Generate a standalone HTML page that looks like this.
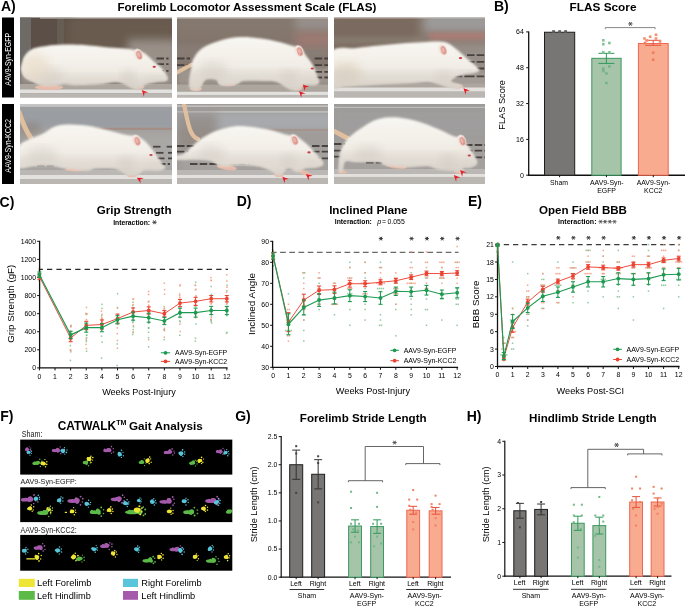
<!DOCTYPE html>
<html><head><meta charset="utf-8"><style>
html,body{margin:0;padding:0;background:#fff;width:685px;height:607px;overflow:hidden}
svg{display:block;will-change:transform}
svg text{font-family:"Liberation Sans", sans-serif}
</style></head><body>
<svg width="685" height="607" viewBox="0 0 685 607">
<text x="0.93" y="10.50" font-size="14.00" font-weight="bold" fill="#000" >A)</text>
<text x="117.45" y="10.70" font-size="11.61" font-weight="bold" fill="#000" >Forelimb Locomotor Assessment Scale (FLAS)</text>
<rect x="2.00" y="17.50" width="12.00" height="80.00" fill="#000" />
<rect x="2.00" y="104.00" width="12.00" height="80.00" fill="#000" />
<text transform="translate(10.70,85.63) rotate(-90) scale(1,1.2)" font-size="6.95" fill="#fff">AAV9-Syn-EGFP</text>
<text transform="translate(10.70,172.64) rotate(-90) scale(1,1.2)" font-size="7.13" fill="#fff">AAV9-Syn-KCC2</text>
<defs>
<filter id="bl" x="-10%" y="-10%" width="120%" height="120%"><feGaussianBlur stdDeviation="0.55"/></filter>
<filter id="bll" filterUnits="userSpaceOnUse" x="-20" y="-20" width="200" height="130"><feGaussianBlur stdDeviation="0.5"/></filter>
<filter id="blb" x="-10%" y="-10%" width="120%" height="120%"><feGaussianBlur stdDeviation="0.85"/></filter>
<filter id="bl2" x="-20%" y="-20%" width="140%" height="140%"><feGaussianBlur stdDeviation="2.2"/></filter>
<filter id="bl3" x="-20%" y="-20%" width="140%" height="140%"><feGaussianBlur stdDeviation="4"/></filter>
<linearGradient id="ratg" x1="0" y1="0" x2="0" y2="1">
 <stop offset="0" stop-color="#f8f6f1"/><stop offset="0.5" stop-color="#f2eee7"/><stop offset="0.8" stop-color="#e9e4dc"/><stop offset="1" stop-color="#d9d2c8"/></linearGradient>
<linearGradient id="floor" x1="0" y1="0" x2="0" y2="1">
 <stop offset="0" stop-color="#aba59f"/><stop offset="0.25" stop-color="#b5b0ab"/><stop offset="0.4" stop-color="#e4e2df"/><stop offset="0.6" stop-color="#d6d3d0"/><stop offset="1" stop-color="#b8b3af"/></linearGradient>
</defs>
<clipPath id="c20_17"><rect x="0" y="0" width="152" height="80"/></clipPath>
<g transform="translate(20,17.5)" clip-path="url(#c20_17)">
<rect x="0" y="0" width="152" height="80" fill="#66594f"/><rect x="-5" y="-5" width="60" height="50" fill="#5c5047" opacity="1" filter="url(#bl3)"/><rect x="0" y="0" width="11" height="70" fill="#6e6a66" opacity="1" filter="url(#bl)"/><rect x="37" y="0" width="7" height="40" fill="#6b6259" opacity="0.8" filter="url(#bl)"/><rect x="45" y="0" width="110" height="40" fill="#6a5b50" opacity="0.9" filter="url(#bl3)"/><rect x="108" y="22" width="50" height="45" fill="#9c938c" opacity="0.95" filter="url(#bl3)"/><rect x="0" y="56" width="160" height="12" fill="#958d87" opacity="1" filter="url(#bl2)"/><rect x="20" y="-2" width="140" height="3" fill="#d8d4d0" opacity="0.9" filter="url(#bl)"/>
<line x1="136.5" y1="41" x2="148.5" y2="41" stroke="#3b3532" stroke-width="1.8" stroke-dasharray="7.5,2.2" opacity="0.85" filter="url(#bll)"/>
<line x1="136.5" y1="46.6" x2="148.5" y2="46.6" stroke="#3b3532" stroke-width="1.8" stroke-dasharray="7.5,2.2" opacity="0.85" filter="url(#bll)"/>
<line x1="136.5" y1="53.3" x2="148.5" y2="53.3" stroke="#3b3532" stroke-width="1.8" stroke-dasharray="7.5,2.2" opacity="0.85" filter="url(#bll)"/>
<rect x="-2" y="66.5" width="156" height="6.0" fill="#aca69f" filter="url(#bl)"/>
<rect x="-2" y="72" width="156" height="4" fill="#e3e1de" filter="url(#bl)"/>
<rect x="-2" y="75.7" width="156" height="8" fill="#bab6b2" filter="url(#bl)"/>
<ellipse cx="29" cy="69.8" rx="14" ry="2.6" fill="#e7bbab" transform="rotate(0 29 69.8)" filter="url(#bl)"/>
<ellipse cx="119" cy="69.5" rx="5.5" ry="2.2" fill="#e7bbab" transform="rotate(0 119 69.5)" filter="url(#bl)"/>
<path d="M2.0,46.0C2.7,43.7 3.1,40.5 5.0,38.0C6.9,35.5 9.7,32.7 13.3,31.1C16.9,29.5 21.4,29.1 26.6,28.4C31.8,27.7 37.7,27.2 44.4,27.1C51.1,27.0 59.2,27.2 66.6,27.7C74.0,28.2 82.5,29.4 88.8,30.0C95.1,30.6 100.2,30.7 104.3,31.1C108.4,31.5 109.9,31.5 113.2,32.2C116.5,32.9 121.0,33.6 124.3,35.5C127.6,37.4 130.2,40.7 133.1,43.3C136.0,45.9 139.6,48.3 142.0,51.0C144.4,53.7 146.8,57.5 147.5,59.5C148.2,61.5 148.1,62.4 146.4,63.2C144.8,64.0 140.9,63.7 137.6,64.3C134.3,64.9 129.3,65.6 126.5,66.6C123.7,67.5 123.1,69.2 121.0,70.0C118.9,70.8 116.8,72.1 114.0,71.5C111.2,70.9 107.4,67.8 104.3,66.6C101.2,65.4 99.5,64.3 95.4,64.3C91.3,64.3 86.6,66.0 79.9,66.6C73.2,67.2 61.4,67.7 55.5,67.7C49.6,67.7 47.6,66.5 44.4,66.6C41.1,66.6 39.7,67.8 36.0,68.0C32.3,68.2 25.8,68.6 22.0,68.0C18.2,67.4 15.9,65.6 13.3,64.5C10.8,63.4 8.4,62.6 6.7,61.5C5.0,60.4 4.0,59.6 3.0,58.0C2.0,56.4 1.2,54.0 1.0,52.0C0.8,50.0 1.3,48.3 2.0,46.0Z" fill="url(#ratg)" filter="url(#blb)"/>
<clipPath id="c20_17b"><path d="M2.0,46.0C2.7,43.7 3.1,40.5 5.0,38.0C6.9,35.5 9.7,32.7 13.3,31.1C16.9,29.5 21.4,29.1 26.6,28.4C31.8,27.7 37.7,27.2 44.4,27.1C51.1,27.0 59.2,27.2 66.6,27.7C74.0,28.2 82.5,29.4 88.8,30.0C95.1,30.6 100.2,30.7 104.3,31.1C108.4,31.5 109.9,31.5 113.2,32.2C116.5,32.9 121.0,33.6 124.3,35.5C127.6,37.4 130.2,40.7 133.1,43.3C136.0,45.9 139.6,48.3 142.0,51.0C144.4,53.7 146.8,57.5 147.5,59.5C148.2,61.5 148.1,62.4 146.4,63.2C144.8,64.0 140.9,63.7 137.6,64.3C134.3,64.9 129.3,65.6 126.5,66.6C123.7,67.5 123.1,69.2 121.0,70.0C118.9,70.8 116.8,72.1 114.0,71.5C111.2,70.9 107.4,67.8 104.3,66.6C101.2,65.4 99.5,64.3 95.4,64.3C91.3,64.3 86.6,66.0 79.9,66.6C73.2,67.2 61.4,67.7 55.5,67.7C49.6,67.7 47.6,66.5 44.4,66.6C41.1,66.6 39.7,67.8 36.0,68.0C32.3,68.2 25.8,68.6 22.0,68.0C18.2,67.4 15.9,65.6 13.3,64.5C10.8,63.4 8.4,62.6 6.7,61.5C5.0,60.4 4.0,59.6 3.0,58.0C2.0,56.4 1.2,54.0 1.0,52.0C0.8,50.0 1.3,48.3 2.0,46.0Z"/></clipPath>
<g clip-path="url(#c20_17b)">
<ellipse cx="28" cy="58" rx="16" ry="8" fill="#c8c0b6" opacity="0.35" filter="url(#bl3)"/>
<ellipse cx="108" cy="60" rx="7" ry="8" fill="#c8c0b6" opacity="0.35" filter="url(#bl3)"/>
<ellipse cx="136" cy="62" rx="8" ry="3" fill="#c8c0b6" opacity="0.3" filter="url(#bl3)"/>
<rect x="-5" y="58" width="170" height="17" fill="#d4cec6" opacity="0.45" filter="url(#bl3)"/>
<ellipse cx="15" cy="50" rx="14" ry="14" fill="#e8dcc6" opacity="0.6" filter="url(#bl3)"/>
</g>
<ellipse cx="118.3" cy="37" rx="4.2" ry="6.0" fill="#f3e4de" transform="rotate(-20 118.3 37)" filter="url(#bl)"/>
<ellipse cx="118.89999999999999" cy="37.9" rx="2.6" ry="4.3" fill="#dc948a" transform="rotate(-20 118.3 37)" filter="url(#bl)"/>
<ellipse cx="118.6" cy="37.3" rx="1.4" ry="2.8" fill="#eab8ae" transform="rotate(-20 118.3 37)" filter="url(#bl)"/>
<ellipse cx="134.2" cy="49.3" rx="1.7" ry="1.1" fill="#c8404a" filter="url(#bl)"/>
<path d="M121.8,72.5L128.4,74.9L124.5,75.3L123.9,79.2Z" fill="#e51d25"/>
</g>
<clipPath id="c177_17"><rect x="0" y="0" width="151" height="80"/></clipPath>
<g transform="translate(177,17.5)" clip-path="url(#c177_17)">
<rect x="0" y="0" width="151" height="80" fill="#82756c"/><rect x="-5" y="-5" width="160" height="22" fill="#85786e" opacity="1" filter="url(#bl3)"/><rect x="-5" y="28" width="160" height="14" fill="#8b8079" opacity="0.8" filter="url(#bl3)"/><rect x="118" y="-5" width="40" height="18" fill="#9a928e" opacity="0.9" filter="url(#bl3)"/><rect x="118" y="15" width="40" height="14" fill="#a47c74" opacity="0.8" filter="url(#bl3)"/><rect x="0" y="50" width="160" height="18" fill="#9d948d" opacity="1" filter="url(#bl2)"/><rect x="-2" y="-2" width="160" height="3" fill="#d4cfca" opacity="0.9" filter="url(#bl)"/>
<line x1="0" y1="41" x2="13" y2="41" stroke="#3b3532" stroke-width="1.8" stroke-dasharray="7.5,2.2" opacity="0.85" filter="url(#bll)"/>
<line x1="0" y1="47.7" x2="13" y2="47.7" stroke="#3b3532" stroke-width="1.8" stroke-dasharray="7.5,2.2" opacity="0.85" filter="url(#bll)"/>
<line x1="137.6" y1="41" x2="153.6" y2="41" stroke="#3b3532" stroke-width="1.8" stroke-dasharray="7.5,2.2" opacity="0.85" filter="url(#bll)"/>
<line x1="137.6" y1="47.7" x2="153.6" y2="47.7" stroke="#3b3532" stroke-width="1.8" stroke-dasharray="7.5,2.2" opacity="0.85" filter="url(#bll)"/>
<line x1="137.6" y1="54.4" x2="153.6" y2="54.4" stroke="#3b3532" stroke-width="1.8" stroke-dasharray="7.5,2.2" opacity="0.85" filter="url(#bll)"/>
<line x1="137.6" y1="60" x2="153.6" y2="60" stroke="#3b3532" stroke-width="1.8" stroke-dasharray="7.5,2.2" opacity="0.85" filter="url(#bll)"/>
<rect x="-2" y="67" width="155" height="7.799999999999997" fill="#aca69f" filter="url(#bl)"/>
<rect x="-2" y="74.3" width="155" height="3.4000000000000057" fill="#e3e1de" filter="url(#bl)"/>
<rect x="-2" y="77.4" width="155" height="6.299999999999997" fill="#bab6b2" filter="url(#bl)"/>
<path d="M-2,56 C4,53 9,50 15,47" fill="none" stroke="#e0bf9f" stroke-width="3.8" stroke-linecap="round" filter="url(#bl)"/>
<ellipse cx="50" cy="66" rx="9" ry="2.6" fill="#e7bbab" transform="rotate(5 50 66)" filter="url(#bl)"/>
<ellipse cx="19" cy="71.5" rx="6" ry="2" fill="#e7bbab" transform="rotate(0 19 71.5)" filter="url(#bl)"/>
<ellipse cx="121" cy="71" rx="4" ry="2" fill="#e7bbab" transform="rotate(0 121 71)" filter="url(#bl)"/>
<path d="M14.4,50.0C15.0,46.5 14.2,46.1 15.5,43.3C16.8,40.5 19.2,36.1 22.2,33.3C25.2,30.5 28.5,28.6 33.3,26.6C38.1,24.6 45.5,22.3 51.0,21.1C56.5,19.9 61.0,19.5 66.6,19.5C72.1,19.5 78.8,20.4 84.3,21.1C89.8,21.9 95.0,22.9 99.8,24.0C104.6,25.1 109.2,26.5 113.2,27.7C117.2,28.9 121.4,29.3 124.0,31.0C126.6,32.7 126.8,35.1 128.7,37.7C130.6,40.3 133.5,43.3 135.3,46.6C137.2,49.9 138.7,54.6 139.8,57.7C140.9,60.8 142.4,63.3 142.0,65.0C141.6,66.7 139.8,67.2 137.6,67.7C135.4,68.2 131.1,67.2 128.7,67.7C126.3,68.2 124.9,70.1 123.1,71.0C121.2,71.9 119.6,73.2 117.6,73.2C115.6,73.2 114.0,72.5 111.0,71.0C108.0,69.5 103.5,65.6 99.8,64.3C96.1,63.0 94.3,63.4 88.8,63.2C83.3,63.0 71.4,62.6 66.6,63.2C61.8,63.8 63.6,65.8 59.9,66.6C56.2,67.3 47.9,68.5 44.4,67.7C40.9,67.0 41.4,63.0 38.8,62.1C36.2,61.2 31.2,61.0 28.8,62.1C26.4,63.2 25.9,67.0 24.4,68.8C22.9,70.6 21.9,72.6 20.0,73.0C18.1,73.4 14.6,72.5 13.3,71.0C12.0,69.5 12.0,67.8 12.2,64.3C12.4,60.8 13.8,53.5 14.4,50.0Z" fill="url(#ratg)" filter="url(#blb)"/>
<clipPath id="c177_17b"><path d="M14.4,50.0C15.0,46.5 14.2,46.1 15.5,43.3C16.8,40.5 19.2,36.1 22.2,33.3C25.2,30.5 28.5,28.6 33.3,26.6C38.1,24.6 45.5,22.3 51.0,21.1C56.5,19.9 61.0,19.5 66.6,19.5C72.1,19.5 78.8,20.4 84.3,21.1C89.8,21.9 95.0,22.9 99.8,24.0C104.6,25.1 109.2,26.5 113.2,27.7C117.2,28.9 121.4,29.3 124.0,31.0C126.6,32.7 126.8,35.1 128.7,37.7C130.6,40.3 133.5,43.3 135.3,46.6C137.2,49.9 138.7,54.6 139.8,57.7C140.9,60.8 142.4,63.3 142.0,65.0C141.6,66.7 139.8,67.2 137.6,67.7C135.4,68.2 131.1,67.2 128.7,67.7C126.3,68.2 124.9,70.1 123.1,71.0C121.2,71.9 119.6,73.2 117.6,73.2C115.6,73.2 114.0,72.5 111.0,71.0C108.0,69.5 103.5,65.6 99.8,64.3C96.1,63.0 94.3,63.4 88.8,63.2C83.3,63.0 71.4,62.6 66.6,63.2C61.8,63.8 63.6,65.8 59.9,66.6C56.2,67.3 47.9,68.5 44.4,67.7C40.9,67.0 41.4,63.0 38.8,62.1C36.2,61.2 31.2,61.0 28.8,62.1C26.4,63.2 25.9,67.0 24.4,68.8C22.9,70.6 21.9,72.6 20.0,73.0C18.1,73.4 14.6,72.5 13.3,71.0C12.0,69.5 12.0,67.8 12.2,64.3C12.4,60.8 13.8,53.5 14.4,50.0Z"/></clipPath>
<g clip-path="url(#c177_17b)">
<ellipse cx="36" cy="54" rx="14" ry="10" fill="#c8c0b6" opacity="0.35" filter="url(#bl3)"/>
<ellipse cx="112" cy="60" rx="8" ry="8" fill="#c8c0b6" opacity="0.35" filter="url(#bl3)"/>
<ellipse cx="134" cy="64" rx="8" ry="3" fill="#c8c0b6" opacity="0.3" filter="url(#bl3)"/>
<rect x="-5" y="54" width="170" height="16" fill="#d4cec6" opacity="0.45" filter="url(#bl3)"/>
</g>
<ellipse cx="122" cy="33.5" rx="4.2" ry="6.0" fill="#f3e4de" transform="rotate(-20 122 33.5)" filter="url(#bl)"/>
<ellipse cx="122.6" cy="34.4" rx="2.6" ry="4.3" fill="#dc948a" transform="rotate(-20 122 33.5)" filter="url(#bl)"/>
<ellipse cx="122.3" cy="33.8" rx="1.4" ry="2.8" fill="#eab8ae" transform="rotate(-20 122 33.5)" filter="url(#bl)"/>
<ellipse cx="135.3" cy="51" rx="1.7" ry="1.1" fill="#c8404a" filter="url(#bl)"/>
<path d="M125.7,66.9L132.3,69.3L128.4,69.7L127.8,73.6Z" fill="#e51d25"/>
<path d="M122.0,73.7L128.6,76.0L124.8,76.5L124.3,80.3Z" fill="#e51d25"/>
</g>
<clipPath id="c334_17"><rect x="0" y="0" width="151" height="80"/></clipPath>
<g transform="translate(334,17.5)" clip-path="url(#c334_17)">
<rect x="0" y="0" width="151" height="80" fill="#85786e"/><rect x="-5" y="-5" width="90" height="40" fill="#7a6a5e" opacity="1" filter="url(#bl3)"/><rect x="-5" y="19" width="95" height="8" fill="#877a70" opacity="0.9" filter="url(#bl2)"/><rect x="90" y="-5" width="70" height="20" fill="#9c9a9a" opacity="1" filter="url(#bl3)"/><rect x="95" y="15" width="60" height="8" fill="#b47c72" opacity="0.8" filter="url(#bl2)"/><rect x="80" y="25" width="80" height="45" fill="#978e88" opacity="1" filter="url(#bl3)"/><rect x="0" y="55" width="160" height="16" fill="#a39b95" opacity="1" filter="url(#bl2)"/><rect x="-2" y="-2" width="160" height="3" fill="#c2bcb6" opacity="0.9" filter="url(#bl)"/>
<line x1="133" y1="37.7" x2="152" y2="37.7" stroke="#3b3532" stroke-width="1.8" stroke-dasharray="7.5,2.2" opacity="0.85" filter="url(#bll)"/>
<line x1="133" y1="44.4" x2="152" y2="44.4" stroke="#3b3532" stroke-width="1.8" stroke-dasharray="7.5,2.2" opacity="0.85" filter="url(#bll)"/>
<line x1="133" y1="51" x2="152" y2="51" stroke="#3b3532" stroke-width="1.8" stroke-dasharray="7.5,2.2" opacity="0.85" filter="url(#bll)"/>
<line x1="133" y1="58.8" x2="152" y2="58.8" stroke="#3b3532" stroke-width="1.8" stroke-dasharray="7.5,2.2" opacity="0.85" filter="url(#bll)"/>
<line x1="111" y1="58.8" x2="133" y2="58.8" stroke="#3b3532" stroke-width="1.8" stroke-dasharray="7.5,2.2" opacity="0.85" filter="url(#bll)"/>
<rect x="-2" y="66" width="155" height="4.5" fill="#aca69f" filter="url(#bl)"/>
<rect x="-2" y="70" width="155" height="4.299999999999997" fill="#e3e1de" filter="url(#bl)"/>
<rect x="-2" y="74.0" width="155" height="9.700000000000003" fill="#bab6b2" filter="url(#bl)"/>
<ellipse cx="124" cy="69" rx="5" ry="2" fill="#e7bbab" transform="rotate(0 124 69)" filter="url(#bl)"/>
<path d="M-2.0,34.0C2.0,27.6 14.5,31.5 22.2,30.5C29.9,29.5 37.0,28.8 44.4,28.0C51.8,27.2 59.2,26.5 66.6,26.0C74.0,25.5 82.9,25.1 88.8,24.8C94.7,24.5 98.5,24.1 102.0,24.0C105.5,23.9 107.8,24.1 110.0,24.5C112.2,24.9 113.0,25.1 115.4,26.6C117.8,28.1 121.3,30.9 124.3,33.3C127.2,35.7 130.2,38.4 133.1,41.0C136.0,43.6 140.0,46.8 142.0,48.8C144.0,50.8 145.7,51.9 145.3,53.0C144.9,54.1 142.2,54.9 139.8,55.5C137.4,56.1 134.1,55.9 130.9,56.6C127.8,57.3 123.2,58.7 120.9,59.9C118.6,61.1 116.4,62.9 117.0,64.0C117.6,65.1 122.3,65.8 124.3,66.6C126.2,67.4 128.7,68.1 128.7,68.8C128.7,69.5 126.5,70.7 124.3,71.0C122.1,71.3 118.7,71.3 115.4,70.6C112.1,69.9 108.0,67.6 104.3,66.6C100.6,65.5 97.6,64.5 93.2,64.3C88.8,64.1 84.0,65.1 77.7,65.5C71.4,65.9 62.9,66.2 55.5,66.6C48.1,67.0 40.7,67.3 33.3,67.7C25.9,68.1 17.0,68.6 11.1,68.8C5.2,69.0 0.2,74.8 -2.0,69.0C-4.2,63.2 -6.0,40.4 -2.0,34.0Z" fill="url(#ratg)" filter="url(#blb)"/>
<clipPath id="c334_17b"><path d="M-2.0,34.0C2.0,27.6 14.5,31.5 22.2,30.5C29.9,29.5 37.0,28.8 44.4,28.0C51.8,27.2 59.2,26.5 66.6,26.0C74.0,25.5 82.9,25.1 88.8,24.8C94.7,24.5 98.5,24.1 102.0,24.0C105.5,23.9 107.8,24.1 110.0,24.5C112.2,24.9 113.0,25.1 115.4,26.6C117.8,28.1 121.3,30.9 124.3,33.3C127.2,35.7 130.2,38.4 133.1,41.0C136.0,43.6 140.0,46.8 142.0,48.8C144.0,50.8 145.7,51.9 145.3,53.0C144.9,54.1 142.2,54.9 139.8,55.5C137.4,56.1 134.1,55.9 130.9,56.6C127.8,57.3 123.2,58.7 120.9,59.9C118.6,61.1 116.4,62.9 117.0,64.0C117.6,65.1 122.3,65.8 124.3,66.6C126.2,67.4 128.7,68.1 128.7,68.8C128.7,69.5 126.5,70.7 124.3,71.0C122.1,71.3 118.7,71.3 115.4,70.6C112.1,69.9 108.0,67.6 104.3,66.6C100.6,65.5 97.6,64.5 93.2,64.3C88.8,64.1 84.0,65.1 77.7,65.5C71.4,65.9 62.9,66.2 55.5,66.6C48.1,67.0 40.7,67.3 33.3,67.7C25.9,68.1 17.0,68.6 11.1,68.8C5.2,69.0 0.2,74.8 -2.0,69.0C-4.2,63.2 -6.0,40.4 -2.0,34.0Z"/></clipPath>
<g clip-path="url(#c334_17b)">
<ellipse cx="12" cy="56" rx="16" ry="12" fill="#eadfca" opacity="0.7" filter="url(#bl3)"/>
<ellipse cx="12" cy="58" rx="14" ry="10" fill="#c8c0b6" opacity="0.35" filter="url(#bl3)"/>
<ellipse cx="110" cy="60" rx="8" ry="7" fill="#c8c0b6" opacity="0.35" filter="url(#bl3)"/>
<ellipse cx="132" cy="56" rx="8" ry="3" fill="#c8c0b6" opacity="0.3" filter="url(#bl3)"/>
<rect x="-5" y="55" width="170" height="17" fill="#d4cec6" opacity="0.45" filter="url(#bl3)"/>
</g>
<ellipse cx="108.7" cy="32.2" rx="4.2" ry="6.0" fill="#f3e4de" transform="rotate(-20 108.7 32.2)" filter="url(#bl)"/>
<ellipse cx="109.3" cy="33.1" rx="2.6" ry="4.3" fill="#dc948a" transform="rotate(-20 108.7 32.2)" filter="url(#bl)"/>
<ellipse cx="109.0" cy="32.5" rx="1.4" ry="2.8" fill="#eab8ae" transform="rotate(-20 108.7 32.2)" filter="url(#bl)"/>
<ellipse cx="126.5" cy="40.6" rx="1.7" ry="1.1" fill="#c8404a" filter="url(#bl)"/>
<path d="M129.4,70.7L136.0,73.0L132.2,73.5L131.7,77.3Z" fill="#e51d25"/>
</g>
<clipPath id="c20_104"><rect x="0" y="0" width="152" height="80"/></clipPath>
<g transform="translate(20,104)" clip-path="url(#c20_104)">
<rect x="0" y="0" width="152" height="80" fill="#a3a09e"/><rect x="-5" y="-5" width="165" height="8" fill="#c8c8c8" opacity="1" filter="url(#bl)"/><rect x="-5" y="4" width="165" height="20" fill="#9a9ea3" opacity="1" filter="url(#bl2)"/><rect x="0" y="20" width="20" height="30" fill="#8c827b" opacity="0.8" filter="url(#bl3)"/><rect x="60" y="23.8" width="100" height="2.2" fill="#a4887f" opacity="0.9" filter="url(#bl)"/><rect x="0" y="30" width="160" height="36" fill="#aaa8a6" opacity="1" filter="url(#bl3)"/>
<line x1="133" y1="42.7" x2="142" y2="42.7" stroke="#3b3532" stroke-width="1.8" stroke-dasharray="7.5,2.2" opacity="0.85" filter="url(#bll)"/>
<line x1="146.7" y1="42.7" x2="152.7" y2="42.7" stroke="#3b3532" stroke-width="1.8" stroke-dasharray="7.5,2.2" opacity="0.85" filter="url(#bll)"/>
<line x1="136" y1="48.8" x2="145" y2="48.8" stroke="#3b3532" stroke-width="1.8" stroke-dasharray="7.5,2.2" opacity="0.85" filter="url(#bll)"/>
<line x1="148" y1="48.8" x2="153" y2="48.8" stroke="#3b3532" stroke-width="1.8" stroke-dasharray="7.5,2.2" opacity="0.85" filter="url(#bll)"/>
<line x1="137" y1="54.4" x2="145" y2="54.4" stroke="#3b3532" stroke-width="1.8" stroke-dasharray="7.5,2.2" opacity="0.85" filter="url(#bll)"/>
<line x1="148" y1="54.4" x2="153" y2="54.4" stroke="#3b3532" stroke-width="1.8" stroke-dasharray="7.5,2.2" opacity="0.85" filter="url(#bll)"/>
<line x1="138" y1="60" x2="150" y2="60" stroke="#3b3532" stroke-width="1.8" stroke-dasharray="7.5,2.2" opacity="0.85" filter="url(#bll)"/>
<line x1="0" y1="42.7" x2="5" y2="42.7" stroke="#3b3532" stroke-width="1.8" stroke-dasharray="7.5,2.2" opacity="0.85" filter="url(#bll)"/>
<line x1="17" y1="61.3" x2="37" y2="61.3" stroke="#3b3532" stroke-width="1.8" stroke-dasharray="7.5,2.2" opacity="0.85" filter="url(#bll)"/>
<rect x="-2" y="66" width="156" height="5.5" fill="#bab7b4" filter="url(#bl)"/>
<rect x="-2" y="71" width="156" height="4.400000000000006" fill="#e3e1de" filter="url(#bl)"/>
<rect x="-2" y="75.10000000000001" width="156" height="8.599999999999994" fill="#bab6b2" filter="url(#bl)"/>
<path d="M-1,8 C2,17 6,27 11,34" fill="none" stroke="#e0bf9f" stroke-width="4.8" stroke-linecap="round" filter="url(#bl)"/>
<ellipse cx="55" cy="65.3" rx="10" ry="2.2" fill="#e7bbab" transform="rotate(0 55 65.3)" filter="url(#bl)"/>
<ellipse cx="112" cy="71.5" rx="5" ry="1.8" fill="#e7bbab" transform="rotate(0 112 71.5)" filter="url(#bl)"/>
<path d="M-2.0,43.3C-0.2,38.7 4.9,37.7 8.9,35.5C12.9,33.3 17.8,32.2 22.2,30.0C26.6,27.8 30.7,23.8 35.5,22.2C40.3,20.6 45.1,20.4 51.0,20.4C56.9,20.4 64.7,21.2 71.0,22.2C77.3,23.2 82.9,25.1 88.8,26.6C94.7,28.1 102.0,30.2 106.5,31.1C111.0,32.0 113.0,31.1 116.0,32.0C119.0,32.9 121.5,34.2 124.3,36.6C127.1,39.0 130.2,42.7 133.1,46.6C136.0,50.5 140.0,57.0 142.0,59.9C144.0,62.8 146.0,62.9 145.3,64.0C144.6,65.1 141.1,66.2 137.6,66.6C134.1,67.0 127.6,65.9 124.3,66.6C121.0,67.3 120.2,70.1 117.6,71.0C115.0,71.9 111.3,72.6 108.7,72.1C106.1,71.5 104.6,69.0 102.0,67.7C99.4,66.4 97.6,64.9 93.2,64.3C88.8,63.7 79.8,63.9 75.4,64.3C71.0,64.7 71.8,66.6 66.6,66.6C61.4,66.6 49.9,65.0 44.4,64.3C38.9,63.5 38.5,62.5 33.3,62.1C28.1,61.7 19.2,61.9 13.3,62.1C7.4,62.3 0.6,66.3 -2.0,63.2C-4.6,60.1 -3.8,47.9 -2.0,43.3Z" fill="url(#ratg)" filter="url(#blb)"/>
<clipPath id="c20_104b"><path d="M-2.0,43.3C-0.2,38.7 4.9,37.7 8.9,35.5C12.9,33.3 17.8,32.2 22.2,30.0C26.6,27.8 30.7,23.8 35.5,22.2C40.3,20.6 45.1,20.4 51.0,20.4C56.9,20.4 64.7,21.2 71.0,22.2C77.3,23.2 82.9,25.1 88.8,26.6C94.7,28.1 102.0,30.2 106.5,31.1C111.0,32.0 113.0,31.1 116.0,32.0C119.0,32.9 121.5,34.2 124.3,36.6C127.1,39.0 130.2,42.7 133.1,46.6C136.0,50.5 140.0,57.0 142.0,59.9C144.0,62.8 146.0,62.9 145.3,64.0C144.6,65.1 141.1,66.2 137.6,66.6C134.1,67.0 127.6,65.9 124.3,66.6C121.0,67.3 120.2,70.1 117.6,71.0C115.0,71.9 111.3,72.6 108.7,72.1C106.1,71.5 104.6,69.0 102.0,67.7C99.4,66.4 97.6,64.9 93.2,64.3C88.8,63.7 79.8,63.9 75.4,64.3C71.0,64.7 71.8,66.6 66.6,66.6C61.4,66.6 49.9,65.0 44.4,64.3C38.9,63.5 38.5,62.5 33.3,62.1C28.1,61.7 19.2,61.9 13.3,62.1C7.4,62.3 0.6,66.3 -2.0,63.2C-4.6,60.1 -3.8,47.9 -2.0,43.3Z"/></clipPath>
<g clip-path="url(#c20_104b)">
<ellipse cx="22" cy="52" rx="16" ry="9" fill="#c8c0b6" opacity="0.35" filter="url(#bl3)"/>
<ellipse cx="106" cy="60" rx="8" ry="8" fill="#c8c0b6" opacity="0.35" filter="url(#bl3)"/>
<ellipse cx="134" cy="63" rx="8" ry="3" fill="#c8c0b6" opacity="0.3" filter="url(#bl3)"/>
<rect x="-5" y="54" width="170" height="16" fill="#d4cec6" opacity="0.45" filter="url(#bl3)"/>
</g>
<ellipse cx="116.5" cy="36.6" rx="4.2" ry="6.0" fill="#f3e4de" transform="rotate(-20 116.5 36.6)" filter="url(#bl)"/>
<ellipse cx="117.1" cy="37.5" rx="2.6" ry="4.3" fill="#dc948a" transform="rotate(-20 116.5 36.6)" filter="url(#bl)"/>
<ellipse cx="116.8" cy="36.9" rx="1.4" ry="2.8" fill="#eab8ae" transform="rotate(-20 116.5 36.6)" filter="url(#bl)"/>
<ellipse cx="131" cy="51" rx="1.7" ry="1.1" fill="#c8404a" filter="url(#bl)"/>
<path d="M116.8,73.7L123.8,74.0L120.2,75.6L120.8,79.5Z" fill="#e51d25"/>
</g>
<clipPath id="c177_104"><rect x="0" y="0" width="151" height="80"/></clipPath>
<g transform="translate(177,104)" clip-path="url(#c177_104)">
<rect x="0" y="0" width="151" height="80" fill="#a09c9a"/><rect x="-2" y="9" width="160" height="16" fill="#a7a9ac" opacity="1" filter="url(#bl2)"/><rect x="-2" y="1.5" width="160" height="1.2" fill="#d0d0d0" opacity="1" filter="url(#bl)"/><rect x="-2" y="7.3" width="160" height="1.2" fill="#c8c8c8" opacity="1" filter="url(#bl)"/><rect x="0" y="10" width="40" height="55" fill="#8f8680" opacity="0.7" filter="url(#bl3)"/><rect x="90" y="25" width="62" height="2" fill="#a88c84" opacity="0.6" filter="url(#bl)"/><rect x="0" y="45" width="160" height="25" fill="#a5a19e" opacity="1" filter="url(#bl3)"/>
<line x1="135" y1="42" x2="152" y2="42" stroke="#3b3532" stroke-width="1.8" stroke-dasharray="7.5,2.2" opacity="0.85" filter="url(#bll)"/>
<line x1="135" y1="47.7" x2="152" y2="47.7" stroke="#3b3532" stroke-width="1.8" stroke-dasharray="7.5,2.2" opacity="0.85" filter="url(#bll)"/>
<line x1="135" y1="54.4" x2="152" y2="54.4" stroke="#3b3532" stroke-width="1.8" stroke-dasharray="7.5,2.2" opacity="0.85" filter="url(#bll)"/>
<line x1="0" y1="42" x2="17.7" y2="42" stroke="#3b3532" stroke-width="1.8" stroke-dasharray="7.5,2.2" opacity="0.85" filter="url(#bll)"/>
<line x1="0" y1="47.7" x2="17.7" y2="47.7" stroke="#3b3532" stroke-width="1.8" stroke-dasharray="7.5,2.2" opacity="0.85" filter="url(#bll)"/>
<line x1="13" y1="60" x2="73" y2="60" stroke="#3b3532" stroke-width="1.8" stroke-dasharray="7.5,2.2" opacity="0.85" filter="url(#bll)"/>
<rect x="-2" y="66" width="155" height="5.5" fill="#bab7b4" filter="url(#bl)"/>
<rect x="-2" y="71" width="155" height="3.299999999999997" fill="#e3e1de" filter="url(#bl)"/>
<rect x="-2" y="74.0" width="155" height="9.700000000000003" fill="#bab6b2" filter="url(#bl)"/>
<path d="M6.7,-1 C9,9 11,22 14,28 C16,32 18,34 21,35" fill="none" stroke="#e0bf9f" stroke-width="4.2" stroke-linecap="round" filter="url(#bl)"/>
<ellipse cx="50" cy="63.5" rx="10" ry="2.4" fill="#e7bbab" transform="rotate(8 50 63.5)" filter="url(#bl)"/>
<ellipse cx="128" cy="69" rx="7" ry="2.2" fill="#e7bbab" transform="rotate(20 128 69)" filter="url(#bl)"/>
<ellipse cx="102" cy="71" rx="4.5" ry="2" fill="#e7bbab" transform="rotate(0 102 71)" filter="url(#bl)"/>
<path d="M-2.0,52.0C-0.6,51.1 3.4,52.0 6.7,50.0C10.0,48.0 14.5,42.8 17.8,40.0C21.1,37.2 22.9,35.5 26.6,33.3C30.3,31.1 34.8,28.5 40.0,26.6C45.2,24.8 51.4,22.8 57.7,22.2C64.0,21.6 71.4,22.6 77.7,23.3C84.0,24.0 89.9,25.3 95.4,26.6C101.0,27.9 107.2,30.3 111.0,31.1C114.8,31.9 115.8,30.8 118.0,31.5C120.2,32.2 121.8,33.5 124.3,35.5C126.8,37.5 130.2,40.3 133.1,43.3C136.0,46.3 139.8,50.5 142.0,53.3C144.2,56.1 146.8,58.2 146.4,59.9C146.0,61.5 142.8,62.5 139.8,63.2C136.9,63.9 131.3,63.7 128.7,64.3C126.1,64.9 125.8,66.0 124.3,66.6C122.8,67.2 122.2,68.4 120.0,68.0C117.8,67.6 113.6,63.8 111.0,64.3C108.4,64.8 106.2,69.9 104.3,71.0C102.4,72.1 101.6,71.7 99.8,71.0C98.0,70.3 96.5,68.1 93.2,66.6C89.9,65.1 85.1,63.0 79.9,62.1C74.7,61.2 68.0,61.0 62.1,61.0C56.2,61.0 49.2,62.8 44.4,62.1C39.6,61.4 37.7,57.7 33.3,56.6C28.9,55.5 23.7,55.7 17.8,55.5C11.9,55.3 1.3,56.1 -2.0,55.5C-5.3,54.9 -3.5,52.9 -2.0,52.0Z" fill="url(#ratg)" filter="url(#blb)"/>
<clipPath id="c177_104b"><path d="M-2.0,52.0C-0.6,51.1 3.4,52.0 6.7,50.0C10.0,48.0 14.5,42.8 17.8,40.0C21.1,37.2 22.9,35.5 26.6,33.3C30.3,31.1 34.8,28.5 40.0,26.6C45.2,24.8 51.4,22.8 57.7,22.2C64.0,21.6 71.4,22.6 77.7,23.3C84.0,24.0 89.9,25.3 95.4,26.6C101.0,27.9 107.2,30.3 111.0,31.1C114.8,31.9 115.8,30.8 118.0,31.5C120.2,32.2 121.8,33.5 124.3,35.5C126.8,37.5 130.2,40.3 133.1,43.3C136.0,46.3 139.8,50.5 142.0,53.3C144.2,56.1 146.8,58.2 146.4,59.9C146.0,61.5 142.8,62.5 139.8,63.2C136.9,63.9 131.3,63.7 128.7,64.3C126.1,64.9 125.8,66.0 124.3,66.6C122.8,67.2 122.2,68.4 120.0,68.0C117.8,67.6 113.6,63.8 111.0,64.3C108.4,64.8 106.2,69.9 104.3,71.0C102.4,72.1 101.6,71.7 99.8,71.0C98.0,70.3 96.5,68.1 93.2,66.6C89.9,65.1 85.1,63.0 79.9,62.1C74.7,61.2 68.0,61.0 62.1,61.0C56.2,61.0 49.2,62.8 44.4,62.1C39.6,61.4 37.7,57.7 33.3,56.6C28.9,55.5 23.7,55.7 17.8,55.5C11.9,55.3 1.3,56.1 -2.0,55.5C-5.3,54.9 -3.5,52.9 -2.0,52.0Z"/></clipPath>
<g clip-path="url(#c177_104b)">
<ellipse cx="34" cy="50" rx="14" ry="9" fill="#c8c0b6" opacity="0.35" filter="url(#bl3)"/>
<ellipse cx="112" cy="58" rx="8" ry="8" fill="#c8c0b6" opacity="0.35" filter="url(#bl3)"/>
<ellipse cx="134" cy="61" rx="8" ry="3" fill="#c8c0b6" opacity="0.3" filter="url(#bl3)"/>
<rect x="-5" y="50" width="170" height="18" fill="#d4cec6" opacity="0.45" filter="url(#bl3)"/>
</g>
<ellipse cx="117.1" cy="35.9" rx="4.2" ry="6.0" fill="#f3e4de" transform="rotate(-20 117.1 35.9)" filter="url(#bl)"/>
<ellipse cx="117.69999999999999" cy="36.8" rx="2.6" ry="4.3" fill="#dc948a" transform="rotate(-20 117.1 35.9)" filter="url(#bl)"/>
<ellipse cx="117.39999999999999" cy="36.199999999999996" rx="1.4" ry="2.8" fill="#eab8ae" transform="rotate(-20 117.1 35.9)" filter="url(#bl)"/>
<ellipse cx="132" cy="48.4" rx="1.7" ry="1.1" fill="#c8404a" filter="url(#bl)"/>
<path d="M105.3,72.7L111.9,75.0L108.1,75.5L107.6,79.3Z" fill="#e51d25"/>
<path d="M128.9,70.1L135.7,71.8L131.9,72.6L131.7,76.5Z" fill="#e51d25"/>
</g>
<clipPath id="c334_104"><rect x="0" y="0" width="151" height="80"/></clipPath>
<g transform="translate(334,104)" clip-path="url(#c334_104)">
<rect x="0" y="0" width="151" height="80" fill="#9d9b99"/><rect x="-2" y="2.8" width="160" height="1.2" fill="#c8c8c8" opacity="1" filter="url(#bl)"/><rect x="0" y="5" width="160" height="30" fill="#a09e9e" opacity="0.8" filter="url(#bl3)"/><rect x="0" y="40" width="160" height="30" fill="#a4a09d" opacity="1" filter="url(#bl3)"/>
<line x1="131" y1="41" x2="152" y2="41" stroke="#3b3532" stroke-width="1.8" stroke-dasharray="7.5,2.2" opacity="0.85" filter="url(#bll)"/>
<line x1="131" y1="46.6" x2="152" y2="46.6" stroke="#3b3532" stroke-width="1.8" stroke-dasharray="7.5,2.2" opacity="0.85" filter="url(#bll)"/>
<line x1="131" y1="53.3" x2="152" y2="53.3" stroke="#3b3532" stroke-width="1.8" stroke-dasharray="7.5,2.2" opacity="0.85" filter="url(#bll)"/>
<line x1="0" y1="40" x2="11" y2="40" stroke="#3b3532" stroke-width="1.8" stroke-dasharray="7.5,2.2" opacity="0.85" filter="url(#bll)"/>
<line x1="0" y1="46.6" x2="11" y2="46.6" stroke="#3b3532" stroke-width="1.8" stroke-dasharray="7.5,2.2" opacity="0.85" filter="url(#bll)"/>
<line x1="0" y1="52.7" x2="10" y2="52.7" stroke="#3b3532" stroke-width="1.8" stroke-dasharray="7.5,2.2" opacity="0.85" filter="url(#bll)"/>
<line x1="32" y1="58.7" x2="77" y2="58.7" stroke="#3b3532" stroke-width="1.8" stroke-dasharray="7.5,2.2" opacity="0.85" filter="url(#bll)"/>
<rect x="-2" y="65" width="155" height="5.5" fill="#bab7b4" filter="url(#bl)"/>
<rect x="-2" y="70" width="155" height="3.200000000000003" fill="#e3e1de" filter="url(#bl)"/>
<rect x="-2" y="72.9" width="155" height="10.799999999999997" fill="#bab6b2" filter="url(#bl)"/>
<path d="M-1,26.5 C5,29.5 10,32.5 15,35" fill="none" stroke="#e0bf9f" stroke-width="4.6" stroke-linecap="round" filter="url(#bl)"/>
<ellipse cx="62" cy="62" rx="11" ry="2.4" fill="#e7bbab" transform="rotate(8 62 62)" filter="url(#bl)"/>
<ellipse cx="8.5" cy="68" rx="4.5" ry="1.6" fill="#e7bbab" transform="rotate(0 8.5 68)" filter="url(#bl)"/>
<ellipse cx="125" cy="68" rx="5" ry="1.8" fill="#e7bbab" transform="rotate(10 125 68)" filter="url(#bl)"/>
<path d="M10.0,40.0C11.6,37.3 12.7,35.6 15.5,33.0C18.3,30.4 22.5,27.2 26.6,24.5C30.7,21.8 35.2,18.4 40.0,16.5C44.8,14.6 50.3,13.6 55.5,13.3C60.7,13.0 65.5,13.6 71.0,14.5C76.5,15.4 82.9,17.1 88.8,19.0C94.7,20.9 101.3,23.8 106.5,26.0C111.7,28.2 116.2,30.9 119.8,32.2C123.4,33.5 125.8,32.5 128.0,34.0C130.2,35.5 131.3,38.5 133.1,41.0C134.9,43.5 137.0,45.8 138.7,48.8C140.4,51.8 143.3,56.4 143.1,58.8C142.9,61.2 140.0,62.3 137.6,63.2C135.2,64.1 130.0,63.4 128.7,64.3C127.4,65.2 131.2,68.3 129.8,68.8C128.4,69.2 124.2,67.5 120.0,67.0C115.8,66.5 108.8,66.3 104.3,65.5C99.8,64.7 98.4,62.5 93.2,62.1C88.0,61.7 80.2,63.4 73.2,63.2C66.2,63.0 55.8,61.9 51.0,61.0C46.2,60.1 49.2,58.5 44.4,58.0C39.6,57.5 27.6,58.2 22.2,58.0C16.8,57.8 14.1,56.3 12.0,57.0C9.9,57.7 10.0,60.3 9.5,62.0C9.0,63.7 9.6,66.1 8.8,67.0C8.0,67.9 5.4,69.0 4.8,67.5C4.2,66.0 4.8,61.1 5.0,58.0C5.2,54.9 5.2,52.0 6.0,49.0C6.8,46.0 8.4,42.7 10.0,40.0Z" fill="url(#ratg)" filter="url(#blb)"/>
<clipPath id="c334_104b"><path d="M10.0,40.0C11.6,37.3 12.7,35.6 15.5,33.0C18.3,30.4 22.5,27.2 26.6,24.5C30.7,21.8 35.2,18.4 40.0,16.5C44.8,14.6 50.3,13.6 55.5,13.3C60.7,13.0 65.5,13.6 71.0,14.5C76.5,15.4 82.9,17.1 88.8,19.0C94.7,20.9 101.3,23.8 106.5,26.0C111.7,28.2 116.2,30.9 119.8,32.2C123.4,33.5 125.8,32.5 128.0,34.0C130.2,35.5 131.3,38.5 133.1,41.0C134.9,43.5 137.0,45.8 138.7,48.8C140.4,51.8 143.3,56.4 143.1,58.8C142.9,61.2 140.0,62.3 137.6,63.2C135.2,64.1 130.0,63.4 128.7,64.3C127.4,65.2 131.2,68.3 129.8,68.8C128.4,69.2 124.2,67.5 120.0,67.0C115.8,66.5 108.8,66.3 104.3,65.5C99.8,64.7 98.4,62.5 93.2,62.1C88.0,61.7 80.2,63.4 73.2,63.2C66.2,63.0 55.8,61.9 51.0,61.0C46.2,60.1 49.2,58.5 44.4,58.0C39.6,57.5 27.6,58.2 22.2,58.0C16.8,57.8 14.1,56.3 12.0,57.0C9.9,57.7 10.0,60.3 9.5,62.0C9.0,63.7 9.6,66.1 8.8,67.0C8.0,67.9 5.4,69.0 4.8,67.5C4.2,66.0 4.8,61.1 5.0,58.0C5.2,54.9 5.2,52.0 6.0,49.0C6.8,46.0 8.4,42.7 10.0,40.0Z"/></clipPath>
<g clip-path="url(#c334_104b)">
<ellipse cx="34" cy="50" rx="14" ry="9" fill="#c8c0b6" opacity="0.35" filter="url(#bl3)"/>
<ellipse cx="114" cy="58" rx="8" ry="8" fill="#c8c0b6" opacity="0.35" filter="url(#bl3)"/>
<ellipse cx="134" cy="61" rx="8" ry="3" fill="#c8c0b6" opacity="0.3" filter="url(#bl3)"/>
<rect x="-5" y="50" width="170" height="16" fill="#d4cec6" opacity="0.45" filter="url(#bl3)"/>
</g>
<ellipse cx="127.6" cy="36.6" rx="4.2" ry="6.0" fill="#f3e4de" transform="rotate(-20 127.6 36.6)" filter="url(#bl)"/>
<ellipse cx="128.2" cy="37.5" rx="2.6" ry="4.3" fill="#dc948a" transform="rotate(-20 127.6 36.6)" filter="url(#bl)"/>
<ellipse cx="127.89999999999999" cy="36.9" rx="1.4" ry="2.8" fill="#eab8ae" transform="rotate(-20 127.6 36.6)" filter="url(#bl)"/>
<ellipse cx="135.3" cy="51.5" rx="1.7" ry="1.1" fill="#c8404a" filter="url(#bl)"/>
<path d="M126.1,66.0L132.7,68.4L128.8,68.8L128.2,72.7Z" fill="#e51d25"/>
<path d="M119.8,71.1L126.4,73.4L122.6,73.9L122.1,77.7Z" fill="#e51d25"/>
</g>
<text x="493.90" y="10.80" font-size="14.00" font-weight="bold" fill="#000" >B)</text>
<text x="569.53" y="11.10" font-size="11.82" font-weight="bold" fill="#000" >FLAS Score</text>
<line x1="528.70" y1="31.40" x2="528.70" y2="175.80" stroke="#111" stroke-width="1.3" />
<line x1="528.10" y1="175.30" x2="685.00" y2="175.30" stroke="#111" stroke-width="1.45" />
<line x1="526.20" y1="175.20" x2="528.70" y2="175.20" stroke="#111" stroke-width="1" />
<text x="523.80" y="177.70" font-size="7.0" text-anchor="end" fill="#000" >0</text>
<line x1="526.20" y1="139.38" x2="528.70" y2="139.38" stroke="#111" stroke-width="1" />
<text x="523.80" y="141.88" font-size="7.0" text-anchor="end" fill="#000" >16</text>
<line x1="526.20" y1="103.55" x2="528.70" y2="103.55" stroke="#111" stroke-width="1" />
<text x="523.80" y="106.05" font-size="7.0" text-anchor="end" fill="#000" >32</text>
<line x1="526.20" y1="67.72" x2="528.70" y2="67.72" stroke="#111" stroke-width="1" />
<text x="523.80" y="70.22" font-size="7.0" text-anchor="end" fill="#000" >48</text>
<line x1="526.20" y1="31.90" x2="528.70" y2="31.90" stroke="#111" stroke-width="1" />
<text x="523.80" y="34.40" font-size="7.0" text-anchor="end" fill="#000" >64</text>
<text transform="translate(505.30,129.74) rotate(-90)" font-size="9.22" fill="#000">FLAS Score</text>
<rect x="544.50" y="32.24" width="30.20" height="142.96" fill="#787674" stroke="#1e1e1e" stroke-width="1"/>
<line x1="559.60" y1="175.20" x2="559.60" y2="177.20" stroke="#111" stroke-width="1" />
<rect x="591.80" y="58.32" width="29.30" height="116.88" fill="#a6c4a8" stroke="#3a9a62" stroke-width="1"/>
<line x1="606.45" y1="175.20" x2="606.45" y2="177.20" stroke="#111" stroke-width="1" />
<rect x="638.40" y="43.54" width="29.80" height="131.66" fill="#f8ab8f" stroke="#ee6652" stroke-width="1"/>
<line x1="653.30" y1="175.20" x2="653.30" y2="177.20" stroke="#111" stroke-width="1" />
<rect x="552.15" y="30.20" width="2.90" height="2.60" fill="#5e5e5e" />
<rect x="558.15" y="30.20" width="2.90" height="2.60" fill="#5e5e5e" />
<rect x="564.15" y="30.20" width="2.90" height="2.60" fill="#5e5e5e" />
<line x1="606.40" y1="53.30" x2="606.40" y2="63.40" stroke="#2e9a5c" stroke-width="1" />
<line x1="598.40" y1="53.30" x2="614.40" y2="53.30" stroke="#2e9a5c" stroke-width="1" />
<line x1="598.40" y1="63.40" x2="614.40" y2="63.40" stroke="#2e9a5c" stroke-width="1" />
<rect x="602.00" y="39.00" width="2.60" height="2.60" fill="#86c095" />
<rect x="602.00" y="42.90" width="2.60" height="2.60" fill="#86c095" />
<rect x="608.10" y="41.70" width="2.60" height="2.60" fill="#86c095" />
<rect x="602.00" y="51.00" width="2.60" height="2.60" fill="#86c095" />
<rect x="608.10" y="51.00" width="2.60" height="2.60" fill="#86c095" />
<rect x="602.00" y="67.40" width="2.60" height="2.60" fill="#74b487" />
<rect x="608.10" y="65.20" width="2.60" height="2.60" fill="#74b487" />
<rect x="605.10" y="72.20" width="2.60" height="2.60" fill="#74b487" />
<rect x="605.10" y="81.70" width="2.60" height="2.60" fill="#74b487" />
<rect x="602.00" y="69.70" width="2.60" height="2.60" fill="#74b487" />
<line x1="653.20" y1="40.30" x2="653.20" y2="45.30" stroke="#e8503c" stroke-width="1" />
<line x1="645.20" y1="40.30" x2="661.20" y2="40.30" stroke="#e8503c" stroke-width="1" />
<line x1="645.20" y1="45.30" x2="661.20" y2="45.30" stroke="#e8503c" stroke-width="1" />
<rect x="643.20" y="37.20" width="2.60" height="2.60" fill="#f3906f" />
<rect x="648.90" y="35.50" width="2.60" height="2.60" fill="#f3906f" />
<rect x="654.70" y="33.50" width="2.60" height="2.60" fill="#f3906f" />
<rect x="654.70" y="37.20" width="2.60" height="2.60" fill="#f3906f" />
<rect x="658.70" y="40.20" width="2.60" height="2.60" fill="#f3906f" />
<rect x="643.70" y="41.70" width="2.60" height="2.60" fill="#ef7c5c" />
<rect x="651.90" y="51.40" width="2.60" height="2.60" fill="#ef7c5c" />
<rect x="651.90" y="58.50" width="2.60" height="2.60" fill="#ef7c5c" />
<rect x="645.70" y="39.20" width="2.60" height="2.60" fill="#f3906f" />
<path d="M605.3,29.2 V27.6 H655.1 V29.2" fill="none" stroke="#888" stroke-width="1"/>
<path d="M628.20,23.90L632.60,23.90M629.30,21.99L631.50,25.81M631.50,21.99L629.30,25.81" stroke="#444" stroke-width="0.9" fill="none"/>
<text x="549.98" y="184.90" font-size="6.90" fill="#000" >Sham</text>
<text x="589.99" y="184.90" font-size="6.90" fill="#000" >AAV9-Syn-</text>
<text x="597.18" y="193.30" font-size="6.90" fill="#000" >EGFP</text>
<text x="636.69" y="184.90" font-size="6.90" fill="#000" >AAV9-Syn-</text>
<text x="644.07" y="193.30" font-size="6.90" fill="#000" >KCC2</text>
<text x="-0.43" y="207.20" font-size="14.00" font-weight="bold" fill="#000" >C)</text>
<text x="96.74" y="214.30" font-size="11.61" font-weight="bold" fill="#000" >Grip Strength</text>
<text x="113.16" y="224.50" font-size="6.79" font-weight="bold" fill="#000" >Interaction:</text><path d="M152.3,222.3L156.7,222.3M153.4,220.4L155.6,224.2M155.6,220.4L153.4,224.2" stroke="#333" stroke-width="0.9"/>
<line x1="39.60" y1="269.33" x2="228.00" y2="269.33" stroke="#282828" stroke-width="1.15" stroke-dasharray="5.3,4.1" stroke-dashoffset="2.00"/>
<rect x="39.05" y="273.65" width="1.5" height="1.5" fill="#7fbf8e" opacity="0.85"/>
<rect x="38.63" y="269.26" width="1.5" height="1.5" fill="#7fbf8e" opacity="0.85"/>
<rect x="38.92" y="277.55" width="1.5" height="1.5" fill="#7fbf8e" opacity="0.85"/>
<rect x="38.63" y="270.24" width="1.5" height="1.5" fill="#7fbf8e" opacity="0.85"/>
<rect x="38.76" y="274.99" width="1.5" height="1.5" fill="#7fbf8e" opacity="0.85"/>
<rect x="38.37" y="275.00" width="1.5" height="1.5" fill="#7fbf8e" opacity="0.85"/>
<rect x="38.76" y="266.79" width="1.5" height="1.5" fill="#7fbf8e" opacity="0.85"/>
<rect x="38.94" y="273.41" width="1.5" height="1.5" fill="#7fbf8e" opacity="0.85"/>
<rect x="38.67" y="274.17" width="1.5" height="1.5" fill="#7fbf8e" opacity="0.85"/>
<rect x="38.84" y="271.24" width="1.5" height="1.5" fill="#7fbf8e" opacity="0.85"/>
<rect x="70.06" y="336.33" width="1.5" height="1.5" fill="#7fbf8e" opacity="0.85"/>
<rect x="70.23" y="338.20" width="1.5" height="1.5" fill="#7fbf8e" opacity="0.85"/>
<rect x="69.81" y="333.27" width="1.5" height="1.5" fill="#7fbf8e" opacity="0.85"/>
<rect x="70.13" y="351.05" width="1.5" height="1.5" fill="#7fbf8e" opacity="0.85"/>
<rect x="69.85" y="335.15" width="1.5" height="1.5" fill="#7fbf8e" opacity="0.85"/>
<rect x="70.24" y="331.13" width="1.5" height="1.5" fill="#7fbf8e" opacity="0.85"/>
<rect x="70.19" y="324.64" width="1.5" height="1.5" fill="#7fbf8e" opacity="0.85"/>
<rect x="69.57" y="344.86" width="1.5" height="1.5" fill="#7fbf8e" opacity="0.85"/>
<rect x="69.60" y="339.21" width="1.5" height="1.5" fill="#7fbf8e" opacity="0.85"/>
<rect x="69.66" y="359.66" width="1.5" height="1.5" fill="#7fbf8e" opacity="0.85"/>
<rect x="85.66" y="313.67" width="1.5" height="1.5" fill="#7fbf8e" opacity="0.85"/>
<rect x="85.85" y="329.83" width="1.5" height="1.5" fill="#7fbf8e" opacity="0.85"/>
<rect x="85.80" y="334.41" width="1.5" height="1.5" fill="#7fbf8e" opacity="0.85"/>
<rect x="85.90" y="334.56" width="1.5" height="1.5" fill="#7fbf8e" opacity="0.85"/>
<rect x="85.65" y="339.40" width="1.5" height="1.5" fill="#7fbf8e" opacity="0.85"/>
<rect x="85.24" y="327.48" width="1.5" height="1.5" fill="#7fbf8e" opacity="0.85"/>
<rect x="85.80" y="336.86" width="1.5" height="1.5" fill="#7fbf8e" opacity="0.85"/>
<rect x="85.88" y="313.38" width="1.5" height="1.5" fill="#7fbf8e" opacity="0.85"/>
<rect x="85.83" y="350.58" width="1.5" height="1.5" fill="#7fbf8e" opacity="0.85"/>
<rect x="85.57" y="340.76" width="1.5" height="1.5" fill="#7fbf8e" opacity="0.85"/>
<rect x="101.06" y="328.87" width="1.5" height="1.5" fill="#7fbf8e" opacity="0.85"/>
<rect x="100.85" y="335.40" width="1.5" height="1.5" fill="#7fbf8e" opacity="0.85"/>
<rect x="100.97" y="318.80" width="1.5" height="1.5" fill="#7fbf8e" opacity="0.85"/>
<rect x="101.35" y="341.31" width="1.5" height="1.5" fill="#7fbf8e" opacity="0.85"/>
<rect x="101.43" y="327.91" width="1.5" height="1.5" fill="#7fbf8e" opacity="0.85"/>
<rect x="100.77" y="322.44" width="1.5" height="1.5" fill="#7fbf8e" opacity="0.85"/>
<rect x="101.22" y="303.61" width="1.5" height="1.5" fill="#7fbf8e" opacity="0.85"/>
<rect x="100.77" y="357.36" width="1.5" height="1.5" fill="#7fbf8e" opacity="0.85"/>
<rect x="101.30" y="307.60" width="1.5" height="1.5" fill="#7fbf8e" opacity="0.85"/>
<rect x="100.99" y="314.91" width="1.5" height="1.5" fill="#7fbf8e" opacity="0.85"/>
<rect x="116.84" y="292.98" width="1.5" height="1.5" fill="#7fbf8e" opacity="0.85"/>
<rect x="116.47" y="343.24" width="1.5" height="1.5" fill="#7fbf8e" opacity="0.85"/>
<rect x="116.38" y="364.69" width="1.5" height="1.5" fill="#7fbf8e" opacity="0.85"/>
<rect x="117.04" y="320.60" width="1.5" height="1.5" fill="#7fbf8e" opacity="0.85"/>
<rect x="116.60" y="320.90" width="1.5" height="1.5" fill="#7fbf8e" opacity="0.85"/>
<rect x="117.12" y="314.33" width="1.5" height="1.5" fill="#7fbf8e" opacity="0.85"/>
<rect x="117.07" y="321.63" width="1.5" height="1.5" fill="#7fbf8e" opacity="0.85"/>
<rect x="116.65" y="320.92" width="1.5" height="1.5" fill="#7fbf8e" opacity="0.85"/>
<rect x="116.72" y="314.83" width="1.5" height="1.5" fill="#7fbf8e" opacity="0.85"/>
<rect x="116.77" y="306.78" width="1.5" height="1.5" fill="#7fbf8e" opacity="0.85"/>
<rect x="132.75" y="325.96" width="1.5" height="1.5" fill="#7fbf8e" opacity="0.85"/>
<rect x="132.39" y="328.81" width="1.5" height="1.5" fill="#7fbf8e" opacity="0.85"/>
<rect x="132.41" y="331.83" width="1.5" height="1.5" fill="#7fbf8e" opacity="0.85"/>
<rect x="131.98" y="321.83" width="1.5" height="1.5" fill="#7fbf8e" opacity="0.85"/>
<rect x="132.30" y="301.40" width="1.5" height="1.5" fill="#7fbf8e" opacity="0.85"/>
<rect x="132.43" y="320.91" width="1.5" height="1.5" fill="#7fbf8e" opacity="0.85"/>
<rect x="131.99" y="333.77" width="1.5" height="1.5" fill="#7fbf8e" opacity="0.85"/>
<rect x="132.46" y="306.96" width="1.5" height="1.5" fill="#7fbf8e" opacity="0.85"/>
<rect x="132.48" y="314.59" width="1.5" height="1.5" fill="#7fbf8e" opacity="0.85"/>
<rect x="132.02" y="304.74" width="1.5" height="1.5" fill="#7fbf8e" opacity="0.85"/>
<rect x="147.79" y="326.84" width="1.5" height="1.5" fill="#7fbf8e" opacity="0.85"/>
<rect x="147.96" y="327.14" width="1.5" height="1.5" fill="#7fbf8e" opacity="0.85"/>
<rect x="148.06" y="322.04" width="1.5" height="1.5" fill="#7fbf8e" opacity="0.85"/>
<rect x="147.85" y="327.62" width="1.5" height="1.5" fill="#7fbf8e" opacity="0.85"/>
<rect x="147.88" y="322.50" width="1.5" height="1.5" fill="#7fbf8e" opacity="0.85"/>
<rect x="147.84" y="336.93" width="1.5" height="1.5" fill="#7fbf8e" opacity="0.85"/>
<rect x="147.89" y="312.53" width="1.5" height="1.5" fill="#7fbf8e" opacity="0.85"/>
<rect x="148.07" y="316.34" width="1.5" height="1.5" fill="#7fbf8e" opacity="0.85"/>
<rect x="147.83" y="331.55" width="1.5" height="1.5" fill="#7fbf8e" opacity="0.85"/>
<rect x="147.89" y="346.06" width="1.5" height="1.5" fill="#7fbf8e" opacity="0.85"/>
<rect x="163.77" y="319.80" width="1.5" height="1.5" fill="#7fbf8e" opacity="0.85"/>
<rect x="163.29" y="323.15" width="1.5" height="1.5" fill="#7fbf8e" opacity="0.85"/>
<rect x="163.47" y="338.93" width="1.5" height="1.5" fill="#7fbf8e" opacity="0.85"/>
<rect x="163.48" y="328.92" width="1.5" height="1.5" fill="#7fbf8e" opacity="0.85"/>
<rect x="163.88" y="323.53" width="1.5" height="1.5" fill="#7fbf8e" opacity="0.85"/>
<rect x="163.56" y="311.87" width="1.5" height="1.5" fill="#7fbf8e" opacity="0.85"/>
<rect x="163.89" y="317.12" width="1.5" height="1.5" fill="#7fbf8e" opacity="0.85"/>
<rect x="163.35" y="329.04" width="1.5" height="1.5" fill="#7fbf8e" opacity="0.85"/>
<rect x="163.48" y="315.03" width="1.5" height="1.5" fill="#7fbf8e" opacity="0.85"/>
<rect x="163.73" y="307.72" width="1.5" height="1.5" fill="#7fbf8e" opacity="0.85"/>
<rect x="179.48" y="301.50" width="1.5" height="1.5" fill="#7fbf8e" opacity="0.85"/>
<rect x="179.34" y="321.07" width="1.5" height="1.5" fill="#7fbf8e" opacity="0.85"/>
<rect x="179.48" y="310.89" width="1.5" height="1.5" fill="#7fbf8e" opacity="0.85"/>
<rect x="179.11" y="305.55" width="1.5" height="1.5" fill="#7fbf8e" opacity="0.85"/>
<rect x="178.93" y="319.99" width="1.5" height="1.5" fill="#7fbf8e" opacity="0.85"/>
<rect x="179.06" y="313.42" width="1.5" height="1.5" fill="#7fbf8e" opacity="0.85"/>
<rect x="179.47" y="303.46" width="1.5" height="1.5" fill="#7fbf8e" opacity="0.85"/>
<rect x="179.05" y="334.55" width="1.5" height="1.5" fill="#7fbf8e" opacity="0.85"/>
<rect x="179.11" y="307.75" width="1.5" height="1.5" fill="#7fbf8e" opacity="0.85"/>
<rect x="179.16" y="302.54" width="1.5" height="1.5" fill="#7fbf8e" opacity="0.85"/>
<rect x="195.19" y="323.28" width="1.5" height="1.5" fill="#7fbf8e" opacity="0.85"/>
<rect x="194.63" y="305.62" width="1.5" height="1.5" fill="#7fbf8e" opacity="0.85"/>
<rect x="195.05" y="305.42" width="1.5" height="1.5" fill="#7fbf8e" opacity="0.85"/>
<rect x="195.12" y="315.43" width="1.5" height="1.5" fill="#7fbf8e" opacity="0.85"/>
<rect x="194.98" y="281.58" width="1.5" height="1.5" fill="#7fbf8e" opacity="0.85"/>
<rect x="194.87" y="311.01" width="1.5" height="1.5" fill="#7fbf8e" opacity="0.85"/>
<rect x="194.68" y="284.72" width="1.5" height="1.5" fill="#7fbf8e" opacity="0.85"/>
<rect x="194.72" y="337.42" width="1.5" height="1.5" fill="#7fbf8e" opacity="0.85"/>
<rect x="194.63" y="340.30" width="1.5" height="1.5" fill="#7fbf8e" opacity="0.85"/>
<rect x="194.50" y="299.47" width="1.5" height="1.5" fill="#7fbf8e" opacity="0.85"/>
<rect x="210.08" y="318.57" width="1.5" height="1.5" fill="#7fbf8e" opacity="0.85"/>
<rect x="210.67" y="315.23" width="1.5" height="1.5" fill="#7fbf8e" opacity="0.85"/>
<rect x="210.21" y="308.31" width="1.5" height="1.5" fill="#7fbf8e" opacity="0.85"/>
<rect x="210.31" y="313.30" width="1.5" height="1.5" fill="#7fbf8e" opacity="0.85"/>
<rect x="210.60" y="293.72" width="1.5" height="1.5" fill="#7fbf8e" opacity="0.85"/>
<rect x="210.49" y="320.81" width="1.5" height="1.5" fill="#7fbf8e" opacity="0.85"/>
<rect x="210.40" y="285.79" width="1.5" height="1.5" fill="#7fbf8e" opacity="0.85"/>
<rect x="210.82" y="322.14" width="1.5" height="1.5" fill="#7fbf8e" opacity="0.85"/>
<rect x="210.56" y="296.31" width="1.5" height="1.5" fill="#7fbf8e" opacity="0.85"/>
<rect x="210.34" y="319.52" width="1.5" height="1.5" fill="#7fbf8e" opacity="0.85"/>
<rect x="226.43" y="310.12" width="1.5" height="1.5" fill="#7fbf8e" opacity="0.85"/>
<rect x="226.33" y="284.55" width="1.5" height="1.5" fill="#7fbf8e" opacity="0.85"/>
<rect x="226.35" y="331.61" width="1.5" height="1.5" fill="#7fbf8e" opacity="0.85"/>
<rect x="225.70" y="306.57" width="1.5" height="1.5" fill="#7fbf8e" opacity="0.85"/>
<rect x="226.19" y="314.74" width="1.5" height="1.5" fill="#7fbf8e" opacity="0.85"/>
<rect x="226.38" y="302.99" width="1.5" height="1.5" fill="#7fbf8e" opacity="0.85"/>
<rect x="225.73" y="332.50" width="1.5" height="1.5" fill="#7fbf8e" opacity="0.85"/>
<rect x="225.91" y="314.76" width="1.5" height="1.5" fill="#7fbf8e" opacity="0.85"/>
<rect x="225.90" y="299.09" width="1.5" height="1.5" fill="#7fbf8e" opacity="0.85"/>
<rect x="226.11" y="289.99" width="1.5" height="1.5" fill="#7fbf8e" opacity="0.85"/>
<rect x="38.32" y="279.62" width="1.5" height="1.5" fill="#f3987a" opacity="0.85"/>
<rect x="38.65" y="273.82" width="1.5" height="1.5" fill="#f3987a" opacity="0.85"/>
<rect x="38.50" y="275.78" width="1.5" height="1.5" fill="#f3987a" opacity="0.85"/>
<rect x="38.50" y="276.04" width="1.5" height="1.5" fill="#f3987a" opacity="0.85"/>
<rect x="38.53" y="273.96" width="1.5" height="1.5" fill="#f3987a" opacity="0.85"/>
<rect x="38.77" y="275.15" width="1.5" height="1.5" fill="#f3987a" opacity="0.85"/>
<rect x="38.72" y="274.80" width="1.5" height="1.5" fill="#f3987a" opacity="0.85"/>
<rect x="38.54" y="274.81" width="1.5" height="1.5" fill="#f3987a" opacity="0.85"/>
<rect x="38.40" y="268.45" width="1.5" height="1.5" fill="#f3987a" opacity="0.85"/>
<rect x="38.51" y="277.00" width="1.5" height="1.5" fill="#f3987a" opacity="0.85"/>
<rect x="70.13" y="325.82" width="1.5" height="1.5" fill="#f3987a" opacity="0.85"/>
<rect x="69.99" y="326.00" width="1.5" height="1.5" fill="#f3987a" opacity="0.85"/>
<rect x="69.84" y="339.93" width="1.5" height="1.5" fill="#f3987a" opacity="0.85"/>
<rect x="69.79" y="349.41" width="1.5" height="1.5" fill="#f3987a" opacity="0.85"/>
<rect x="69.89" y="330.35" width="1.5" height="1.5" fill="#f3987a" opacity="0.85"/>
<rect x="70.05" y="333.49" width="1.5" height="1.5" fill="#f3987a" opacity="0.85"/>
<rect x="69.83" y="349.37" width="1.5" height="1.5" fill="#f3987a" opacity="0.85"/>
<rect x="70.05" y="324.99" width="1.5" height="1.5" fill="#f3987a" opacity="0.85"/>
<rect x="69.86" y="334.79" width="1.5" height="1.5" fill="#f3987a" opacity="0.85"/>
<rect x="69.69" y="349.43" width="1.5" height="1.5" fill="#f3987a" opacity="0.85"/>
<rect x="85.32" y="343.67" width="1.5" height="1.5" fill="#f3987a" opacity="0.85"/>
<rect x="85.48" y="329.01" width="1.5" height="1.5" fill="#f3987a" opacity="0.85"/>
<rect x="85.21" y="312.66" width="1.5" height="1.5" fill="#f3987a" opacity="0.85"/>
<rect x="85.76" y="318.86" width="1.5" height="1.5" fill="#f3987a" opacity="0.85"/>
<rect x="85.64" y="347.93" width="1.5" height="1.5" fill="#f3987a" opacity="0.85"/>
<rect x="85.82" y="312.95" width="1.5" height="1.5" fill="#f3987a" opacity="0.85"/>
<rect x="85.74" y="313.35" width="1.5" height="1.5" fill="#f3987a" opacity="0.85"/>
<rect x="85.64" y="329.41" width="1.5" height="1.5" fill="#f3987a" opacity="0.85"/>
<rect x="85.70" y="306.71" width="1.5" height="1.5" fill="#f3987a" opacity="0.85"/>
<rect x="85.56" y="338.06" width="1.5" height="1.5" fill="#f3987a" opacity="0.85"/>
<rect x="100.75" y="310.31" width="1.5" height="1.5" fill="#f3987a" opacity="0.85"/>
<rect x="101.40" y="313.57" width="1.5" height="1.5" fill="#f3987a" opacity="0.85"/>
<rect x="100.83" y="316.70" width="1.5" height="1.5" fill="#f3987a" opacity="0.85"/>
<rect x="101.41" y="323.53" width="1.5" height="1.5" fill="#f3987a" opacity="0.85"/>
<rect x="101.27" y="323.16" width="1.5" height="1.5" fill="#f3987a" opacity="0.85"/>
<rect x="101.40" y="327.51" width="1.5" height="1.5" fill="#f3987a" opacity="0.85"/>
<rect x="101.49" y="318.89" width="1.5" height="1.5" fill="#f3987a" opacity="0.85"/>
<rect x="101.19" y="320.59" width="1.5" height="1.5" fill="#f3987a" opacity="0.85"/>
<rect x="101.37" y="317.93" width="1.5" height="1.5" fill="#f3987a" opacity="0.85"/>
<rect x="100.76" y="329.17" width="1.5" height="1.5" fill="#f3987a" opacity="0.85"/>
<rect x="116.54" y="316.21" width="1.5" height="1.5" fill="#f3987a" opacity="0.85"/>
<rect x="116.49" y="332.93" width="1.5" height="1.5" fill="#f3987a" opacity="0.85"/>
<rect x="116.55" y="319.17" width="1.5" height="1.5" fill="#f3987a" opacity="0.85"/>
<rect x="116.84" y="323.74" width="1.5" height="1.5" fill="#f3987a" opacity="0.85"/>
<rect x="116.95" y="318.06" width="1.5" height="1.5" fill="#f3987a" opacity="0.85"/>
<rect x="116.66" y="347.43" width="1.5" height="1.5" fill="#f3987a" opacity="0.85"/>
<rect x="116.64" y="307.47" width="1.5" height="1.5" fill="#f3987a" opacity="0.85"/>
<rect x="116.67" y="313.67" width="1.5" height="1.5" fill="#f3987a" opacity="0.85"/>
<rect x="116.63" y="339.73" width="1.5" height="1.5" fill="#f3987a" opacity="0.85"/>
<rect x="116.68" y="327.16" width="1.5" height="1.5" fill="#f3987a" opacity="0.85"/>
<rect x="132.36" y="298.35" width="1.5" height="1.5" fill="#f3987a" opacity="0.85"/>
<rect x="132.48" y="303.81" width="1.5" height="1.5" fill="#f3987a" opacity="0.85"/>
<rect x="132.69" y="298.39" width="1.5" height="1.5" fill="#f3987a" opacity="0.85"/>
<rect x="132.09" y="313.47" width="1.5" height="1.5" fill="#f3987a" opacity="0.85"/>
<rect x="132.05" y="311.39" width="1.5" height="1.5" fill="#f3987a" opacity="0.85"/>
<rect x="132.57" y="318.76" width="1.5" height="1.5" fill="#f3987a" opacity="0.85"/>
<rect x="132.70" y="318.99" width="1.5" height="1.5" fill="#f3987a" opacity="0.85"/>
<rect x="132.38" y="331.08" width="1.5" height="1.5" fill="#f3987a" opacity="0.85"/>
<rect x="132.32" y="318.30" width="1.5" height="1.5" fill="#f3987a" opacity="0.85"/>
<rect x="132.55" y="324.83" width="1.5" height="1.5" fill="#f3987a" opacity="0.85"/>
<rect x="147.92" y="305.83" width="1.5" height="1.5" fill="#f3987a" opacity="0.85"/>
<rect x="148.27" y="300.54" width="1.5" height="1.5" fill="#f3987a" opacity="0.85"/>
<rect x="148.06" y="304.45" width="1.5" height="1.5" fill="#f3987a" opacity="0.85"/>
<rect x="147.80" y="293.77" width="1.5" height="1.5" fill="#f3987a" opacity="0.85"/>
<rect x="147.76" y="313.38" width="1.5" height="1.5" fill="#f3987a" opacity="0.85"/>
<rect x="147.61" y="301.28" width="1.5" height="1.5" fill="#f3987a" opacity="0.85"/>
<rect x="147.97" y="321.06" width="1.5" height="1.5" fill="#f3987a" opacity="0.85"/>
<rect x="147.90" y="338.96" width="1.5" height="1.5" fill="#f3987a" opacity="0.85"/>
<rect x="147.73" y="315.35" width="1.5" height="1.5" fill="#f3987a" opacity="0.85"/>
<rect x="147.88" y="290.75" width="1.5" height="1.5" fill="#f3987a" opacity="0.85"/>
<rect x="163.60" y="322.54" width="1.5" height="1.5" fill="#f3987a" opacity="0.85"/>
<rect x="163.79" y="293.34" width="1.5" height="1.5" fill="#f3987a" opacity="0.85"/>
<rect x="163.90" y="288.84" width="1.5" height="1.5" fill="#f3987a" opacity="0.85"/>
<rect x="163.53" y="282.41" width="1.5" height="1.5" fill="#f3987a" opacity="0.85"/>
<rect x="163.80" y="329.96" width="1.5" height="1.5" fill="#f3987a" opacity="0.85"/>
<rect x="163.98" y="310.79" width="1.5" height="1.5" fill="#f3987a" opacity="0.85"/>
<rect x="163.58" y="336.52" width="1.5" height="1.5" fill="#f3987a" opacity="0.85"/>
<rect x="163.39" y="308.19" width="1.5" height="1.5" fill="#f3987a" opacity="0.85"/>
<rect x="163.40" y="305.96" width="1.5" height="1.5" fill="#f3987a" opacity="0.85"/>
<rect x="163.78" y="327.53" width="1.5" height="1.5" fill="#f3987a" opacity="0.85"/>
<rect x="179.03" y="316.76" width="1.5" height="1.5" fill="#f3987a" opacity="0.85"/>
<rect x="179.52" y="330.82" width="1.5" height="1.5" fill="#f3987a" opacity="0.85"/>
<rect x="179.08" y="296.59" width="1.5" height="1.5" fill="#f3987a" opacity="0.85"/>
<rect x="179.17" y="309.80" width="1.5" height="1.5" fill="#f3987a" opacity="0.85"/>
<rect x="179.41" y="298.69" width="1.5" height="1.5" fill="#f3987a" opacity="0.85"/>
<rect x="178.90" y="293.21" width="1.5" height="1.5" fill="#f3987a" opacity="0.85"/>
<rect x="178.90" y="294.71" width="1.5" height="1.5" fill="#f3987a" opacity="0.85"/>
<rect x="179.50" y="284.06" width="1.5" height="1.5" fill="#f3987a" opacity="0.85"/>
<rect x="179.06" y="285.19" width="1.5" height="1.5" fill="#f3987a" opacity="0.85"/>
<rect x="179.12" y="323.39" width="1.5" height="1.5" fill="#f3987a" opacity="0.85"/>
<rect x="194.89" y="317.22" width="1.5" height="1.5" fill="#f3987a" opacity="0.85"/>
<rect x="194.55" y="309.78" width="1.5" height="1.5" fill="#f3987a" opacity="0.85"/>
<rect x="194.67" y="289.17" width="1.5" height="1.5" fill="#f3987a" opacity="0.85"/>
<rect x="194.98" y="300.10" width="1.5" height="1.5" fill="#f3987a" opacity="0.85"/>
<rect x="194.54" y="314.04" width="1.5" height="1.5" fill="#f3987a" opacity="0.85"/>
<rect x="195.16" y="294.90" width="1.5" height="1.5" fill="#f3987a" opacity="0.85"/>
<rect x="195.18" y="296.43" width="1.5" height="1.5" fill="#f3987a" opacity="0.85"/>
<rect x="194.53" y="284.33" width="1.5" height="1.5" fill="#f3987a" opacity="0.85"/>
<rect x="195.20" y="288.48" width="1.5" height="1.5" fill="#f3987a" opacity="0.85"/>
<rect x="194.75" y="304.09" width="1.5" height="1.5" fill="#f3987a" opacity="0.85"/>
<rect x="210.50" y="294.98" width="1.5" height="1.5" fill="#f3987a" opacity="0.85"/>
<rect x="210.16" y="319.07" width="1.5" height="1.5" fill="#f3987a" opacity="0.85"/>
<rect x="210.47" y="303.34" width="1.5" height="1.5" fill="#f3987a" opacity="0.85"/>
<rect x="210.35" y="279.74" width="1.5" height="1.5" fill="#f3987a" opacity="0.85"/>
<rect x="210.64" y="310.97" width="1.5" height="1.5" fill="#f3987a" opacity="0.85"/>
<rect x="210.61" y="316.86" width="1.5" height="1.5" fill="#f3987a" opacity="0.85"/>
<rect x="210.52" y="300.05" width="1.5" height="1.5" fill="#f3987a" opacity="0.85"/>
<rect x="210.22" y="276.87" width="1.5" height="1.5" fill="#f3987a" opacity="0.85"/>
<rect x="210.59" y="279.60" width="1.5" height="1.5" fill="#f3987a" opacity="0.85"/>
<rect x="210.57" y="302.53" width="1.5" height="1.5" fill="#f3987a" opacity="0.85"/>
<rect x="226.21" y="286.51" width="1.5" height="1.5" fill="#f3987a" opacity="0.85"/>
<rect x="226.06" y="273.97" width="1.5" height="1.5" fill="#f3987a" opacity="0.85"/>
<rect x="225.94" y="301.61" width="1.5" height="1.5" fill="#f3987a" opacity="0.85"/>
<rect x="225.83" y="303.35" width="1.5" height="1.5" fill="#f3987a" opacity="0.85"/>
<rect x="225.74" y="291.61" width="1.5" height="1.5" fill="#f3987a" opacity="0.85"/>
<rect x="226.26" y="300.87" width="1.5" height="1.5" fill="#f3987a" opacity="0.85"/>
<rect x="226.29" y="307.88" width="1.5" height="1.5" fill="#f3987a" opacity="0.85"/>
<rect x="226.12" y="280.35" width="1.5" height="1.5" fill="#f3987a" opacity="0.85"/>
<rect x="226.28" y="311.16" width="1.5" height="1.5" fill="#f3987a" opacity="0.85"/>
<rect x="225.98" y="307.23" width="1.5" height="1.5" fill="#f3987a" opacity="0.85"/>
<line x1="39.60" y1="240.80" x2="39.60" y2="368.50" stroke="#111" stroke-width="1.3" />
<line x1="39.00" y1="367.90" x2="227.60" y2="367.90" stroke="#111" stroke-width="1.3" />
<line x1="37.10" y1="367.90" x2="39.60" y2="367.90" stroke="#111" stroke-width="1" />
<text x="36.00" y="370.40" font-size="6.9" text-anchor="end" fill="#000" >0</text>
<line x1="37.10" y1="349.81" x2="39.60" y2="349.81" stroke="#111" stroke-width="1" />
<text x="36.00" y="352.31" font-size="6.9" text-anchor="end" fill="#000" >200</text>
<line x1="37.10" y1="331.73" x2="39.60" y2="331.73" stroke="#111" stroke-width="1" />
<text x="36.00" y="334.23" font-size="6.9" text-anchor="end" fill="#000" >400</text>
<line x1="37.10" y1="313.64" x2="39.60" y2="313.64" stroke="#111" stroke-width="1" />
<text x="36.00" y="316.14" font-size="6.9" text-anchor="end" fill="#000" >600</text>
<line x1="37.10" y1="295.56" x2="39.60" y2="295.56" stroke="#111" stroke-width="1" />
<text x="36.00" y="298.06" font-size="6.9" text-anchor="end" fill="#000" >800</text>
<line x1="37.10" y1="277.47" x2="39.60" y2="277.47" stroke="#111" stroke-width="1" />
<text x="36.00" y="279.97" font-size="6.9" text-anchor="end" fill="#000" >1000</text>
<line x1="37.10" y1="259.39" x2="39.60" y2="259.39" stroke="#111" stroke-width="1" />
<text x="36.00" y="261.89" font-size="6.9" text-anchor="end" fill="#000" >1200</text>
<line x1="37.10" y1="241.30" x2="39.60" y2="241.30" stroke="#111" stroke-width="1" />
<text x="36.00" y="243.80" font-size="6.9" text-anchor="end" fill="#000" >1400</text>
<line x1="39.40" y1="367.90" x2="39.40" y2="370.40" stroke="#111" stroke-width="1" />
<text x="39.40" y="378.50" font-size="6.9" text-anchor="middle" fill="#000" >0</text>
<line x1="55.02" y1="367.90" x2="55.02" y2="370.40" stroke="#111" stroke-width="1" />
<text x="55.02" y="378.50" font-size="6.9" text-anchor="middle" fill="#000" >1</text>
<line x1="70.64" y1="367.90" x2="70.64" y2="370.40" stroke="#111" stroke-width="1" />
<text x="70.64" y="378.50" font-size="6.9" text-anchor="middle" fill="#000" >2</text>
<line x1="86.26" y1="367.90" x2="86.26" y2="370.40" stroke="#111" stroke-width="1" />
<text x="86.26" y="378.50" font-size="6.9" text-anchor="middle" fill="#000" >3</text>
<line x1="101.88" y1="367.90" x2="101.88" y2="370.40" stroke="#111" stroke-width="1" />
<text x="101.88" y="378.50" font-size="6.9" text-anchor="middle" fill="#000" >4</text>
<line x1="117.50" y1="367.90" x2="117.50" y2="370.40" stroke="#111" stroke-width="1" />
<text x="117.50" y="378.50" font-size="6.9" text-anchor="middle" fill="#000" >5</text>
<line x1="133.12" y1="367.90" x2="133.12" y2="370.40" stroke="#111" stroke-width="1" />
<text x="133.12" y="378.50" font-size="6.9" text-anchor="middle" fill="#000" >6</text>
<line x1="148.74" y1="367.90" x2="148.74" y2="370.40" stroke="#111" stroke-width="1" />
<text x="148.74" y="378.50" font-size="6.9" text-anchor="middle" fill="#000" >7</text>
<line x1="164.36" y1="367.90" x2="164.36" y2="370.40" stroke="#111" stroke-width="1" />
<text x="164.36" y="378.50" font-size="6.9" text-anchor="middle" fill="#000" >8</text>
<line x1="179.98" y1="367.90" x2="179.98" y2="370.40" stroke="#111" stroke-width="1" />
<text x="179.98" y="378.50" font-size="6.9" text-anchor="middle" fill="#000" >9</text>
<line x1="195.60" y1="367.90" x2="195.60" y2="370.40" stroke="#111" stroke-width="1" />
<text x="195.60" y="378.50" font-size="6.9" text-anchor="middle" fill="#000" >10</text>
<line x1="211.22" y1="367.90" x2="211.22" y2="370.40" stroke="#111" stroke-width="1" />
<text x="211.22" y="378.50" font-size="6.9" text-anchor="middle" fill="#000" >11</text>
<line x1="226.84" y1="367.90" x2="226.84" y2="370.40" stroke="#111" stroke-width="1" />
<text x="226.84" y="378.50" font-size="6.9" text-anchor="middle" fill="#000" >12</text>
<text transform="translate(13.60,342.78) rotate(-90)" font-size="9.69" fill="#000">Grip Strength (gF)</text>
<text x="102.15" y="395.00" font-size="9.11" fill="#000" >Weeks Post-Injury</text>
<polyline points="39.40,276.57 70.64,338.06 86.26,325.40 101.88,324.49 117.50,318.62 133.12,312.02 148.74,310.48 164.36,313.73 179.98,303.06 195.60,301.34 211.22,298.72 226.84,298.72" fill="none" stroke="#ec4232" stroke-width="0.95"/>
<line x1="39.40" y1="273.85" x2="39.40" y2="279.28" stroke="#ec4232" stroke-width="1" />
<line x1="37.40" y1="273.85" x2="41.40" y2="273.85" stroke="#ec4232" stroke-width="1.1" />
<line x1="37.40" y1="279.28" x2="41.40" y2="279.28" stroke="#ec4232" stroke-width="1.1" />
<circle cx="39.40" cy="276.57" r="1.9" fill="#ec4232"/>
<line x1="70.64" y1="334.44" x2="70.64" y2="341.68" stroke="#ec4232" stroke-width="1" />
<line x1="68.64" y1="334.44" x2="72.64" y2="334.44" stroke="#ec4232" stroke-width="1.1" />
<line x1="68.64" y1="341.68" x2="72.64" y2="341.68" stroke="#ec4232" stroke-width="1.1" />
<circle cx="70.64" cy="338.06" r="1.9" fill="#ec4232"/>
<line x1="86.26" y1="321.33" x2="86.26" y2="329.47" stroke="#ec4232" stroke-width="1" />
<line x1="84.26" y1="321.33" x2="88.26" y2="321.33" stroke="#ec4232" stroke-width="1.1" />
<line x1="84.26" y1="329.47" x2="88.26" y2="329.47" stroke="#ec4232" stroke-width="1.1" />
<circle cx="86.26" cy="325.40" r="1.9" fill="#ec4232"/>
<line x1="101.88" y1="319.97" x2="101.88" y2="329.02" stroke="#ec4232" stroke-width="1" />
<line x1="99.88" y1="319.97" x2="103.88" y2="319.97" stroke="#ec4232" stroke-width="1.1" />
<line x1="99.88" y1="329.02" x2="103.88" y2="329.02" stroke="#ec4232" stroke-width="1.1" />
<circle cx="101.88" cy="324.49" r="1.9" fill="#ec4232"/>
<line x1="117.50" y1="314.09" x2="117.50" y2="323.14" stroke="#ec4232" stroke-width="1" />
<line x1="115.50" y1="314.09" x2="119.50" y2="314.09" stroke="#ec4232" stroke-width="1.1" />
<line x1="115.50" y1="323.14" x2="119.50" y2="323.14" stroke="#ec4232" stroke-width="1.1" />
<circle cx="117.50" cy="318.62" r="1.9" fill="#ec4232"/>
<line x1="133.12" y1="307.95" x2="133.12" y2="316.08" stroke="#ec4232" stroke-width="1" />
<line x1="131.12" y1="307.95" x2="135.12" y2="307.95" stroke="#ec4232" stroke-width="1.1" />
<line x1="131.12" y1="316.08" x2="135.12" y2="316.08" stroke="#ec4232" stroke-width="1.1" />
<circle cx="133.12" cy="312.02" r="1.9" fill="#ec4232"/>
<line x1="148.74" y1="306.86" x2="148.74" y2="314.09" stroke="#ec4232" stroke-width="1" />
<line x1="146.74" y1="306.86" x2="150.74" y2="306.86" stroke="#ec4232" stroke-width="1.1" />
<line x1="146.74" y1="314.09" x2="150.74" y2="314.09" stroke="#ec4232" stroke-width="1.1" />
<circle cx="148.74" cy="310.48" r="1.9" fill="#ec4232"/>
<line x1="164.36" y1="310.57" x2="164.36" y2="316.90" stroke="#ec4232" stroke-width="1" />
<line x1="162.36" y1="310.57" x2="166.36" y2="310.57" stroke="#ec4232" stroke-width="1.1" />
<line x1="162.36" y1="316.90" x2="166.36" y2="316.90" stroke="#ec4232" stroke-width="1.1" />
<circle cx="164.36" cy="313.73" r="1.9" fill="#ec4232"/>
<line x1="179.98" y1="299.45" x2="179.98" y2="306.68" stroke="#ec4232" stroke-width="1" />
<line x1="177.98" y1="299.45" x2="181.98" y2="299.45" stroke="#ec4232" stroke-width="1.1" />
<line x1="177.98" y1="306.68" x2="181.98" y2="306.68" stroke="#ec4232" stroke-width="1.1" />
<circle cx="179.98" cy="303.06" r="1.9" fill="#ec4232"/>
<line x1="195.60" y1="297.28" x2="195.60" y2="305.41" stroke="#ec4232" stroke-width="1" />
<line x1="193.60" y1="297.28" x2="197.60" y2="297.28" stroke="#ec4232" stroke-width="1.1" />
<line x1="193.60" y1="305.41" x2="197.60" y2="305.41" stroke="#ec4232" stroke-width="1.1" />
<circle cx="195.60" cy="301.34" r="1.9" fill="#ec4232"/>
<line x1="211.22" y1="295.56" x2="211.22" y2="301.89" stroke="#ec4232" stroke-width="1" />
<line x1="209.22" y1="295.56" x2="213.22" y2="295.56" stroke="#ec4232" stroke-width="1.1" />
<line x1="209.22" y1="301.89" x2="213.22" y2="301.89" stroke="#ec4232" stroke-width="1.1" />
<circle cx="211.22" cy="298.72" r="1.9" fill="#ec4232"/>
<line x1="226.84" y1="295.56" x2="226.84" y2="301.89" stroke="#ec4232" stroke-width="1" />
<line x1="224.84" y1="295.56" x2="228.84" y2="295.56" stroke="#ec4232" stroke-width="1.1" />
<line x1="224.84" y1="301.89" x2="228.84" y2="301.89" stroke="#ec4232" stroke-width="1.1" />
<circle cx="226.84" cy="298.72" r="1.9" fill="#ec4232"/>
<polyline points="39.40,274.76 70.64,334.89 86.26,327.66 101.88,327.66 117.50,319.79 133.12,316.17 148.74,317.71 164.36,320.97 179.98,312.65 195.60,312.65 211.22,310.48 226.84,310.48" fill="none" stroke="#1c9a52" stroke-width="1.15"/>
<line x1="39.40" y1="272.05" x2="39.40" y2="277.47" stroke="#1c9a52" stroke-width="1" />
<line x1="37.40" y1="272.05" x2="41.40" y2="272.05" stroke="#1c9a52" stroke-width="1.1" />
<line x1="37.40" y1="277.47" x2="41.40" y2="277.47" stroke="#1c9a52" stroke-width="1.1" />
<circle cx="39.40" cy="274.76" r="1.9" fill="#1c9a52"/>
<line x1="70.64" y1="331.28" x2="70.64" y2="338.51" stroke="#1c9a52" stroke-width="1" />
<line x1="68.64" y1="331.28" x2="72.64" y2="331.28" stroke="#1c9a52" stroke-width="1.1" />
<line x1="68.64" y1="338.51" x2="72.64" y2="338.51" stroke="#1c9a52" stroke-width="1.1" />
<circle cx="70.64" cy="334.89" r="1.9" fill="#1c9a52"/>
<line x1="86.26" y1="323.14" x2="86.26" y2="332.18" stroke="#1c9a52" stroke-width="1" />
<line x1="84.26" y1="323.14" x2="88.26" y2="323.14" stroke="#1c9a52" stroke-width="1.1" />
<line x1="84.26" y1="332.18" x2="88.26" y2="332.18" stroke="#1c9a52" stroke-width="1.1" />
<circle cx="86.26" cy="327.66" r="1.9" fill="#1c9a52"/>
<line x1="101.88" y1="323.59" x2="101.88" y2="331.73" stroke="#1c9a52" stroke-width="1" />
<line x1="99.88" y1="323.59" x2="103.88" y2="323.59" stroke="#1c9a52" stroke-width="1.1" />
<line x1="99.88" y1="331.73" x2="103.88" y2="331.73" stroke="#1c9a52" stroke-width="1.1" />
<circle cx="101.88" cy="327.66" r="1.9" fill="#1c9a52"/>
<line x1="117.50" y1="315.72" x2="117.50" y2="323.86" stroke="#1c9a52" stroke-width="1" />
<line x1="115.50" y1="315.72" x2="119.50" y2="315.72" stroke="#1c9a52" stroke-width="1.1" />
<line x1="115.50" y1="323.86" x2="119.50" y2="323.86" stroke="#1c9a52" stroke-width="1.1" />
<circle cx="117.50" cy="319.79" r="1.9" fill="#1c9a52"/>
<line x1="133.12" y1="312.11" x2="133.12" y2="320.24" stroke="#1c9a52" stroke-width="1" />
<line x1="131.12" y1="312.11" x2="135.12" y2="312.11" stroke="#1c9a52" stroke-width="1.1" />
<line x1="131.12" y1="320.24" x2="135.12" y2="320.24" stroke="#1c9a52" stroke-width="1.1" />
<circle cx="133.12" cy="316.17" r="1.9" fill="#1c9a52"/>
<line x1="148.74" y1="313.19" x2="148.74" y2="322.23" stroke="#1c9a52" stroke-width="1" />
<line x1="146.74" y1="313.19" x2="150.74" y2="313.19" stroke="#1c9a52" stroke-width="1.1" />
<line x1="146.74" y1="322.23" x2="150.74" y2="322.23" stroke="#1c9a52" stroke-width="1.1" />
<circle cx="148.74" cy="317.71" r="1.9" fill="#1c9a52"/>
<line x1="164.36" y1="317.35" x2="164.36" y2="324.58" stroke="#1c9a52" stroke-width="1" />
<line x1="162.36" y1="317.35" x2="166.36" y2="317.35" stroke="#1c9a52" stroke-width="1.1" />
<line x1="162.36" y1="324.58" x2="166.36" y2="324.58" stroke="#1c9a52" stroke-width="1.1" />
<circle cx="164.36" cy="320.97" r="1.9" fill="#1c9a52"/>
<line x1="179.98" y1="308.13" x2="179.98" y2="317.17" stroke="#1c9a52" stroke-width="1" />
<line x1="177.98" y1="308.13" x2="181.98" y2="308.13" stroke="#1c9a52" stroke-width="1.1" />
<line x1="177.98" y1="317.17" x2="181.98" y2="317.17" stroke="#1c9a52" stroke-width="1.1" />
<circle cx="179.98" cy="312.65" r="1.9" fill="#1c9a52"/>
<line x1="195.60" y1="308.13" x2="195.60" y2="317.17" stroke="#1c9a52" stroke-width="1" />
<line x1="193.60" y1="308.13" x2="197.60" y2="308.13" stroke="#1c9a52" stroke-width="1.1" />
<line x1="193.60" y1="317.17" x2="197.60" y2="317.17" stroke="#1c9a52" stroke-width="1.1" />
<circle cx="195.60" cy="312.65" r="1.9" fill="#1c9a52"/>
<line x1="211.22" y1="306.41" x2="211.22" y2="314.55" stroke="#1c9a52" stroke-width="1" />
<line x1="209.22" y1="306.41" x2="213.22" y2="306.41" stroke="#1c9a52" stroke-width="1.1" />
<line x1="209.22" y1="314.55" x2="213.22" y2="314.55" stroke="#1c9a52" stroke-width="1.1" />
<circle cx="211.22" cy="310.48" r="1.9" fill="#1c9a52"/>
<line x1="226.84" y1="306.41" x2="226.84" y2="314.55" stroke="#1c9a52" stroke-width="1" />
<line x1="224.84" y1="306.41" x2="228.84" y2="306.41" stroke="#1c9a52" stroke-width="1.1" />
<line x1="224.84" y1="314.55" x2="228.84" y2="314.55" stroke="#1c9a52" stroke-width="1.1" />
<circle cx="226.84" cy="310.48" r="1.9" fill="#1c9a52"/>
<line x1="160.80" y1="352.80" x2="170.20" y2="352.80" stroke="#1c9a52" stroke-width="1" />
<circle cx="165.50" cy="352.80" r="1.9" fill="#1c9a52"/>
<text x="175.07" y="355.40" font-size="6.86" fill="#000" >AAV9-Syn-EGFP</text>
<line x1="160.80" y1="361.40" x2="170.20" y2="361.40" stroke="#ec4232" stroke-width="1" />
<circle cx="165.50" cy="361.40" r="1.9" fill="#ec4232"/>
<text x="175.07" y="363.90" font-size="6.91" fill="#000" >AAV9-Syn-KCC2</text>
<text x="236.65" y="205.90" font-size="14.00" font-weight="bold" fill="#000" >D)</text>
<text x="329.14" y="213.80" font-size="11.68" font-weight="bold" fill="#000" >Inclined Plane</text>
<text x="334.8" y="223.8" font-size="6.8" font-weight="bold">Interaction:</text><text x="377.3" y="223.8" font-size="7.2" font-style="italic">p</text><text x="382.0" y="223.8" font-size="6.9">=</text><text x="387.5" y="223.8" font-size="6.9">0.055</text>
<line x1="272.60" y1="252.43" x2="458.50" y2="252.43" stroke="#6a6a6a" stroke-width="1.15" stroke-dasharray="5.7,3.5" stroke-dashoffset="1.70"/>
<rect x="272.67" y="260.45" width="1.5" height="1.5" fill="#7fbf8e" opacity="0.85"/>
<rect x="272.04" y="260.31" width="1.5" height="1.5" fill="#7fbf8e" opacity="0.85"/>
<rect x="272.33" y="252.30" width="1.5" height="1.5" fill="#7fbf8e" opacity="0.85"/>
<rect x="272.15" y="265.37" width="1.5" height="1.5" fill="#7fbf8e" opacity="0.85"/>
<rect x="272.39" y="255.88" width="1.5" height="1.5" fill="#7fbf8e" opacity="0.85"/>
<rect x="272.41" y="265.20" width="1.5" height="1.5" fill="#7fbf8e" opacity="0.85"/>
<rect x="271.96" y="250.39" width="1.5" height="1.5" fill="#7fbf8e" opacity="0.85"/>
<rect x="272.12" y="254.36" width="1.5" height="1.5" fill="#7fbf8e" opacity="0.85"/>
<rect x="272.17" y="249.27" width="1.5" height="1.5" fill="#7fbf8e" opacity="0.85"/>
<rect x="272.68" y="257.47" width="1.5" height="1.5" fill="#7fbf8e" opacity="0.85"/>
<rect x="286.74" y="324.55" width="1.5" height="1.5" fill="#7fbf8e" opacity="0.85"/>
<rect x="284.84" y="329.80" width="1.5" height="1.5" fill="#7fbf8e" opacity="0.85"/>
<rect x="286.74" y="319.30" width="1.5" height="1.5" fill="#7fbf8e" opacity="0.85"/>
<rect x="286.74" y="329.80" width="1.5" height="1.5" fill="#7fbf8e" opacity="0.85"/>
<rect x="288.64" y="329.80" width="1.5" height="1.5" fill="#7fbf8e" opacity="0.85"/>
<rect x="290.54" y="329.80" width="1.5" height="1.5" fill="#7fbf8e" opacity="0.85"/>
<rect x="287.69" y="293.05" width="1.5" height="1.5" fill="#7fbf8e" opacity="0.85"/>
<rect x="288.64" y="324.55" width="1.5" height="1.5" fill="#7fbf8e" opacity="0.85"/>
<rect x="288.64" y="319.30" width="1.5" height="1.5" fill="#7fbf8e" opacity="0.85"/>
<rect x="287.69" y="314.05" width="1.5" height="1.5" fill="#7fbf8e" opacity="0.85"/>
<rect x="303.03" y="277.30" width="1.5" height="1.5" fill="#7fbf8e" opacity="0.85"/>
<rect x="303.03" y="308.80" width="1.5" height="1.5" fill="#7fbf8e" opacity="0.85"/>
<rect x="302.08" y="314.05" width="1.5" height="1.5" fill="#7fbf8e" opacity="0.85"/>
<rect x="302.08" y="272.05" width="1.5" height="1.5" fill="#7fbf8e" opacity="0.85"/>
<rect x="303.03" y="329.80" width="1.5" height="1.5" fill="#7fbf8e" opacity="0.85"/>
<rect x="303.98" y="314.05" width="1.5" height="1.5" fill="#7fbf8e" opacity="0.85"/>
<rect x="303.03" y="298.30" width="1.5" height="1.5" fill="#7fbf8e" opacity="0.85"/>
<rect x="303.98" y="272.05" width="1.5" height="1.5" fill="#7fbf8e" opacity="0.85"/>
<rect x="303.03" y="319.30" width="1.5" height="1.5" fill="#7fbf8e" opacity="0.85"/>
<rect x="303.03" y="340.30" width="1.5" height="1.5" fill="#7fbf8e" opacity="0.85"/>
<rect x="318.37" y="287.80" width="1.5" height="1.5" fill="#7fbf8e" opacity="0.85"/>
<rect x="318.37" y="308.80" width="1.5" height="1.5" fill="#7fbf8e" opacity="0.85"/>
<rect x="317.42" y="303.55" width="1.5" height="1.5" fill="#7fbf8e" opacity="0.85"/>
<rect x="317.42" y="293.05" width="1.5" height="1.5" fill="#7fbf8e" opacity="0.85"/>
<rect x="317.42" y="298.30" width="1.5" height="1.5" fill="#7fbf8e" opacity="0.85"/>
<rect x="319.32" y="293.05" width="1.5" height="1.5" fill="#7fbf8e" opacity="0.85"/>
<rect x="319.32" y="303.55" width="1.5" height="1.5" fill="#7fbf8e" opacity="0.85"/>
<rect x="318.37" y="282.55" width="1.5" height="1.5" fill="#7fbf8e" opacity="0.85"/>
<rect x="318.37" y="277.30" width="1.5" height="1.5" fill="#7fbf8e" opacity="0.85"/>
<rect x="319.32" y="298.30" width="1.5" height="1.5" fill="#7fbf8e" opacity="0.85"/>
<rect x="331.81" y="303.55" width="1.5" height="1.5" fill="#7fbf8e" opacity="0.85"/>
<rect x="332.76" y="287.80" width="1.5" height="1.5" fill="#7fbf8e" opacity="0.85"/>
<rect x="334.66" y="287.80" width="1.5" height="1.5" fill="#7fbf8e" opacity="0.85"/>
<rect x="333.71" y="314.05" width="1.5" height="1.5" fill="#7fbf8e" opacity="0.85"/>
<rect x="333.71" y="303.55" width="1.5" height="1.5" fill="#7fbf8e" opacity="0.85"/>
<rect x="333.71" y="282.55" width="1.5" height="1.5" fill="#7fbf8e" opacity="0.85"/>
<rect x="332.76" y="298.30" width="1.5" height="1.5" fill="#7fbf8e" opacity="0.85"/>
<rect x="335.61" y="303.55" width="1.5" height="1.5" fill="#7fbf8e" opacity="0.85"/>
<rect x="333.71" y="293.05" width="1.5" height="1.5" fill="#7fbf8e" opacity="0.85"/>
<rect x="334.66" y="298.30" width="1.5" height="1.5" fill="#7fbf8e" opacity="0.85"/>
<rect x="347.15" y="293.05" width="1.5" height="1.5" fill="#7fbf8e" opacity="0.85"/>
<rect x="349.05" y="324.55" width="1.5" height="1.5" fill="#7fbf8e" opacity="0.85"/>
<rect x="349.05" y="266.80" width="1.5" height="1.5" fill="#7fbf8e" opacity="0.85"/>
<rect x="349.05" y="293.05" width="1.5" height="1.5" fill="#7fbf8e" opacity="0.85"/>
<rect x="349.05" y="308.80" width="1.5" height="1.5" fill="#7fbf8e" opacity="0.85"/>
<rect x="349.05" y="282.55" width="1.5" height="1.5" fill="#7fbf8e" opacity="0.85"/>
<rect x="349.05" y="287.80" width="1.5" height="1.5" fill="#7fbf8e" opacity="0.85"/>
<rect x="350.95" y="293.05" width="1.5" height="1.5" fill="#7fbf8e" opacity="0.85"/>
<rect x="349.05" y="277.30" width="1.5" height="1.5" fill="#7fbf8e" opacity="0.85"/>
<rect x="349.05" y="261.55" width="1.5" height="1.5" fill="#7fbf8e" opacity="0.85"/>
<rect x="364.39" y="287.80" width="1.5" height="1.5" fill="#7fbf8e" opacity="0.85"/>
<rect x="364.39" y="272.05" width="1.5" height="1.5" fill="#7fbf8e" opacity="0.85"/>
<rect x="364.39" y="261.55" width="1.5" height="1.5" fill="#7fbf8e" opacity="0.85"/>
<rect x="364.39" y="308.80" width="1.5" height="1.5" fill="#7fbf8e" opacity="0.85"/>
<rect x="364.39" y="303.55" width="1.5" height="1.5" fill="#7fbf8e" opacity="0.85"/>
<rect x="363.44" y="282.55" width="1.5" height="1.5" fill="#7fbf8e" opacity="0.85"/>
<rect x="364.39" y="319.30" width="1.5" height="1.5" fill="#7fbf8e" opacity="0.85"/>
<rect x="364.39" y="298.30" width="1.5" height="1.5" fill="#7fbf8e" opacity="0.85"/>
<rect x="364.39" y="277.30" width="1.5" height="1.5" fill="#7fbf8e" opacity="0.85"/>
<rect x="365.34" y="282.55" width="1.5" height="1.5" fill="#7fbf8e" opacity="0.85"/>
<rect x="376.88" y="287.80" width="1.5" height="1.5" fill="#7fbf8e" opacity="0.85"/>
<rect x="378.78" y="324.55" width="1.5" height="1.5" fill="#7fbf8e" opacity="0.85"/>
<rect x="379.73" y="261.55" width="1.5" height="1.5" fill="#7fbf8e" opacity="0.85"/>
<rect x="378.78" y="287.80" width="1.5" height="1.5" fill="#7fbf8e" opacity="0.85"/>
<rect x="380.68" y="287.80" width="1.5" height="1.5" fill="#7fbf8e" opacity="0.85"/>
<rect x="382.58" y="287.80" width="1.5" height="1.5" fill="#7fbf8e" opacity="0.85"/>
<rect x="380.68" y="324.55" width="1.5" height="1.5" fill="#7fbf8e" opacity="0.85"/>
<rect x="379.73" y="319.30" width="1.5" height="1.5" fill="#7fbf8e" opacity="0.85"/>
<rect x="379.73" y="314.05" width="1.5" height="1.5" fill="#7fbf8e" opacity="0.85"/>
<rect x="379.73" y="266.80" width="1.5" height="1.5" fill="#7fbf8e" opacity="0.85"/>
<rect x="395.07" y="303.55" width="1.5" height="1.5" fill="#7fbf8e" opacity="0.85"/>
<rect x="394.12" y="293.05" width="1.5" height="1.5" fill="#7fbf8e" opacity="0.85"/>
<rect x="396.02" y="293.05" width="1.5" height="1.5" fill="#7fbf8e" opacity="0.85"/>
<rect x="394.12" y="282.55" width="1.5" height="1.5" fill="#7fbf8e" opacity="0.85"/>
<rect x="396.02" y="282.55" width="1.5" height="1.5" fill="#7fbf8e" opacity="0.85"/>
<rect x="393.17" y="287.80" width="1.5" height="1.5" fill="#7fbf8e" opacity="0.85"/>
<rect x="395.07" y="308.80" width="1.5" height="1.5" fill="#7fbf8e" opacity="0.85"/>
<rect x="395.07" y="335.05" width="1.5" height="1.5" fill="#7fbf8e" opacity="0.85"/>
<rect x="395.07" y="287.80" width="1.5" height="1.5" fill="#7fbf8e" opacity="0.85"/>
<rect x="396.97" y="287.80" width="1.5" height="1.5" fill="#7fbf8e" opacity="0.85"/>
<rect x="410.41" y="272.05" width="1.5" height="1.5" fill="#7fbf8e" opacity="0.85"/>
<rect x="410.41" y="293.05" width="1.5" height="1.5" fill="#7fbf8e" opacity="0.85"/>
<rect x="410.41" y="298.30" width="1.5" height="1.5" fill="#7fbf8e" opacity="0.85"/>
<rect x="410.41" y="282.55" width="1.5" height="1.5" fill="#7fbf8e" opacity="0.85"/>
<rect x="410.41" y="314.05" width="1.5" height="1.5" fill="#7fbf8e" opacity="0.85"/>
<rect x="410.41" y="308.80" width="1.5" height="1.5" fill="#7fbf8e" opacity="0.85"/>
<rect x="410.41" y="303.55" width="1.5" height="1.5" fill="#7fbf8e" opacity="0.85"/>
<rect x="410.41" y="287.80" width="1.5" height="1.5" fill="#7fbf8e" opacity="0.85"/>
<rect x="410.41" y="261.55" width="1.5" height="1.5" fill="#7fbf8e" opacity="0.85"/>
<rect x="410.41" y="277.30" width="1.5" height="1.5" fill="#7fbf8e" opacity="0.85"/>
<rect x="425.75" y="272.05" width="1.5" height="1.5" fill="#7fbf8e" opacity="0.85"/>
<rect x="424.80" y="287.80" width="1.5" height="1.5" fill="#7fbf8e" opacity="0.85"/>
<rect x="426.70" y="287.80" width="1.5" height="1.5" fill="#7fbf8e" opacity="0.85"/>
<rect x="425.75" y="298.30" width="1.5" height="1.5" fill="#7fbf8e" opacity="0.85"/>
<rect x="425.75" y="293.05" width="1.5" height="1.5" fill="#7fbf8e" opacity="0.85"/>
<rect x="425.75" y="324.55" width="1.5" height="1.5" fill="#7fbf8e" opacity="0.85"/>
<rect x="424.80" y="308.80" width="1.5" height="1.5" fill="#7fbf8e" opacity="0.85"/>
<rect x="426.70" y="308.80" width="1.5" height="1.5" fill="#7fbf8e" opacity="0.85"/>
<rect x="424.80" y="277.30" width="1.5" height="1.5" fill="#7fbf8e" opacity="0.85"/>
<rect x="426.70" y="277.30" width="1.5" height="1.5" fill="#7fbf8e" opacity="0.85"/>
<rect x="439.19" y="277.30" width="1.5" height="1.5" fill="#7fbf8e" opacity="0.85"/>
<rect x="441.09" y="272.05" width="1.5" height="1.5" fill="#7fbf8e" opacity="0.85"/>
<rect x="440.14" y="298.30" width="1.5" height="1.5" fill="#7fbf8e" opacity="0.85"/>
<rect x="441.09" y="277.30" width="1.5" height="1.5" fill="#7fbf8e" opacity="0.85"/>
<rect x="441.09" y="266.80" width="1.5" height="1.5" fill="#7fbf8e" opacity="0.85"/>
<rect x="440.14" y="293.05" width="1.5" height="1.5" fill="#7fbf8e" opacity="0.85"/>
<rect x="442.99" y="277.30" width="1.5" height="1.5" fill="#7fbf8e" opacity="0.85"/>
<rect x="442.04" y="298.30" width="1.5" height="1.5" fill="#7fbf8e" opacity="0.85"/>
<rect x="441.09" y="319.30" width="1.5" height="1.5" fill="#7fbf8e" opacity="0.85"/>
<rect x="442.04" y="293.05" width="1.5" height="1.5" fill="#7fbf8e" opacity="0.85"/>
<rect x="455.48" y="303.55" width="1.5" height="1.5" fill="#7fbf8e" opacity="0.85"/>
<rect x="455.48" y="287.80" width="1.5" height="1.5" fill="#7fbf8e" opacity="0.85"/>
<rect x="455.48" y="298.30" width="1.5" height="1.5" fill="#7fbf8e" opacity="0.85"/>
<rect x="457.38" y="287.80" width="1.5" height="1.5" fill="#7fbf8e" opacity="0.85"/>
<rect x="456.43" y="324.55" width="1.5" height="1.5" fill="#7fbf8e" opacity="0.85"/>
<rect x="456.43" y="261.55" width="1.5" height="1.5" fill="#7fbf8e" opacity="0.85"/>
<rect x="456.43" y="272.05" width="1.5" height="1.5" fill="#7fbf8e" opacity="0.85"/>
<rect x="457.38" y="298.30" width="1.5" height="1.5" fill="#7fbf8e" opacity="0.85"/>
<rect x="457.38" y="303.55" width="1.5" height="1.5" fill="#7fbf8e" opacity="0.85"/>
<rect x="456.43" y="293.05" width="1.5" height="1.5" fill="#7fbf8e" opacity="0.85"/>
<rect x="272.24" y="253.12" width="1.5" height="1.5" fill="#f3987a" opacity="0.85"/>
<rect x="272.51" y="253.92" width="1.5" height="1.5" fill="#f3987a" opacity="0.85"/>
<rect x="272.17" y="253.98" width="1.5" height="1.5" fill="#f3987a" opacity="0.85"/>
<rect x="272.34" y="261.45" width="1.5" height="1.5" fill="#f3987a" opacity="0.85"/>
<rect x="272.57" y="258.81" width="1.5" height="1.5" fill="#f3987a" opacity="0.85"/>
<rect x="272.50" y="251.02" width="1.5" height="1.5" fill="#f3987a" opacity="0.85"/>
<rect x="272.19" y="254.49" width="1.5" height="1.5" fill="#f3987a" opacity="0.85"/>
<rect x="272.71" y="260.04" width="1.5" height="1.5" fill="#f3987a" opacity="0.85"/>
<rect x="272.47" y="257.99" width="1.5" height="1.5" fill="#f3987a" opacity="0.85"/>
<rect x="272.41" y="259.81" width="1.5" height="1.5" fill="#f3987a" opacity="0.85"/>
<rect x="286.74" y="308.80" width="1.5" height="1.5" fill="#f3987a" opacity="0.85"/>
<rect x="285.79" y="319.30" width="1.5" height="1.5" fill="#f3987a" opacity="0.85"/>
<rect x="287.69" y="319.30" width="1.5" height="1.5" fill="#f3987a" opacity="0.85"/>
<rect x="287.69" y="303.55" width="1.5" height="1.5" fill="#f3987a" opacity="0.85"/>
<rect x="287.69" y="340.30" width="1.5" height="1.5" fill="#f3987a" opacity="0.85"/>
<rect x="289.59" y="319.30" width="1.5" height="1.5" fill="#f3987a" opacity="0.85"/>
<rect x="286.74" y="335.05" width="1.5" height="1.5" fill="#f3987a" opacity="0.85"/>
<rect x="288.64" y="335.05" width="1.5" height="1.5" fill="#f3987a" opacity="0.85"/>
<rect x="287.69" y="329.80" width="1.5" height="1.5" fill="#f3987a" opacity="0.85"/>
<rect x="288.64" y="308.80" width="1.5" height="1.5" fill="#f3987a" opacity="0.85"/>
<rect x="302.08" y="298.30" width="1.5" height="1.5" fill="#f3987a" opacity="0.85"/>
<rect x="303.03" y="319.30" width="1.5" height="1.5" fill="#f3987a" opacity="0.85"/>
<rect x="302.08" y="308.80" width="1.5" height="1.5" fill="#f3987a" opacity="0.85"/>
<rect x="303.03" y="282.55" width="1.5" height="1.5" fill="#f3987a" opacity="0.85"/>
<rect x="303.03" y="287.80" width="1.5" height="1.5" fill="#f3987a" opacity="0.85"/>
<rect x="303.98" y="308.80" width="1.5" height="1.5" fill="#f3987a" opacity="0.85"/>
<rect x="303.03" y="272.05" width="1.5" height="1.5" fill="#f3987a" opacity="0.85"/>
<rect x="303.03" y="303.55" width="1.5" height="1.5" fill="#f3987a" opacity="0.85"/>
<rect x="303.03" y="314.05" width="1.5" height="1.5" fill="#f3987a" opacity="0.85"/>
<rect x="303.98" y="298.30" width="1.5" height="1.5" fill="#f3987a" opacity="0.85"/>
<rect x="317.42" y="277.30" width="1.5" height="1.5" fill="#f3987a" opacity="0.85"/>
<rect x="318.37" y="272.05" width="1.5" height="1.5" fill="#f3987a" opacity="0.85"/>
<rect x="319.32" y="277.30" width="1.5" height="1.5" fill="#f3987a" opacity="0.85"/>
<rect x="317.42" y="293.05" width="1.5" height="1.5" fill="#f3987a" opacity="0.85"/>
<rect x="319.32" y="293.05" width="1.5" height="1.5" fill="#f3987a" opacity="0.85"/>
<rect x="317.42" y="303.55" width="1.5" height="1.5" fill="#f3987a" opacity="0.85"/>
<rect x="317.42" y="287.80" width="1.5" height="1.5" fill="#f3987a" opacity="0.85"/>
<rect x="318.37" y="298.30" width="1.5" height="1.5" fill="#f3987a" opacity="0.85"/>
<rect x="319.32" y="287.80" width="1.5" height="1.5" fill="#f3987a" opacity="0.85"/>
<rect x="319.32" y="303.55" width="1.5" height="1.5" fill="#f3987a" opacity="0.85"/>
<rect x="333.71" y="293.05" width="1.5" height="1.5" fill="#f3987a" opacity="0.85"/>
<rect x="332.76" y="298.30" width="1.5" height="1.5" fill="#f3987a" opacity="0.85"/>
<rect x="330.86" y="303.55" width="1.5" height="1.5" fill="#f3987a" opacity="0.85"/>
<rect x="332.76" y="303.55" width="1.5" height="1.5" fill="#f3987a" opacity="0.85"/>
<rect x="334.66" y="298.30" width="1.5" height="1.5" fill="#f3987a" opacity="0.85"/>
<rect x="334.66" y="303.55" width="1.5" height="1.5" fill="#f3987a" opacity="0.85"/>
<rect x="332.76" y="282.55" width="1.5" height="1.5" fill="#f3987a" opacity="0.85"/>
<rect x="333.71" y="287.80" width="1.5" height="1.5" fill="#f3987a" opacity="0.85"/>
<rect x="336.56" y="303.55" width="1.5" height="1.5" fill="#f3987a" opacity="0.85"/>
<rect x="334.66" y="282.55" width="1.5" height="1.5" fill="#f3987a" opacity="0.85"/>
<rect x="347.15" y="277.30" width="1.5" height="1.5" fill="#f3987a" opacity="0.85"/>
<rect x="349.05" y="266.80" width="1.5" height="1.5" fill="#f3987a" opacity="0.85"/>
<rect x="347.15" y="282.55" width="1.5" height="1.5" fill="#f3987a" opacity="0.85"/>
<rect x="347.15" y="287.80" width="1.5" height="1.5" fill="#f3987a" opacity="0.85"/>
<rect x="349.05" y="287.80" width="1.5" height="1.5" fill="#f3987a" opacity="0.85"/>
<rect x="349.05" y="282.55" width="1.5" height="1.5" fill="#f3987a" opacity="0.85"/>
<rect x="349.05" y="277.30" width="1.5" height="1.5" fill="#f3987a" opacity="0.85"/>
<rect x="350.95" y="282.55" width="1.5" height="1.5" fill="#f3987a" opacity="0.85"/>
<rect x="350.95" y="287.80" width="1.5" height="1.5" fill="#f3987a" opacity="0.85"/>
<rect x="350.95" y="277.30" width="1.5" height="1.5" fill="#f3987a" opacity="0.85"/>
<rect x="360.59" y="282.55" width="1.5" height="1.5" fill="#f3987a" opacity="0.85"/>
<rect x="362.49" y="282.55" width="1.5" height="1.5" fill="#f3987a" opacity="0.85"/>
<rect x="362.49" y="293.05" width="1.5" height="1.5" fill="#f3987a" opacity="0.85"/>
<rect x="364.39" y="282.55" width="1.5" height="1.5" fill="#f3987a" opacity="0.85"/>
<rect x="364.39" y="293.05" width="1.5" height="1.5" fill="#f3987a" opacity="0.85"/>
<rect x="366.29" y="293.05" width="1.5" height="1.5" fill="#f3987a" opacity="0.85"/>
<rect x="366.29" y="282.55" width="1.5" height="1.5" fill="#f3987a" opacity="0.85"/>
<rect x="364.39" y="261.55" width="1.5" height="1.5" fill="#f3987a" opacity="0.85"/>
<rect x="364.39" y="272.05" width="1.5" height="1.5" fill="#f3987a" opacity="0.85"/>
<rect x="368.19" y="282.55" width="1.5" height="1.5" fill="#f3987a" opacity="0.85"/>
<rect x="375.93" y="282.55" width="1.5" height="1.5" fill="#f3987a" opacity="0.85"/>
<rect x="379.73" y="272.05" width="1.5" height="1.5" fill="#f3987a" opacity="0.85"/>
<rect x="378.78" y="266.80" width="1.5" height="1.5" fill="#f3987a" opacity="0.85"/>
<rect x="380.68" y="266.80" width="1.5" height="1.5" fill="#f3987a" opacity="0.85"/>
<rect x="377.83" y="282.55" width="1.5" height="1.5" fill="#f3987a" opacity="0.85"/>
<rect x="379.73" y="277.30" width="1.5" height="1.5" fill="#f3987a" opacity="0.85"/>
<rect x="379.73" y="282.55" width="1.5" height="1.5" fill="#f3987a" opacity="0.85"/>
<rect x="381.63" y="282.55" width="1.5" height="1.5" fill="#f3987a" opacity="0.85"/>
<rect x="379.73" y="293.05" width="1.5" height="1.5" fill="#f3987a" opacity="0.85"/>
<rect x="383.53" y="282.55" width="1.5" height="1.5" fill="#f3987a" opacity="0.85"/>
<rect x="395.07" y="303.55" width="1.5" height="1.5" fill="#f3987a" opacity="0.85"/>
<rect x="393.17" y="293.05" width="1.5" height="1.5" fill="#f3987a" opacity="0.85"/>
<rect x="394.12" y="277.30" width="1.5" height="1.5" fill="#f3987a" opacity="0.85"/>
<rect x="394.12" y="287.80" width="1.5" height="1.5" fill="#f3987a" opacity="0.85"/>
<rect x="395.07" y="272.05" width="1.5" height="1.5" fill="#f3987a" opacity="0.85"/>
<rect x="395.07" y="293.05" width="1.5" height="1.5" fill="#f3987a" opacity="0.85"/>
<rect x="395.07" y="282.55" width="1.5" height="1.5" fill="#f3987a" opacity="0.85"/>
<rect x="396.02" y="277.30" width="1.5" height="1.5" fill="#f3987a" opacity="0.85"/>
<rect x="396.97" y="293.05" width="1.5" height="1.5" fill="#f3987a" opacity="0.85"/>
<rect x="396.02" y="287.80" width="1.5" height="1.5" fill="#f3987a" opacity="0.85"/>
<rect x="410.41" y="251.05" width="1.5" height="1.5" fill="#f3987a" opacity="0.85"/>
<rect x="406.61" y="282.55" width="1.5" height="1.5" fill="#f3987a" opacity="0.85"/>
<rect x="408.51" y="282.55" width="1.5" height="1.5" fill="#f3987a" opacity="0.85"/>
<rect x="410.41" y="282.55" width="1.5" height="1.5" fill="#f3987a" opacity="0.85"/>
<rect x="409.46" y="277.30" width="1.5" height="1.5" fill="#f3987a" opacity="0.85"/>
<rect x="411.36" y="277.30" width="1.5" height="1.5" fill="#f3987a" opacity="0.85"/>
<rect x="409.46" y="266.80" width="1.5" height="1.5" fill="#f3987a" opacity="0.85"/>
<rect x="411.36" y="266.80" width="1.5" height="1.5" fill="#f3987a" opacity="0.85"/>
<rect x="412.31" y="282.55" width="1.5" height="1.5" fill="#f3987a" opacity="0.85"/>
<rect x="414.21" y="282.55" width="1.5" height="1.5" fill="#f3987a" opacity="0.85"/>
<rect x="424.80" y="287.80" width="1.5" height="1.5" fill="#f3987a" opacity="0.85"/>
<rect x="426.70" y="287.80" width="1.5" height="1.5" fill="#f3987a" opacity="0.85"/>
<rect x="425.75" y="282.55" width="1.5" height="1.5" fill="#f3987a" opacity="0.85"/>
<rect x="425.75" y="266.80" width="1.5" height="1.5" fill="#f3987a" opacity="0.85"/>
<rect x="424.80" y="272.05" width="1.5" height="1.5" fill="#f3987a" opacity="0.85"/>
<rect x="424.80" y="261.55" width="1.5" height="1.5" fill="#f3987a" opacity="0.85"/>
<rect x="426.70" y="261.55" width="1.5" height="1.5" fill="#f3987a" opacity="0.85"/>
<rect x="426.70" y="272.05" width="1.5" height="1.5" fill="#f3987a" opacity="0.85"/>
<rect x="425.75" y="251.05" width="1.5" height="1.5" fill="#f3987a" opacity="0.85"/>
<rect x="425.75" y="277.30" width="1.5" height="1.5" fill="#f3987a" opacity="0.85"/>
<rect x="439.19" y="277.30" width="1.5" height="1.5" fill="#f3987a" opacity="0.85"/>
<rect x="441.09" y="277.30" width="1.5" height="1.5" fill="#f3987a" opacity="0.85"/>
<rect x="439.19" y="261.55" width="1.5" height="1.5" fill="#f3987a" opacity="0.85"/>
<rect x="440.14" y="272.05" width="1.5" height="1.5" fill="#f3987a" opacity="0.85"/>
<rect x="441.09" y="282.55" width="1.5" height="1.5" fill="#f3987a" opacity="0.85"/>
<rect x="441.09" y="266.80" width="1.5" height="1.5" fill="#f3987a" opacity="0.85"/>
<rect x="441.09" y="261.55" width="1.5" height="1.5" fill="#f3987a" opacity="0.85"/>
<rect x="442.04" y="272.05" width="1.5" height="1.5" fill="#f3987a" opacity="0.85"/>
<rect x="442.99" y="277.30" width="1.5" height="1.5" fill="#f3987a" opacity="0.85"/>
<rect x="442.99" y="261.55" width="1.5" height="1.5" fill="#f3987a" opacity="0.85"/>
<rect x="454.53" y="261.55" width="1.5" height="1.5" fill="#f3987a" opacity="0.85"/>
<rect x="456.43" y="261.55" width="1.5" height="1.5" fill="#f3987a" opacity="0.85"/>
<rect x="456.43" y="282.55" width="1.5" height="1.5" fill="#f3987a" opacity="0.85"/>
<rect x="455.48" y="266.80" width="1.5" height="1.5" fill="#f3987a" opacity="0.85"/>
<rect x="457.38" y="266.80" width="1.5" height="1.5" fill="#f3987a" opacity="0.85"/>
<rect x="456.43" y="293.05" width="1.5" height="1.5" fill="#f3987a" opacity="0.85"/>
<rect x="458.33" y="261.55" width="1.5" height="1.5" fill="#f3987a" opacity="0.85"/>
<rect x="456.43" y="272.05" width="1.5" height="1.5" fill="#f3987a" opacity="0.85"/>
<rect x="456.43" y="277.30" width="1.5" height="1.5" fill="#f3987a" opacity="0.85"/>
<rect x="456.43" y="245.80" width="1.5" height="1.5" fill="#f3987a" opacity="0.85"/>
<line x1="272.60" y1="240.80" x2="272.60" y2="367.90" stroke="#111" stroke-width="1.3" />
<line x1="272.00" y1="367.30" x2="458.10" y2="367.30" stroke="#111" stroke-width="1.3" />
<line x1="270.10" y1="367.30" x2="272.60" y2="367.30" stroke="#111" stroke-width="1" />
<text x="269.00" y="369.80" font-size="6.9" text-anchor="end" fill="#000" >30</text>
<line x1="270.10" y1="346.30" x2="272.60" y2="346.30" stroke="#111" stroke-width="1" />
<text x="269.00" y="348.80" font-size="6.9" text-anchor="end" fill="#000" >40</text>
<line x1="270.10" y1="325.30" x2="272.60" y2="325.30" stroke="#111" stroke-width="1" />
<text x="269.00" y="327.80" font-size="6.9" text-anchor="end" fill="#000" >50</text>
<line x1="270.10" y1="304.30" x2="272.60" y2="304.30" stroke="#111" stroke-width="1" />
<text x="269.00" y="306.80" font-size="6.9" text-anchor="end" fill="#000" >60</text>
<line x1="270.10" y1="283.30" x2="272.60" y2="283.30" stroke="#111" stroke-width="1" />
<text x="269.00" y="285.80" font-size="6.9" text-anchor="end" fill="#000" >70</text>
<line x1="270.10" y1="262.30" x2="272.60" y2="262.30" stroke="#111" stroke-width="1" />
<text x="269.00" y="264.80" font-size="6.9" text-anchor="end" fill="#000" >80</text>
<line x1="270.10" y1="241.30" x2="272.60" y2="241.30" stroke="#111" stroke-width="1" />
<text x="269.00" y="243.80" font-size="6.9" text-anchor="end" fill="#000" >90</text>
<line x1="273.10" y1="367.30" x2="273.10" y2="369.80" stroke="#111" stroke-width="1" />
<text x="273.10" y="377.60" font-size="6.9" text-anchor="middle" fill="#000" >0</text>
<line x1="288.44" y1="367.30" x2="288.44" y2="369.80" stroke="#111" stroke-width="1" />
<text x="288.44" y="377.60" font-size="6.9" text-anchor="middle" fill="#000" >1</text>
<line x1="303.78" y1="367.30" x2="303.78" y2="369.80" stroke="#111" stroke-width="1" />
<text x="303.78" y="377.60" font-size="6.9" text-anchor="middle" fill="#000" >2</text>
<line x1="319.12" y1="367.30" x2="319.12" y2="369.80" stroke="#111" stroke-width="1" />
<text x="319.12" y="377.60" font-size="6.9" text-anchor="middle" fill="#000" >3</text>
<line x1="334.46" y1="367.30" x2="334.46" y2="369.80" stroke="#111" stroke-width="1" />
<text x="334.46" y="377.60" font-size="6.9" text-anchor="middle" fill="#000" >4</text>
<line x1="349.80" y1="367.30" x2="349.80" y2="369.80" stroke="#111" stroke-width="1" />
<text x="349.80" y="377.60" font-size="6.9" text-anchor="middle" fill="#000" >5</text>
<line x1="365.14" y1="367.30" x2="365.14" y2="369.80" stroke="#111" stroke-width="1" />
<text x="365.14" y="377.60" font-size="6.9" text-anchor="middle" fill="#000" >6</text>
<line x1="380.48" y1="367.30" x2="380.48" y2="369.80" stroke="#111" stroke-width="1" />
<text x="380.48" y="377.60" font-size="6.9" text-anchor="middle" fill="#000" >7</text>
<line x1="395.82" y1="367.30" x2="395.82" y2="369.80" stroke="#111" stroke-width="1" />
<text x="395.82" y="377.60" font-size="6.9" text-anchor="middle" fill="#000" >8</text>
<line x1="411.16" y1="367.30" x2="411.16" y2="369.80" stroke="#111" stroke-width="1" />
<text x="411.16" y="377.60" font-size="6.9" text-anchor="middle" fill="#000" >9</text>
<line x1="426.50" y1="367.30" x2="426.50" y2="369.80" stroke="#111" stroke-width="1" />
<text x="426.50" y="377.60" font-size="6.9" text-anchor="middle" fill="#000" >10</text>
<line x1="441.84" y1="367.30" x2="441.84" y2="369.80" stroke="#111" stroke-width="1" />
<text x="441.84" y="377.60" font-size="6.9" text-anchor="middle" fill="#000" >11</text>
<line x1="457.18" y1="367.30" x2="457.18" y2="369.80" stroke="#111" stroke-width="1" />
<text x="457.18" y="377.60" font-size="6.9" text-anchor="middle" fill="#000" >12</text>
<text transform="translate(254.60,335.10) rotate(-90)" font-size="9.98" fill="#000">Inclined Angle</text>
<text x="335.85" y="394.30" font-size="9.16" fill="#000" >Weeks Post-Injury</text>
<polyline points="273.10,256.00 288.44,322.15 303.78,300.10 319.12,290.23 334.46,289.60 349.80,283.72 365.14,283.72 380.48,282.25 395.82,280.78 411.16,277.21 426.50,273.43 441.84,273.64 457.18,273.01" fill="none" stroke="#ec4232" stroke-width="0.95"/>
<line x1="273.10" y1="252.85" x2="273.10" y2="259.15" stroke="#ec4232" stroke-width="1" />
<line x1="271.10" y1="252.85" x2="275.10" y2="252.85" stroke="#ec4232" stroke-width="1.1" />
<line x1="271.10" y1="259.15" x2="275.10" y2="259.15" stroke="#ec4232" stroke-width="1.1" />
<circle cx="273.10" cy="256.00" r="1.9" fill="#ec4232"/>
<line x1="288.44" y1="312.70" x2="288.44" y2="331.60" stroke="#ec4232" stroke-width="1" />
<line x1="286.44" y1="312.70" x2="290.44" y2="312.70" stroke="#ec4232" stroke-width="1.1" />
<line x1="286.44" y1="331.60" x2="290.44" y2="331.60" stroke="#ec4232" stroke-width="1.1" />
<circle cx="288.44" cy="322.15" r="1.9" fill="#ec4232"/>
<line x1="303.78" y1="294.22" x2="303.78" y2="305.98" stroke="#ec4232" stroke-width="1" />
<line x1="301.78" y1="294.22" x2="305.78" y2="294.22" stroke="#ec4232" stroke-width="1.1" />
<line x1="301.78" y1="305.98" x2="305.78" y2="305.98" stroke="#ec4232" stroke-width="1.1" />
<circle cx="303.78" cy="300.10" r="1.9" fill="#ec4232"/>
<line x1="319.12" y1="286.03" x2="319.12" y2="294.43" stroke="#ec4232" stroke-width="1" />
<line x1="317.12" y1="286.03" x2="321.12" y2="286.03" stroke="#ec4232" stroke-width="1.1" />
<line x1="317.12" y1="294.43" x2="321.12" y2="294.43" stroke="#ec4232" stroke-width="1.1" />
<circle cx="319.12" cy="290.23" r="1.9" fill="#ec4232"/>
<line x1="334.46" y1="285.82" x2="334.46" y2="293.38" stroke="#ec4232" stroke-width="1" />
<line x1="332.46" y1="285.82" x2="336.46" y2="285.82" stroke="#ec4232" stroke-width="1.1" />
<line x1="332.46" y1="293.38" x2="336.46" y2="293.38" stroke="#ec4232" stroke-width="1.1" />
<circle cx="334.46" cy="289.60" r="1.9" fill="#ec4232"/>
<line x1="349.80" y1="280.36" x2="349.80" y2="287.08" stroke="#ec4232" stroke-width="1" />
<line x1="347.80" y1="280.36" x2="351.80" y2="280.36" stroke="#ec4232" stroke-width="1.1" />
<line x1="347.80" y1="287.08" x2="351.80" y2="287.08" stroke="#ec4232" stroke-width="1.1" />
<circle cx="349.80" cy="283.72" r="1.9" fill="#ec4232"/>
<line x1="365.14" y1="280.78" x2="365.14" y2="286.66" stroke="#ec4232" stroke-width="1" />
<line x1="363.14" y1="280.78" x2="367.14" y2="280.78" stroke="#ec4232" stroke-width="1.1" />
<line x1="363.14" y1="286.66" x2="367.14" y2="286.66" stroke="#ec4232" stroke-width="1.1" />
<circle cx="365.14" cy="283.72" r="1.9" fill="#ec4232"/>
<line x1="380.48" y1="279.73" x2="380.48" y2="284.77" stroke="#ec4232" stroke-width="1" />
<line x1="378.48" y1="279.73" x2="382.48" y2="279.73" stroke="#ec4232" stroke-width="1.1" />
<line x1="378.48" y1="284.77" x2="382.48" y2="284.77" stroke="#ec4232" stroke-width="1.1" />
<circle cx="380.48" cy="282.25" r="1.9" fill="#ec4232"/>
<line x1="395.82" y1="278.47" x2="395.82" y2="283.09" stroke="#ec4232" stroke-width="1" />
<line x1="393.82" y1="278.47" x2="397.82" y2="278.47" stroke="#ec4232" stroke-width="1.1" />
<line x1="393.82" y1="283.09" x2="397.82" y2="283.09" stroke="#ec4232" stroke-width="1.1" />
<circle cx="395.82" cy="280.78" r="1.9" fill="#ec4232"/>
<line x1="411.16" y1="274.90" x2="411.16" y2="279.52" stroke="#ec4232" stroke-width="1" />
<line x1="409.16" y1="274.90" x2="413.16" y2="274.90" stroke="#ec4232" stroke-width="1.1" />
<line x1="409.16" y1="279.52" x2="413.16" y2="279.52" stroke="#ec4232" stroke-width="1.1" />
<circle cx="411.16" cy="277.21" r="1.9" fill="#ec4232"/>
<line x1="426.50" y1="271.12" x2="426.50" y2="275.74" stroke="#ec4232" stroke-width="1" />
<line x1="424.50" y1="271.12" x2="428.50" y2="271.12" stroke="#ec4232" stroke-width="1.1" />
<line x1="424.50" y1="275.74" x2="428.50" y2="275.74" stroke="#ec4232" stroke-width="1.1" />
<circle cx="426.50" cy="273.43" r="1.9" fill="#ec4232"/>
<line x1="441.84" y1="271.54" x2="441.84" y2="275.74" stroke="#ec4232" stroke-width="1" />
<line x1="439.84" y1="271.54" x2="443.84" y2="271.54" stroke="#ec4232" stroke-width="1.1" />
<line x1="439.84" y1="275.74" x2="443.84" y2="275.74" stroke="#ec4232" stroke-width="1.1" />
<circle cx="441.84" cy="273.64" r="1.9" fill="#ec4232"/>
<line x1="457.18" y1="270.70" x2="457.18" y2="275.32" stroke="#ec4232" stroke-width="1" />
<line x1="455.18" y1="270.70" x2="459.18" y2="270.70" stroke="#ec4232" stroke-width="1.1" />
<line x1="455.18" y1="275.32" x2="459.18" y2="275.32" stroke="#ec4232" stroke-width="1.1" />
<circle cx="457.18" cy="273.01" r="1.9" fill="#ec4232"/>
<polyline points="273.10,256.00 288.44,324.25 303.78,307.45 319.12,300.10 334.46,298.00 349.80,295.69 365.14,296.53 380.48,298.00 395.82,291.28 411.16,291.70 426.50,290.23 441.84,294.22 457.18,292.75" fill="none" stroke="#1c9a52" stroke-width="1.15"/>
<line x1="273.10" y1="252.85" x2="273.10" y2="259.15" stroke="#1c9a52" stroke-width="1" />
<line x1="271.10" y1="252.85" x2="275.10" y2="252.85" stroke="#1c9a52" stroke-width="1.1" />
<line x1="271.10" y1="259.15" x2="275.10" y2="259.15" stroke="#1c9a52" stroke-width="1.1" />
<circle cx="273.10" cy="256.00" r="1.9" fill="#1c9a52"/>
<line x1="288.44" y1="313.75" x2="288.44" y2="334.75" stroke="#1c9a52" stroke-width="1" />
<line x1="286.44" y1="313.75" x2="290.44" y2="313.75" stroke="#1c9a52" stroke-width="1.1" />
<line x1="286.44" y1="334.75" x2="290.44" y2="334.75" stroke="#1c9a52" stroke-width="1.1" />
<circle cx="288.44" cy="324.25" r="1.9" fill="#1c9a52"/>
<line x1="303.78" y1="300.10" x2="303.78" y2="314.80" stroke="#1c9a52" stroke-width="1" />
<line x1="301.78" y1="300.10" x2="305.78" y2="300.10" stroke="#1c9a52" stroke-width="1.1" />
<line x1="301.78" y1="314.80" x2="305.78" y2="314.80" stroke="#1c9a52" stroke-width="1.1" />
<circle cx="303.78" cy="307.45" r="1.9" fill="#1c9a52"/>
<line x1="319.12" y1="293.80" x2="319.12" y2="306.40" stroke="#1c9a52" stroke-width="1" />
<line x1="317.12" y1="293.80" x2="321.12" y2="293.80" stroke="#1c9a52" stroke-width="1.1" />
<line x1="317.12" y1="306.40" x2="321.12" y2="306.40" stroke="#1c9a52" stroke-width="1.1" />
<circle cx="319.12" cy="300.10" r="1.9" fill="#1c9a52"/>
<line x1="334.46" y1="292.12" x2="334.46" y2="303.88" stroke="#1c9a52" stroke-width="1" />
<line x1="332.46" y1="292.12" x2="336.46" y2="292.12" stroke="#1c9a52" stroke-width="1.1" />
<line x1="332.46" y1="303.88" x2="336.46" y2="303.88" stroke="#1c9a52" stroke-width="1.1" />
<circle cx="334.46" cy="298.00" r="1.9" fill="#1c9a52"/>
<line x1="349.80" y1="289.81" x2="349.80" y2="301.57" stroke="#1c9a52" stroke-width="1" />
<line x1="347.80" y1="289.81" x2="351.80" y2="289.81" stroke="#1c9a52" stroke-width="1.1" />
<line x1="347.80" y1="301.57" x2="351.80" y2="301.57" stroke="#1c9a52" stroke-width="1.1" />
<circle cx="349.80" cy="295.69" r="1.9" fill="#1c9a52"/>
<line x1="365.14" y1="291.49" x2="365.14" y2="301.57" stroke="#1c9a52" stroke-width="1" />
<line x1="363.14" y1="291.49" x2="367.14" y2="291.49" stroke="#1c9a52" stroke-width="1.1" />
<line x1="363.14" y1="301.57" x2="367.14" y2="301.57" stroke="#1c9a52" stroke-width="1.1" />
<circle cx="365.14" cy="296.53" r="1.9" fill="#1c9a52"/>
<line x1="380.48" y1="291.70" x2="380.48" y2="304.30" stroke="#1c9a52" stroke-width="1" />
<line x1="378.48" y1="291.70" x2="382.48" y2="291.70" stroke="#1c9a52" stroke-width="1.1" />
<line x1="378.48" y1="304.30" x2="382.48" y2="304.30" stroke="#1c9a52" stroke-width="1.1" />
<circle cx="380.48" cy="298.00" r="1.9" fill="#1c9a52"/>
<line x1="395.82" y1="287.08" x2="395.82" y2="295.48" stroke="#1c9a52" stroke-width="1" />
<line x1="393.82" y1="287.08" x2="397.82" y2="287.08" stroke="#1c9a52" stroke-width="1.1" />
<line x1="393.82" y1="295.48" x2="397.82" y2="295.48" stroke="#1c9a52" stroke-width="1.1" />
<circle cx="395.82" cy="291.28" r="1.9" fill="#1c9a52"/>
<line x1="411.16" y1="287.08" x2="411.16" y2="296.32" stroke="#1c9a52" stroke-width="1" />
<line x1="409.16" y1="287.08" x2="413.16" y2="287.08" stroke="#1c9a52" stroke-width="1.1" />
<line x1="409.16" y1="296.32" x2="413.16" y2="296.32" stroke="#1c9a52" stroke-width="1.1" />
<circle cx="411.16" cy="291.70" r="1.9" fill="#1c9a52"/>
<line x1="426.50" y1="285.40" x2="426.50" y2="295.06" stroke="#1c9a52" stroke-width="1" />
<line x1="424.50" y1="285.40" x2="428.50" y2="285.40" stroke="#1c9a52" stroke-width="1.1" />
<line x1="424.50" y1="295.06" x2="428.50" y2="295.06" stroke="#1c9a52" stroke-width="1.1" />
<circle cx="426.50" cy="290.23" r="1.9" fill="#1c9a52"/>
<line x1="441.84" y1="290.02" x2="441.84" y2="298.42" stroke="#1c9a52" stroke-width="1" />
<line x1="439.84" y1="290.02" x2="443.84" y2="290.02" stroke="#1c9a52" stroke-width="1.1" />
<line x1="439.84" y1="298.42" x2="443.84" y2="298.42" stroke="#1c9a52" stroke-width="1.1" />
<circle cx="441.84" cy="294.22" r="1.9" fill="#1c9a52"/>
<line x1="457.18" y1="287.71" x2="457.18" y2="297.79" stroke="#1c9a52" stroke-width="1" />
<line x1="455.18" y1="287.71" x2="459.18" y2="287.71" stroke="#1c9a52" stroke-width="1.1" />
<line x1="455.18" y1="297.79" x2="459.18" y2="297.79" stroke="#1c9a52" stroke-width="1.1" />
<circle cx="457.18" cy="292.75" r="1.9" fill="#1c9a52"/>
<path d="M378.83,238.60L382.93,238.60M379.86,236.82L381.90,240.38M381.90,236.82L379.86,240.38" stroke="#333" stroke-width="0.95" fill="none"/>
<path d="M409.51,238.60L413.61,238.60M410.54,236.82L412.58,240.38M412.58,236.82L410.54,240.38" stroke="#333" stroke-width="0.95" fill="none"/>
<path d="M424.85,238.60L428.95,238.60M425.88,236.82L427.92,240.38M427.92,236.82L425.88,240.38" stroke="#333" stroke-width="0.95" fill="none"/>
<path d="M440.19,238.60L444.29,238.60M441.22,236.82L443.26,240.38M443.26,236.82L441.22,240.38" stroke="#333" stroke-width="0.95" fill="none"/>
<path d="M455.53,238.60L459.63,238.60M456.56,236.82L458.60,240.38M458.60,236.82L456.56,240.38" stroke="#333" stroke-width="0.95" fill="none"/>
<line x1="390.30" y1="350.30" x2="399.00" y2="350.30" stroke="#1c9a52" stroke-width="1" />
<circle cx="394.65" cy="350.30" r="1.9" fill="#1c9a52"/>
<text x="403.67" y="352.80" font-size="6.94" fill="#000" >AAV9-Syn-EGFP</text>
<line x1="390.30" y1="360.70" x2="399.00" y2="360.70" stroke="#ec4232" stroke-width="1" />
<circle cx="394.65" cy="360.70" r="1.9" fill="#ec4232"/>
<text x="403.67" y="363.30" font-size="6.99" fill="#000" >AAV9-Syn-KCC2</text>
<text x="467.88" y="206.10" font-size="14.00" font-weight="bold" fill="#000" >E)</text>
<text x="539.04" y="214.20" font-size="11.56" font-weight="bold" fill="#000" >Open Field BBB</text>
<text x="558.04" y="223.80" font-size="7.07" font-weight="bold" fill="#000" >Interaction:</text><path d="M598.5,221.7L602.7,221.7M599.6,219.9L601.6,223.5M601.6,219.9L599.6,223.5" stroke="#555" stroke-width="0.9"/><path d="M603.0,221.7L607.2,221.7M604.1,219.9L606.1,223.5M606.1,219.9L604.1,223.5" stroke="#555" stroke-width="0.9"/><path d="M607.7,221.7L611.9,221.7M608.8,219.9L610.8,223.5M610.8,219.9L608.8,223.5" stroke="#555" stroke-width="0.9"/><path d="M612.4,221.7L616.6,221.7M613.5,219.9L615.5,223.5M615.5,219.9L613.5,223.5" stroke="#555" stroke-width="0.9"/>
<line x1="497.50" y1="244.60" x2="680.00" y2="244.60" stroke="#3a3a3a" stroke-width="1.15" stroke-dasharray="5.3,3.9" stroke-dashoffset="2.90"/>
<rect x="496.43" y="250.83" width="1.5" height="1.5" fill="#7fbf8e" opacity="0.85"/>
<rect x="496.59" y="242.46" width="1.5" height="1.5" fill="#7fbf8e" opacity="0.85"/>
<rect x="497.00" y="247.11" width="1.5" height="1.5" fill="#7fbf8e" opacity="0.85"/>
<rect x="496.90" y="251.37" width="1.5" height="1.5" fill="#7fbf8e" opacity="0.85"/>
<rect x="496.38" y="244.77" width="1.5" height="1.5" fill="#7fbf8e" opacity="0.85"/>
<rect x="497.14" y="241.93" width="1.5" height="1.5" fill="#7fbf8e" opacity="0.85"/>
<rect x="496.87" y="250.78" width="1.5" height="1.5" fill="#7fbf8e" opacity="0.85"/>
<rect x="496.84" y="251.18" width="1.5" height="1.5" fill="#7fbf8e" opacity="0.85"/>
<rect x="500.24" y="354.14" width="1.5" height="1.5" fill="#7fbf8e" opacity="0.85"/>
<rect x="502.14" y="354.14" width="1.5" height="1.5" fill="#7fbf8e" opacity="0.85"/>
<rect x="503.09" y="359.95" width="1.5" height="1.5" fill="#7fbf8e" opacity="0.85"/>
<rect x="504.04" y="354.14" width="1.5" height="1.5" fill="#7fbf8e" opacity="0.85"/>
<rect x="503.09" y="348.34" width="1.5" height="1.5" fill="#7fbf8e" opacity="0.85"/>
<rect x="502.14" y="342.53" width="1.5" height="1.5" fill="#7fbf8e" opacity="0.85"/>
<rect x="503.09" y="336.73" width="1.5" height="1.5" fill="#7fbf8e" opacity="0.85"/>
<rect x="505.94" y="354.14" width="1.5" height="1.5" fill="#7fbf8e" opacity="0.85"/>
<rect x="504.04" y="342.53" width="1.5" height="1.5" fill="#7fbf8e" opacity="0.85"/>
<rect x="510.90" y="348.34" width="1.5" height="1.5" fill="#7fbf8e" opacity="0.85"/>
<rect x="511.85" y="325.12" width="1.5" height="1.5" fill="#7fbf8e" opacity="0.85"/>
<rect x="512.80" y="348.34" width="1.5" height="1.5" fill="#7fbf8e" opacity="0.85"/>
<rect x="509.95" y="319.31" width="1.5" height="1.5" fill="#7fbf8e" opacity="0.85"/>
<rect x="511.85" y="336.73" width="1.5" height="1.5" fill="#7fbf8e" opacity="0.85"/>
<rect x="511.85" y="319.31" width="1.5" height="1.5" fill="#7fbf8e" opacity="0.85"/>
<rect x="511.85" y="261.26" width="1.5" height="1.5" fill="#7fbf8e" opacity="0.85"/>
<rect x="513.75" y="319.31" width="1.5" height="1.5" fill="#7fbf8e" opacity="0.85"/>
<rect x="511.85" y="307.70" width="1.5" height="1.5" fill="#7fbf8e" opacity="0.85"/>
<rect x="511.85" y="342.53" width="1.5" height="1.5" fill="#7fbf8e" opacity="0.85"/>
<rect x="526.00" y="313.51" width="1.5" height="1.5" fill="#7fbf8e" opacity="0.85"/>
<rect x="526.00" y="296.09" width="1.5" height="1.5" fill="#7fbf8e" opacity="0.85"/>
<rect x="526.00" y="307.70" width="1.5" height="1.5" fill="#7fbf8e" opacity="0.85"/>
<rect x="526.95" y="301.90" width="1.5" height="1.5" fill="#7fbf8e" opacity="0.85"/>
<rect x="527.90" y="307.70" width="1.5" height="1.5" fill="#7fbf8e" opacity="0.85"/>
<rect x="526.95" y="325.12" width="1.5" height="1.5" fill="#7fbf8e" opacity="0.85"/>
<rect x="527.90" y="296.09" width="1.5" height="1.5" fill="#7fbf8e" opacity="0.85"/>
<rect x="526.95" y="319.31" width="1.5" height="1.5" fill="#7fbf8e" opacity="0.85"/>
<rect x="526.95" y="272.87" width="1.5" height="1.5" fill="#7fbf8e" opacity="0.85"/>
<rect x="527.90" y="313.51" width="1.5" height="1.5" fill="#7fbf8e" opacity="0.85"/>
<rect x="541.10" y="284.48" width="1.5" height="1.5" fill="#7fbf8e" opacity="0.85"/>
<rect x="541.10" y="296.09" width="1.5" height="1.5" fill="#7fbf8e" opacity="0.85"/>
<rect x="541.10" y="278.68" width="1.5" height="1.5" fill="#7fbf8e" opacity="0.85"/>
<rect x="541.10" y="307.70" width="1.5" height="1.5" fill="#7fbf8e" opacity="0.85"/>
<rect x="543.00" y="278.68" width="1.5" height="1.5" fill="#7fbf8e" opacity="0.85"/>
<rect x="543.00" y="296.09" width="1.5" height="1.5" fill="#7fbf8e" opacity="0.85"/>
<rect x="542.05" y="272.87" width="1.5" height="1.5" fill="#7fbf8e" opacity="0.85"/>
<rect x="543.00" y="284.48" width="1.5" height="1.5" fill="#7fbf8e" opacity="0.85"/>
<rect x="542.05" y="290.29" width="1.5" height="1.5" fill="#7fbf8e" opacity="0.85"/>
<rect x="543.00" y="307.70" width="1.5" height="1.5" fill="#7fbf8e" opacity="0.85"/>
<rect x="557.15" y="278.68" width="1.5" height="1.5" fill="#7fbf8e" opacity="0.85"/>
<rect x="554.30" y="284.48" width="1.5" height="1.5" fill="#7fbf8e" opacity="0.85"/>
<rect x="557.15" y="261.26" width="1.5" height="1.5" fill="#7fbf8e" opacity="0.85"/>
<rect x="557.15" y="296.09" width="1.5" height="1.5" fill="#7fbf8e" opacity="0.85"/>
<rect x="556.20" y="284.48" width="1.5" height="1.5" fill="#7fbf8e" opacity="0.85"/>
<rect x="558.10" y="284.48" width="1.5" height="1.5" fill="#7fbf8e" opacity="0.85"/>
<rect x="560.00" y="284.48" width="1.5" height="1.5" fill="#7fbf8e" opacity="0.85"/>
<rect x="556.20" y="290.29" width="1.5" height="1.5" fill="#7fbf8e" opacity="0.85"/>
<rect x="558.10" y="290.29" width="1.5" height="1.5" fill="#7fbf8e" opacity="0.85"/>
<rect x="557.15" y="301.90" width="1.5" height="1.5" fill="#7fbf8e" opacity="0.85"/>
<rect x="572.25" y="301.90" width="1.5" height="1.5" fill="#7fbf8e" opacity="0.85"/>
<rect x="572.25" y="290.29" width="1.5" height="1.5" fill="#7fbf8e" opacity="0.85"/>
<rect x="572.25" y="278.68" width="1.5" height="1.5" fill="#7fbf8e" opacity="0.85"/>
<rect x="572.25" y="261.26" width="1.5" height="1.5" fill="#7fbf8e" opacity="0.85"/>
<rect x="571.30" y="267.07" width="1.5" height="1.5" fill="#7fbf8e" opacity="0.85"/>
<rect x="573.20" y="267.07" width="1.5" height="1.5" fill="#7fbf8e" opacity="0.85"/>
<rect x="570.35" y="272.87" width="1.5" height="1.5" fill="#7fbf8e" opacity="0.85"/>
<rect x="572.25" y="272.87" width="1.5" height="1.5" fill="#7fbf8e" opacity="0.85"/>
<rect x="572.25" y="284.48" width="1.5" height="1.5" fill="#7fbf8e" opacity="0.85"/>
<rect x="574.15" y="272.87" width="1.5" height="1.5" fill="#7fbf8e" opacity="0.85"/>
<rect x="585.45" y="249.65" width="1.5" height="1.5" fill="#7fbf8e" opacity="0.85"/>
<rect x="587.35" y="284.48" width="1.5" height="1.5" fill="#7fbf8e" opacity="0.85"/>
<rect x="587.35" y="290.29" width="1.5" height="1.5" fill="#7fbf8e" opacity="0.85"/>
<rect x="587.35" y="249.65" width="1.5" height="1.5" fill="#7fbf8e" opacity="0.85"/>
<rect x="587.35" y="278.68" width="1.5" height="1.5" fill="#7fbf8e" opacity="0.85"/>
<rect x="587.35" y="261.26" width="1.5" height="1.5" fill="#7fbf8e" opacity="0.85"/>
<rect x="587.35" y="267.07" width="1.5" height="1.5" fill="#7fbf8e" opacity="0.85"/>
<rect x="587.35" y="301.90" width="1.5" height="1.5" fill="#7fbf8e" opacity="0.85"/>
<rect x="589.25" y="249.65" width="1.5" height="1.5" fill="#7fbf8e" opacity="0.85"/>
<rect x="600.55" y="278.68" width="1.5" height="1.5" fill="#7fbf8e" opacity="0.85"/>
<rect x="601.50" y="267.07" width="1.5" height="1.5" fill="#7fbf8e" opacity="0.85"/>
<rect x="602.45" y="278.68" width="1.5" height="1.5" fill="#7fbf8e" opacity="0.85"/>
<rect x="602.45" y="296.09" width="1.5" height="1.5" fill="#7fbf8e" opacity="0.85"/>
<rect x="602.45" y="284.48" width="1.5" height="1.5" fill="#7fbf8e" opacity="0.85"/>
<rect x="602.45" y="272.87" width="1.5" height="1.5" fill="#7fbf8e" opacity="0.85"/>
<rect x="602.45" y="261.26" width="1.5" height="1.5" fill="#7fbf8e" opacity="0.85"/>
<rect x="603.40" y="267.07" width="1.5" height="1.5" fill="#7fbf8e" opacity="0.85"/>
<rect x="604.35" y="278.68" width="1.5" height="1.5" fill="#7fbf8e" opacity="0.85"/>
<rect x="602.45" y="255.46" width="1.5" height="1.5" fill="#7fbf8e" opacity="0.85"/>
<rect x="617.55" y="290.29" width="1.5" height="1.5" fill="#7fbf8e" opacity="0.85"/>
<rect x="616.60" y="261.26" width="1.5" height="1.5" fill="#7fbf8e" opacity="0.85"/>
<rect x="618.50" y="261.26" width="1.5" height="1.5" fill="#7fbf8e" opacity="0.85"/>
<rect x="617.55" y="284.48" width="1.5" height="1.5" fill="#7fbf8e" opacity="0.85"/>
<rect x="617.55" y="307.70" width="1.5" height="1.5" fill="#7fbf8e" opacity="0.85"/>
<rect x="616.60" y="296.09" width="1.5" height="1.5" fill="#7fbf8e" opacity="0.85"/>
<rect x="617.55" y="272.87" width="1.5" height="1.5" fill="#7fbf8e" opacity="0.85"/>
<rect x="617.55" y="267.07" width="1.5" height="1.5" fill="#7fbf8e" opacity="0.85"/>
<rect x="617.55" y="249.65" width="1.5" height="1.5" fill="#7fbf8e" opacity="0.85"/>
<rect x="618.50" y="296.09" width="1.5" height="1.5" fill="#7fbf8e" opacity="0.85"/>
<rect x="631.70" y="278.68" width="1.5" height="1.5" fill="#7fbf8e" opacity="0.85"/>
<rect x="631.70" y="267.07" width="1.5" height="1.5" fill="#7fbf8e" opacity="0.85"/>
<rect x="633.60" y="278.68" width="1.5" height="1.5" fill="#7fbf8e" opacity="0.85"/>
<rect x="632.65" y="319.31" width="1.5" height="1.5" fill="#7fbf8e" opacity="0.85"/>
<rect x="633.60" y="267.07" width="1.5" height="1.5" fill="#7fbf8e" opacity="0.85"/>
<rect x="632.65" y="261.26" width="1.5" height="1.5" fill="#7fbf8e" opacity="0.85"/>
<rect x="632.65" y="296.09" width="1.5" height="1.5" fill="#7fbf8e" opacity="0.85"/>
<rect x="632.65" y="284.48" width="1.5" height="1.5" fill="#7fbf8e" opacity="0.85"/>
<rect x="632.65" y="272.87" width="1.5" height="1.5" fill="#7fbf8e" opacity="0.85"/>
<rect x="646.80" y="267.07" width="1.5" height="1.5" fill="#7fbf8e" opacity="0.85"/>
<rect x="646.80" y="278.68" width="1.5" height="1.5" fill="#7fbf8e" opacity="0.85"/>
<rect x="647.75" y="249.65" width="1.5" height="1.5" fill="#7fbf8e" opacity="0.85"/>
<rect x="648.70" y="278.68" width="1.5" height="1.5" fill="#7fbf8e" opacity="0.85"/>
<rect x="647.75" y="243.85" width="1.5" height="1.5" fill="#7fbf8e" opacity="0.85"/>
<rect x="647.75" y="290.29" width="1.5" height="1.5" fill="#7fbf8e" opacity="0.85"/>
<rect x="647.75" y="284.48" width="1.5" height="1.5" fill="#7fbf8e" opacity="0.85"/>
<rect x="648.70" y="267.07" width="1.5" height="1.5" fill="#7fbf8e" opacity="0.85"/>
<rect x="647.75" y="255.46" width="1.5" height="1.5" fill="#7fbf8e" opacity="0.85"/>
<rect x="660.95" y="261.26" width="1.5" height="1.5" fill="#7fbf8e" opacity="0.85"/>
<rect x="662.85" y="267.07" width="1.5" height="1.5" fill="#7fbf8e" opacity="0.85"/>
<rect x="662.85" y="307.70" width="1.5" height="1.5" fill="#7fbf8e" opacity="0.85"/>
<rect x="660.95" y="284.48" width="1.5" height="1.5" fill="#7fbf8e" opacity="0.85"/>
<rect x="662.85" y="284.48" width="1.5" height="1.5" fill="#7fbf8e" opacity="0.85"/>
<rect x="664.75" y="284.48" width="1.5" height="1.5" fill="#7fbf8e" opacity="0.85"/>
<rect x="662.85" y="261.26" width="1.5" height="1.5" fill="#7fbf8e" opacity="0.85"/>
<rect x="662.85" y="278.68" width="1.5" height="1.5" fill="#7fbf8e" opacity="0.85"/>
<rect x="664.75" y="261.26" width="1.5" height="1.5" fill="#7fbf8e" opacity="0.85"/>
<rect x="662.85" y="272.87" width="1.5" height="1.5" fill="#7fbf8e" opacity="0.85"/>
<rect x="676.05" y="278.68" width="1.5" height="1.5" fill="#7fbf8e" opacity="0.85"/>
<rect x="677.95" y="272.87" width="1.5" height="1.5" fill="#7fbf8e" opacity="0.85"/>
<rect x="677.95" y="267.07" width="1.5" height="1.5" fill="#7fbf8e" opacity="0.85"/>
<rect x="677.95" y="261.26" width="1.5" height="1.5" fill="#7fbf8e" opacity="0.85"/>
<rect x="677.95" y="284.48" width="1.5" height="1.5" fill="#7fbf8e" opacity="0.85"/>
<rect x="677.95" y="278.68" width="1.5" height="1.5" fill="#7fbf8e" opacity="0.85"/>
<rect x="677.95" y="296.09" width="1.5" height="1.5" fill="#7fbf8e" opacity="0.85"/>
<rect x="677.95" y="243.85" width="1.5" height="1.5" fill="#7fbf8e" opacity="0.85"/>
<rect x="677.95" y="249.65" width="1.5" height="1.5" fill="#7fbf8e" opacity="0.85"/>
<rect x="679.85" y="278.68" width="1.5" height="1.5" fill="#7fbf8e" opacity="0.85"/>
<rect x="496.74" y="245.85" width="1.5" height="1.5" fill="#f3987a" opacity="0.85"/>
<rect x="496.93" y="248.09" width="1.5" height="1.5" fill="#f3987a" opacity="0.85"/>
<rect x="496.61" y="243.93" width="1.5" height="1.5" fill="#f3987a" opacity="0.85"/>
<rect x="497.15" y="243.82" width="1.5" height="1.5" fill="#f3987a" opacity="0.85"/>
<rect x="496.79" y="243.70" width="1.5" height="1.5" fill="#f3987a" opacity="0.85"/>
<rect x="496.94" y="246.73" width="1.5" height="1.5" fill="#f3987a" opacity="0.85"/>
<rect x="497.07" y="251.67" width="1.5" height="1.5" fill="#f3987a" opacity="0.85"/>
<rect x="496.91" y="243.87" width="1.5" height="1.5" fill="#f3987a" opacity="0.85"/>
<rect x="501.19" y="348.34" width="1.5" height="1.5" fill="#f3987a" opacity="0.85"/>
<rect x="502.14" y="342.53" width="1.5" height="1.5" fill="#f3987a" opacity="0.85"/>
<rect x="504.04" y="342.53" width="1.5" height="1.5" fill="#f3987a" opacity="0.85"/>
<rect x="503.09" y="348.34" width="1.5" height="1.5" fill="#f3987a" opacity="0.85"/>
<rect x="504.99" y="348.34" width="1.5" height="1.5" fill="#f3987a" opacity="0.85"/>
<rect x="509.00" y="330.92" width="1.5" height="1.5" fill="#f3987a" opacity="0.85"/>
<rect x="510.90" y="330.92" width="1.5" height="1.5" fill="#f3987a" opacity="0.85"/>
<rect x="510.90" y="336.73" width="1.5" height="1.5" fill="#f3987a" opacity="0.85"/>
<rect x="512.80" y="330.92" width="1.5" height="1.5" fill="#f3987a" opacity="0.85"/>
<rect x="511.85" y="313.51" width="1.5" height="1.5" fill="#f3987a" opacity="0.85"/>
<rect x="511.85" y="319.31" width="1.5" height="1.5" fill="#f3987a" opacity="0.85"/>
<rect x="511.85" y="307.70" width="1.5" height="1.5" fill="#f3987a" opacity="0.85"/>
<rect x="511.85" y="325.12" width="1.5" height="1.5" fill="#f3987a" opacity="0.85"/>
<rect x="514.70" y="330.92" width="1.5" height="1.5" fill="#f3987a" opacity="0.85"/>
<rect x="512.80" y="336.73" width="1.5" height="1.5" fill="#f3987a" opacity="0.85"/>
<rect x="526.00" y="301.90" width="1.5" height="1.5" fill="#f3987a" opacity="0.85"/>
<rect x="526.95" y="313.51" width="1.5" height="1.5" fill="#f3987a" opacity="0.85"/>
<rect x="526.95" y="319.31" width="1.5" height="1.5" fill="#f3987a" opacity="0.85"/>
<rect x="526.00" y="296.09" width="1.5" height="1.5" fill="#f3987a" opacity="0.85"/>
<rect x="526.95" y="284.48" width="1.5" height="1.5" fill="#f3987a" opacity="0.85"/>
<rect x="526.00" y="290.29" width="1.5" height="1.5" fill="#f3987a" opacity="0.85"/>
<rect x="527.90" y="290.29" width="1.5" height="1.5" fill="#f3987a" opacity="0.85"/>
<rect x="527.90" y="296.09" width="1.5" height="1.5" fill="#f3987a" opacity="0.85"/>
<rect x="526.95" y="307.70" width="1.5" height="1.5" fill="#f3987a" opacity="0.85"/>
<rect x="527.90" y="301.90" width="1.5" height="1.5" fill="#f3987a" opacity="0.85"/>
<rect x="541.10" y="290.29" width="1.5" height="1.5" fill="#f3987a" opacity="0.85"/>
<rect x="541.10" y="301.90" width="1.5" height="1.5" fill="#f3987a" opacity="0.85"/>
<rect x="542.05" y="307.70" width="1.5" height="1.5" fill="#f3987a" opacity="0.85"/>
<rect x="543.00" y="301.90" width="1.5" height="1.5" fill="#f3987a" opacity="0.85"/>
<rect x="543.00" y="290.29" width="1.5" height="1.5" fill="#f3987a" opacity="0.85"/>
<rect x="540.15" y="284.48" width="1.5" height="1.5" fill="#f3987a" opacity="0.85"/>
<rect x="542.05" y="296.09" width="1.5" height="1.5" fill="#f3987a" opacity="0.85"/>
<rect x="542.05" y="272.87" width="1.5" height="1.5" fill="#f3987a" opacity="0.85"/>
<rect x="542.05" y="284.48" width="1.5" height="1.5" fill="#f3987a" opacity="0.85"/>
<rect x="543.95" y="284.48" width="1.5" height="1.5" fill="#f3987a" opacity="0.85"/>
<rect x="556.20" y="267.07" width="1.5" height="1.5" fill="#f3987a" opacity="0.85"/>
<rect x="556.20" y="290.29" width="1.5" height="1.5" fill="#f3987a" opacity="0.85"/>
<rect x="556.20" y="301.90" width="1.5" height="1.5" fill="#f3987a" opacity="0.85"/>
<rect x="555.25" y="272.87" width="1.5" height="1.5" fill="#f3987a" opacity="0.85"/>
<rect x="558.10" y="290.29" width="1.5" height="1.5" fill="#f3987a" opacity="0.85"/>
<rect x="558.10" y="267.07" width="1.5" height="1.5" fill="#f3987a" opacity="0.85"/>
<rect x="557.15" y="278.68" width="1.5" height="1.5" fill="#f3987a" opacity="0.85"/>
<rect x="557.15" y="272.87" width="1.5" height="1.5" fill="#f3987a" opacity="0.85"/>
<rect x="559.05" y="272.87" width="1.5" height="1.5" fill="#f3987a" opacity="0.85"/>
<rect x="558.10" y="301.90" width="1.5" height="1.5" fill="#f3987a" opacity="0.85"/>
<rect x="569.40" y="267.07" width="1.5" height="1.5" fill="#f3987a" opacity="0.85"/>
<rect x="571.30" y="284.48" width="1.5" height="1.5" fill="#f3987a" opacity="0.85"/>
<rect x="573.20" y="284.48" width="1.5" height="1.5" fill="#f3987a" opacity="0.85"/>
<rect x="571.30" y="278.68" width="1.5" height="1.5" fill="#f3987a" opacity="0.85"/>
<rect x="571.30" y="267.07" width="1.5" height="1.5" fill="#f3987a" opacity="0.85"/>
<rect x="573.20" y="267.07" width="1.5" height="1.5" fill="#f3987a" opacity="0.85"/>
<rect x="575.10" y="267.07" width="1.5" height="1.5" fill="#f3987a" opacity="0.85"/>
<rect x="572.25" y="290.29" width="1.5" height="1.5" fill="#f3987a" opacity="0.85"/>
<rect x="573.20" y="278.68" width="1.5" height="1.5" fill="#f3987a" opacity="0.85"/>
<rect x="572.25" y="296.09" width="1.5" height="1.5" fill="#f3987a" opacity="0.85"/>
<rect x="587.35" y="267.07" width="1.5" height="1.5" fill="#f3987a" opacity="0.85"/>
<rect x="585.45" y="261.26" width="1.5" height="1.5" fill="#f3987a" opacity="0.85"/>
<rect x="584.50" y="272.87" width="1.5" height="1.5" fill="#f3987a" opacity="0.85"/>
<rect x="587.35" y="261.26" width="1.5" height="1.5" fill="#f3987a" opacity="0.85"/>
<rect x="589.25" y="261.26" width="1.5" height="1.5" fill="#f3987a" opacity="0.85"/>
<rect x="587.35" y="255.46" width="1.5" height="1.5" fill="#f3987a" opacity="0.85"/>
<rect x="586.40" y="272.87" width="1.5" height="1.5" fill="#f3987a" opacity="0.85"/>
<rect x="588.30" y="272.87" width="1.5" height="1.5" fill="#f3987a" opacity="0.85"/>
<rect x="590.20" y="272.87" width="1.5" height="1.5" fill="#f3987a" opacity="0.85"/>
<rect x="587.35" y="249.65" width="1.5" height="1.5" fill="#f3987a" opacity="0.85"/>
<rect x="602.45" y="255.46" width="1.5" height="1.5" fill="#f3987a" opacity="0.85"/>
<rect x="598.65" y="267.07" width="1.5" height="1.5" fill="#f3987a" opacity="0.85"/>
<rect x="600.55" y="267.07" width="1.5" height="1.5" fill="#f3987a" opacity="0.85"/>
<rect x="602.45" y="267.07" width="1.5" height="1.5" fill="#f3987a" opacity="0.85"/>
<rect x="604.35" y="267.07" width="1.5" height="1.5" fill="#f3987a" opacity="0.85"/>
<rect x="606.25" y="267.07" width="1.5" height="1.5" fill="#f3987a" opacity="0.85"/>
<rect x="601.50" y="272.87" width="1.5" height="1.5" fill="#f3987a" opacity="0.85"/>
<rect x="602.45" y="278.68" width="1.5" height="1.5" fill="#f3987a" opacity="0.85"/>
<rect x="603.40" y="272.87" width="1.5" height="1.5" fill="#f3987a" opacity="0.85"/>
<rect x="602.45" y="249.65" width="1.5" height="1.5" fill="#f3987a" opacity="0.85"/>
<rect x="616.60" y="261.26" width="1.5" height="1.5" fill="#f3987a" opacity="0.85"/>
<rect x="613.75" y="267.07" width="1.5" height="1.5" fill="#f3987a" opacity="0.85"/>
<rect x="615.65" y="267.07" width="1.5" height="1.5" fill="#f3987a" opacity="0.85"/>
<rect x="617.55" y="267.07" width="1.5" height="1.5" fill="#f3987a" opacity="0.85"/>
<rect x="618.50" y="261.26" width="1.5" height="1.5" fill="#f3987a" opacity="0.85"/>
<rect x="615.65" y="272.87" width="1.5" height="1.5" fill="#f3987a" opacity="0.85"/>
<rect x="619.45" y="267.07" width="1.5" height="1.5" fill="#f3987a" opacity="0.85"/>
<rect x="621.35" y="267.07" width="1.5" height="1.5" fill="#f3987a" opacity="0.85"/>
<rect x="617.55" y="272.87" width="1.5" height="1.5" fill="#f3987a" opacity="0.85"/>
<rect x="619.45" y="272.87" width="1.5" height="1.5" fill="#f3987a" opacity="0.85"/>
<rect x="630.75" y="272.87" width="1.5" height="1.5" fill="#f3987a" opacity="0.85"/>
<rect x="632.65" y="272.87" width="1.5" height="1.5" fill="#f3987a" opacity="0.85"/>
<rect x="631.70" y="255.46" width="1.5" height="1.5" fill="#f3987a" opacity="0.85"/>
<rect x="632.65" y="284.48" width="1.5" height="1.5" fill="#f3987a" opacity="0.85"/>
<rect x="631.70" y="267.07" width="1.5" height="1.5" fill="#f3987a" opacity="0.85"/>
<rect x="633.60" y="267.07" width="1.5" height="1.5" fill="#f3987a" opacity="0.85"/>
<rect x="634.55" y="272.87" width="1.5" height="1.5" fill="#f3987a" opacity="0.85"/>
<rect x="631.70" y="261.26" width="1.5" height="1.5" fill="#f3987a" opacity="0.85"/>
<rect x="633.60" y="255.46" width="1.5" height="1.5" fill="#f3987a" opacity="0.85"/>
<rect x="633.60" y="261.26" width="1.5" height="1.5" fill="#f3987a" opacity="0.85"/>
<rect x="644.90" y="267.07" width="1.5" height="1.5" fill="#f3987a" opacity="0.85"/>
<rect x="646.80" y="267.07" width="1.5" height="1.5" fill="#f3987a" opacity="0.85"/>
<rect x="648.70" y="267.07" width="1.5" height="1.5" fill="#f3987a" opacity="0.85"/>
<rect x="646.80" y="255.46" width="1.5" height="1.5" fill="#f3987a" opacity="0.85"/>
<rect x="650.60" y="267.07" width="1.5" height="1.5" fill="#f3987a" opacity="0.85"/>
<rect x="646.80" y="272.87" width="1.5" height="1.5" fill="#f3987a" opacity="0.85"/>
<rect x="646.80" y="278.68" width="1.5" height="1.5" fill="#f3987a" opacity="0.85"/>
<rect x="648.70" y="272.87" width="1.5" height="1.5" fill="#f3987a" opacity="0.85"/>
<rect x="648.70" y="278.68" width="1.5" height="1.5" fill="#f3987a" opacity="0.85"/>
<rect x="648.70" y="255.46" width="1.5" height="1.5" fill="#f3987a" opacity="0.85"/>
<rect x="662.85" y="255.46" width="1.5" height="1.5" fill="#f3987a" opacity="0.85"/>
<rect x="662.85" y="261.26" width="1.5" height="1.5" fill="#f3987a" opacity="0.85"/>
<rect x="662.85" y="243.85" width="1.5" height="1.5" fill="#f3987a" opacity="0.85"/>
<rect x="661.90" y="267.07" width="1.5" height="1.5" fill="#f3987a" opacity="0.85"/>
<rect x="660.95" y="249.65" width="1.5" height="1.5" fill="#f3987a" opacity="0.85"/>
<rect x="662.85" y="249.65" width="1.5" height="1.5" fill="#f3987a" opacity="0.85"/>
<rect x="661.90" y="272.87" width="1.5" height="1.5" fill="#f3987a" opacity="0.85"/>
<rect x="663.80" y="272.87" width="1.5" height="1.5" fill="#f3987a" opacity="0.85"/>
<rect x="663.80" y="267.07" width="1.5" height="1.5" fill="#f3987a" opacity="0.85"/>
<rect x="664.75" y="249.65" width="1.5" height="1.5" fill="#f3987a" opacity="0.85"/>
<rect x="677.95" y="243.85" width="1.5" height="1.5" fill="#f3987a" opacity="0.85"/>
<rect x="677.00" y="267.07" width="1.5" height="1.5" fill="#f3987a" opacity="0.85"/>
<rect x="677.95" y="249.65" width="1.5" height="1.5" fill="#f3987a" opacity="0.85"/>
<rect x="675.10" y="261.26" width="1.5" height="1.5" fill="#f3987a" opacity="0.85"/>
<rect x="677.00" y="261.26" width="1.5" height="1.5" fill="#f3987a" opacity="0.85"/>
<rect x="678.90" y="261.26" width="1.5" height="1.5" fill="#f3987a" opacity="0.85"/>
<rect x="680.80" y="261.26" width="1.5" height="1.5" fill="#f3987a" opacity="0.85"/>
<rect x="677.00" y="272.87" width="1.5" height="1.5" fill="#f3987a" opacity="0.85"/>
<rect x="678.90" y="267.07" width="1.5" height="1.5" fill="#f3987a" opacity="0.85"/>
<rect x="678.90" y="272.87" width="1.5" height="1.5" fill="#f3987a" opacity="0.85"/>
<line x1="497.50" y1="244.10" x2="497.50" y2="367.10" stroke="#111" stroke-width="1.3" />
<line x1="496.90" y1="366.50" x2="679.60" y2="366.50" stroke="#111" stroke-width="1.3" />
<line x1="495.00" y1="366.50" x2="497.50" y2="366.50" stroke="#111" stroke-width="1" />
<text x="493.90" y="369.00" font-size="6.9" text-anchor="end" fill="#000" >0</text>
<line x1="495.00" y1="349.09" x2="497.50" y2="349.09" stroke="#111" stroke-width="1" />
<text x="493.90" y="351.59" font-size="6.9" text-anchor="end" fill="#000" >3</text>
<line x1="495.00" y1="331.67" x2="497.50" y2="331.67" stroke="#111" stroke-width="1" />
<text x="493.90" y="334.17" font-size="6.9" text-anchor="end" fill="#000" >6</text>
<line x1="495.00" y1="314.26" x2="497.50" y2="314.26" stroke="#111" stroke-width="1" />
<text x="493.90" y="316.76" font-size="6.9" text-anchor="end" fill="#000" >9</text>
<line x1="495.00" y1="296.84" x2="497.50" y2="296.84" stroke="#111" stroke-width="1" />
<text x="493.90" y="299.34" font-size="6.9" text-anchor="end" fill="#000" >12</text>
<line x1="495.00" y1="279.43" x2="497.50" y2="279.43" stroke="#111" stroke-width="1" />
<text x="493.90" y="281.93" font-size="6.9" text-anchor="end" fill="#000" >15</text>
<line x1="495.00" y1="262.01" x2="497.50" y2="262.01" stroke="#111" stroke-width="1" />
<text x="493.90" y="264.51" font-size="6.9" text-anchor="end" fill="#000" >18</text>
<line x1="495.00" y1="244.60" x2="497.50" y2="244.60" stroke="#111" stroke-width="1" />
<text x="493.90" y="247.10" font-size="6.9" text-anchor="end" fill="#000" >21</text>
<line x1="497.50" y1="366.50" x2="497.50" y2="369.00" stroke="#111" stroke-width="1" />
<text x="497.50" y="376.60" font-size="6.9" text-anchor="middle" fill="#000" >0</text>
<line x1="512.60" y1="366.50" x2="512.60" y2="369.00" stroke="#111" stroke-width="1" />
<text x="512.60" y="376.60" font-size="6.9" text-anchor="middle" fill="#000" >1</text>
<line x1="527.70" y1="366.50" x2="527.70" y2="369.00" stroke="#111" stroke-width="1" />
<text x="527.70" y="376.60" font-size="6.9" text-anchor="middle" fill="#000" >2</text>
<line x1="542.80" y1="366.50" x2="542.80" y2="369.00" stroke="#111" stroke-width="1" />
<text x="542.80" y="376.60" font-size="6.9" text-anchor="middle" fill="#000" >3</text>
<line x1="557.90" y1="366.50" x2="557.90" y2="369.00" stroke="#111" stroke-width="1" />
<text x="557.90" y="376.60" font-size="6.9" text-anchor="middle" fill="#000" >4</text>
<line x1="573.00" y1="366.50" x2="573.00" y2="369.00" stroke="#111" stroke-width="1" />
<text x="573.00" y="376.60" font-size="6.9" text-anchor="middle" fill="#000" >5</text>
<line x1="588.10" y1="366.50" x2="588.10" y2="369.00" stroke="#111" stroke-width="1" />
<text x="588.10" y="376.60" font-size="6.9" text-anchor="middle" fill="#000" >6</text>
<line x1="603.20" y1="366.50" x2="603.20" y2="369.00" stroke="#111" stroke-width="1" />
<text x="603.20" y="376.60" font-size="6.9" text-anchor="middle" fill="#000" >7</text>
<line x1="618.30" y1="366.50" x2="618.30" y2="369.00" stroke="#111" stroke-width="1" />
<text x="618.30" y="376.60" font-size="6.9" text-anchor="middle" fill="#000" >8</text>
<line x1="633.40" y1="366.50" x2="633.40" y2="369.00" stroke="#111" stroke-width="1" />
<text x="633.40" y="376.60" font-size="6.9" text-anchor="middle" fill="#000" >9</text>
<line x1="648.50" y1="366.50" x2="648.50" y2="369.00" stroke="#111" stroke-width="1" />
<text x="648.50" y="376.60" font-size="6.9" text-anchor="middle" fill="#000" >10</text>
<line x1="663.60" y1="366.50" x2="663.60" y2="369.00" stroke="#111" stroke-width="1" />
<text x="663.60" y="376.60" font-size="6.9" text-anchor="middle" fill="#000" >11</text>
<line x1="678.70" y1="366.50" x2="678.70" y2="369.00" stroke="#111" stroke-width="1" />
<text x="678.70" y="376.60" font-size="6.9" text-anchor="middle" fill="#000" >12</text>
<text transform="translate(478.80,328.28) rotate(-90)" font-size="9.75" fill="#000">BBB Score</text>
<text x="556.55" y="393.90" font-size="9.23" fill="#000" >Weeks Post-SCI</text>
<polyline points="497.50,245.18 503.84,357.79 512.60,327.61 527.70,302.07 542.80,289.30 557.90,281.46 573.00,275.95 588.10,266.95 603.20,267.53 618.30,268.40 633.40,264.63 648.50,264.63 663.60,260.27 678.70,258.53" fill="none" stroke="#ec4232" stroke-width="0.95"/>
<line x1="497.50" y1="244.02" x2="497.50" y2="246.34" stroke="#ec4232" stroke-width="1" />
<line x1="495.50" y1="244.02" x2="499.50" y2="244.02" stroke="#ec4232" stroke-width="1.1" />
<line x1="495.50" y1="246.34" x2="499.50" y2="246.34" stroke="#ec4232" stroke-width="1.1" />
<circle cx="497.50" cy="245.18" r="1.9" fill="#ec4232"/>
<line x1="503.84" y1="355.47" x2="503.84" y2="360.11" stroke="#ec4232" stroke-width="1" />
<line x1="501.84" y1="355.47" x2="505.84" y2="355.47" stroke="#ec4232" stroke-width="1.1" />
<line x1="501.84" y1="360.11" x2="505.84" y2="360.11" stroke="#ec4232" stroke-width="1.1" />
<circle cx="503.84" cy="357.79" r="1.9" fill="#ec4232"/>
<line x1="512.60" y1="322.96" x2="512.60" y2="332.25" stroke="#ec4232" stroke-width="1" />
<line x1="510.60" y1="322.96" x2="514.60" y2="322.96" stroke="#ec4232" stroke-width="1.1" />
<line x1="510.60" y1="332.25" x2="514.60" y2="332.25" stroke="#ec4232" stroke-width="1.1" />
<circle cx="512.60" cy="327.61" r="1.9" fill="#ec4232"/>
<line x1="527.70" y1="299.16" x2="527.70" y2="304.97" stroke="#ec4232" stroke-width="1" />
<line x1="525.70" y1="299.16" x2="529.70" y2="299.16" stroke="#ec4232" stroke-width="1.1" />
<line x1="525.70" y1="304.97" x2="529.70" y2="304.97" stroke="#ec4232" stroke-width="1.1" />
<circle cx="527.70" cy="302.07" r="1.9" fill="#ec4232"/>
<line x1="542.80" y1="286.39" x2="542.80" y2="292.20" stroke="#ec4232" stroke-width="1" />
<line x1="540.80" y1="286.39" x2="544.80" y2="286.39" stroke="#ec4232" stroke-width="1.1" />
<line x1="540.80" y1="292.20" x2="544.80" y2="292.20" stroke="#ec4232" stroke-width="1.1" />
<circle cx="542.80" cy="289.30" r="1.9" fill="#ec4232"/>
<line x1="557.90" y1="279.14" x2="557.90" y2="283.78" stroke="#ec4232" stroke-width="1" />
<line x1="555.90" y1="279.14" x2="559.90" y2="279.14" stroke="#ec4232" stroke-width="1.1" />
<line x1="555.90" y1="283.78" x2="559.90" y2="283.78" stroke="#ec4232" stroke-width="1.1" />
<circle cx="557.90" cy="281.46" r="1.9" fill="#ec4232"/>
<line x1="573.00" y1="273.62" x2="573.00" y2="278.27" stroke="#ec4232" stroke-width="1" />
<line x1="571.00" y1="273.62" x2="575.00" y2="273.62" stroke="#ec4232" stroke-width="1.1" />
<line x1="571.00" y1="278.27" x2="575.00" y2="278.27" stroke="#ec4232" stroke-width="1.1" />
<circle cx="573.00" cy="275.95" r="1.9" fill="#ec4232"/>
<line x1="588.10" y1="264.63" x2="588.10" y2="269.27" stroke="#ec4232" stroke-width="1" />
<line x1="586.10" y1="264.63" x2="590.10" y2="264.63" stroke="#ec4232" stroke-width="1.1" />
<line x1="586.10" y1="269.27" x2="590.10" y2="269.27" stroke="#ec4232" stroke-width="1.1" />
<circle cx="588.10" cy="266.95" r="1.9" fill="#ec4232"/>
<line x1="603.20" y1="265.21" x2="603.20" y2="269.85" stroke="#ec4232" stroke-width="1" />
<line x1="601.20" y1="265.21" x2="605.20" y2="265.21" stroke="#ec4232" stroke-width="1.1" />
<line x1="601.20" y1="269.85" x2="605.20" y2="269.85" stroke="#ec4232" stroke-width="1.1" />
<circle cx="603.20" cy="267.53" r="1.9" fill="#ec4232"/>
<line x1="618.30" y1="266.66" x2="618.30" y2="270.14" stroke="#ec4232" stroke-width="1" />
<line x1="616.30" y1="266.66" x2="620.30" y2="266.66" stroke="#ec4232" stroke-width="1.1" />
<line x1="616.30" y1="270.14" x2="620.30" y2="270.14" stroke="#ec4232" stroke-width="1.1" />
<circle cx="618.30" cy="268.40" r="1.9" fill="#ec4232"/>
<line x1="633.40" y1="262.30" x2="633.40" y2="266.95" stroke="#ec4232" stroke-width="1" />
<line x1="631.40" y1="262.30" x2="635.40" y2="262.30" stroke="#ec4232" stroke-width="1.1" />
<line x1="631.40" y1="266.95" x2="635.40" y2="266.95" stroke="#ec4232" stroke-width="1.1" />
<circle cx="633.40" cy="264.63" r="1.9" fill="#ec4232"/>
<line x1="648.50" y1="262.30" x2="648.50" y2="266.95" stroke="#ec4232" stroke-width="1" />
<line x1="646.50" y1="262.30" x2="650.50" y2="262.30" stroke="#ec4232" stroke-width="1.1" />
<line x1="646.50" y1="266.95" x2="650.50" y2="266.95" stroke="#ec4232" stroke-width="1.1" />
<circle cx="648.50" cy="264.63" r="1.9" fill="#ec4232"/>
<line x1="663.60" y1="257.95" x2="663.60" y2="262.59" stroke="#ec4232" stroke-width="1" />
<line x1="661.60" y1="257.95" x2="665.60" y2="257.95" stroke="#ec4232" stroke-width="1.1" />
<line x1="661.60" y1="262.59" x2="665.60" y2="262.59" stroke="#ec4232" stroke-width="1.1" />
<circle cx="663.60" cy="260.27" r="1.9" fill="#ec4232"/>
<line x1="678.70" y1="256.21" x2="678.70" y2="260.85" stroke="#ec4232" stroke-width="1" />
<line x1="676.70" y1="256.21" x2="680.70" y2="256.21" stroke="#ec4232" stroke-width="1.1" />
<line x1="676.70" y1="260.85" x2="680.70" y2="260.85" stroke="#ec4232" stroke-width="1.1" />
<circle cx="678.70" cy="258.53" r="1.9" fill="#ec4232"/>
<polyline points="497.50,245.18 503.84,356.05 512.60,321.51 527.70,307.87 542.80,296.26 557.90,292.20 573.00,286.97 588.10,281.75 603.20,281.75 618.30,278.56 633.40,279.43 648.50,278.56 663.60,274.78 678.70,274.20" fill="none" stroke="#1c9a52" stroke-width="1.15"/>
<line x1="497.50" y1="244.02" x2="497.50" y2="246.34" stroke="#1c9a52" stroke-width="1" />
<line x1="495.50" y1="244.02" x2="499.50" y2="244.02" stroke="#1c9a52" stroke-width="1.1" />
<line x1="495.50" y1="246.34" x2="499.50" y2="246.34" stroke="#1c9a52" stroke-width="1.1" />
<circle cx="497.50" cy="245.18" r="1.9" fill="#1c9a52"/>
<line x1="503.84" y1="352.57" x2="503.84" y2="359.53" stroke="#1c9a52" stroke-width="1" />
<line x1="501.84" y1="352.57" x2="505.84" y2="352.57" stroke="#1c9a52" stroke-width="1.1" />
<line x1="501.84" y1="359.53" x2="505.84" y2="359.53" stroke="#1c9a52" stroke-width="1.1" />
<circle cx="503.84" cy="356.05" r="1.9" fill="#1c9a52"/>
<line x1="512.60" y1="314.55" x2="512.60" y2="328.48" stroke="#1c9a52" stroke-width="1" />
<line x1="510.60" y1="314.55" x2="514.60" y2="314.55" stroke="#1c9a52" stroke-width="1.1" />
<line x1="510.60" y1="328.48" x2="514.60" y2="328.48" stroke="#1c9a52" stroke-width="1.1" />
<circle cx="512.60" cy="321.51" r="1.9" fill="#1c9a52"/>
<line x1="527.70" y1="303.23" x2="527.70" y2="312.52" stroke="#1c9a52" stroke-width="1" />
<line x1="525.70" y1="303.23" x2="529.70" y2="303.23" stroke="#1c9a52" stroke-width="1.1" />
<line x1="525.70" y1="312.52" x2="529.70" y2="312.52" stroke="#1c9a52" stroke-width="1.1" />
<circle cx="527.70" cy="307.87" r="1.9" fill="#1c9a52"/>
<line x1="542.80" y1="291.04" x2="542.80" y2="301.49" stroke="#1c9a52" stroke-width="1" />
<line x1="540.80" y1="291.04" x2="544.80" y2="291.04" stroke="#1c9a52" stroke-width="1.1" />
<line x1="540.80" y1="301.49" x2="544.80" y2="301.49" stroke="#1c9a52" stroke-width="1.1" />
<circle cx="542.80" cy="296.26" r="1.9" fill="#1c9a52"/>
<line x1="557.90" y1="286.97" x2="557.90" y2="297.42" stroke="#1c9a52" stroke-width="1" />
<line x1="555.90" y1="286.97" x2="559.90" y2="286.97" stroke="#1c9a52" stroke-width="1.1" />
<line x1="555.90" y1="297.42" x2="559.90" y2="297.42" stroke="#1c9a52" stroke-width="1.1" />
<circle cx="557.90" cy="292.20" r="1.9" fill="#1c9a52"/>
<line x1="573.00" y1="281.75" x2="573.00" y2="292.20" stroke="#1c9a52" stroke-width="1" />
<line x1="571.00" y1="281.75" x2="575.00" y2="281.75" stroke="#1c9a52" stroke-width="1.1" />
<line x1="571.00" y1="292.20" x2="575.00" y2="292.20" stroke="#1c9a52" stroke-width="1.1" />
<circle cx="573.00" cy="286.97" r="1.9" fill="#1c9a52"/>
<line x1="588.10" y1="276.53" x2="588.10" y2="286.97" stroke="#1c9a52" stroke-width="1" />
<line x1="586.10" y1="276.53" x2="590.10" y2="276.53" stroke="#1c9a52" stroke-width="1.1" />
<line x1="586.10" y1="286.97" x2="590.10" y2="286.97" stroke="#1c9a52" stroke-width="1.1" />
<circle cx="588.10" cy="281.75" r="1.9" fill="#1c9a52"/>
<line x1="603.20" y1="276.53" x2="603.20" y2="286.97" stroke="#1c9a52" stroke-width="1" />
<line x1="601.20" y1="276.53" x2="605.20" y2="276.53" stroke="#1c9a52" stroke-width="1.1" />
<line x1="601.20" y1="286.97" x2="605.20" y2="286.97" stroke="#1c9a52" stroke-width="1.1" />
<circle cx="603.20" cy="281.75" r="1.9" fill="#1c9a52"/>
<line x1="618.30" y1="272.75" x2="618.30" y2="284.36" stroke="#1c9a52" stroke-width="1" />
<line x1="616.30" y1="272.75" x2="620.30" y2="272.75" stroke="#1c9a52" stroke-width="1.1" />
<line x1="616.30" y1="284.36" x2="620.30" y2="284.36" stroke="#1c9a52" stroke-width="1.1" />
<circle cx="618.30" cy="278.56" r="1.9" fill="#1c9a52"/>
<line x1="633.40" y1="273.62" x2="633.40" y2="285.23" stroke="#1c9a52" stroke-width="1" />
<line x1="631.40" y1="273.62" x2="635.40" y2="273.62" stroke="#1c9a52" stroke-width="1.1" />
<line x1="631.40" y1="285.23" x2="635.40" y2="285.23" stroke="#1c9a52" stroke-width="1.1" />
<circle cx="633.40" cy="279.43" r="1.9" fill="#1c9a52"/>
<line x1="648.50" y1="272.75" x2="648.50" y2="284.36" stroke="#1c9a52" stroke-width="1" />
<line x1="646.50" y1="272.75" x2="650.50" y2="272.75" stroke="#1c9a52" stroke-width="1.1" />
<line x1="646.50" y1="284.36" x2="650.50" y2="284.36" stroke="#1c9a52" stroke-width="1.1" />
<circle cx="648.50" cy="278.56" r="1.9" fill="#1c9a52"/>
<line x1="663.60" y1="268.98" x2="663.60" y2="280.59" stroke="#1c9a52" stroke-width="1" />
<line x1="661.60" y1="268.98" x2="665.60" y2="268.98" stroke="#1c9a52" stroke-width="1.1" />
<line x1="661.60" y1="280.59" x2="665.60" y2="280.59" stroke="#1c9a52" stroke-width="1.1" />
<circle cx="663.60" cy="274.78" r="1.9" fill="#1c9a52"/>
<line x1="678.70" y1="268.40" x2="678.70" y2="280.01" stroke="#1c9a52" stroke-width="1" />
<line x1="676.70" y1="268.40" x2="680.70" y2="268.40" stroke="#1c9a52" stroke-width="1.1" />
<line x1="676.70" y1="280.01" x2="680.70" y2="280.01" stroke="#1c9a52" stroke-width="1.1" />
<circle cx="678.70" cy="274.20" r="1.9" fill="#1c9a52"/>
<path d="M556.25,237.80L560.35,237.80M557.27,236.02L559.32,239.58M559.32,236.02L557.27,239.58" stroke="#333" stroke-width="0.95" fill="none"/>
<path d="M571.35,237.80L575.45,237.80M572.38,236.02L574.42,239.58M574.42,236.02L572.38,239.58" stroke="#333" stroke-width="0.95" fill="none"/>
<path d="M586.45,237.80L590.55,237.80M587.48,236.02L589.52,239.58M589.52,236.02L587.48,239.58" stroke="#333" stroke-width="0.95" fill="none"/>
<path d="M601.55,237.80L605.65,237.80M602.58,236.02L604.62,239.58M604.62,236.02L602.58,239.58" stroke="#333" stroke-width="0.95" fill="none"/>
<path d="M631.75,237.80L635.85,237.80M632.77,236.02L634.82,239.58M634.82,236.02L632.77,239.58" stroke="#333" stroke-width="0.95" fill="none"/>
<path d="M646.85,237.80L650.95,237.80M647.88,236.02L649.92,239.58M649.92,236.02L647.88,239.58" stroke="#333" stroke-width="0.95" fill="none"/>
<path d="M661.95,237.80L666.05,237.80M662.98,236.02L665.02,239.58M665.02,236.02L662.98,239.58" stroke="#333" stroke-width="0.95" fill="none"/>
<path d="M677.05,237.80L681.15,237.80M678.08,236.02L680.12,239.58M680.12,236.02L678.08,239.58" stroke="#333" stroke-width="0.95" fill="none"/>
<line x1="613.20" y1="349.30" x2="621.90" y2="349.30" stroke="#1c9a52" stroke-width="1" />
<circle cx="617.55" cy="349.30" r="1.9" fill="#1c9a52"/>
<text x="626.57" y="351.90" font-size="6.93" fill="#000" >AAV9-Syn-EGFP</text>
<line x1="613.20" y1="359.50" x2="621.90" y2="359.50" stroke="#ec4232" stroke-width="1" />
<circle cx="617.55" cy="359.50" r="1.9" fill="#ec4232"/>
<text x="626.57" y="362.00" font-size="6.98" fill="#000" >AAV9-Syn-KCC2</text>
<text x="0.21" y="420.70" font-size="14.00" font-weight="bold" fill="#000" >F)</text>
<text x="57.72" y="429.50" font-size="11.89" font-weight="bold" fill="#000" >CATWALK</text>
<text x="116.23" y="424.80" font-size="7.06" font-weight="bold" fill="#000" >TM</text>
<text x="128.93" y="429.50" font-size="11.73" font-weight="bold" fill="#000" >Gait Analysis</text>
<g transform="translate(0,437.0) scale(1,1.13) translate(0,-437.0)"><text x="21.74" y="437.00" font-size="7.20" fill="#222" >Sham:</text></g>
<g transform="translate(0,484.0) scale(1,1.13) translate(0,-484.0)"><text x="20.46" y="484.00" font-size="7.17" fill="#222" >AAV9-Syn-EGFP:</text></g>
<g transform="translate(0,533.1) scale(1,1.13) translate(0,-533.1)"><text x="20.46" y="533.10" font-size="7.22" fill="#222" >AAV9-Syn-KCC2:</text></g>
<rect x="20.20" y="439.60" width="212.10" height="35.00" fill="#000" />
<rect x="20.20" y="487.30" width="212.10" height="34.80" fill="#000" />
<rect x="20.20" y="534.90" width="212.10" height="35.80" fill="#000" />
<clipPath id="cwk"><rect x="20.2" y="439.6" width="212.1" height="35"/><rect x="20.2" y="487.3" width="212.1" height="34.8"/><rect x="20.2" y="534.9" width="212.1" height="35.8"/></clipPath><g clip-path="url(#cwk)">
<ellipse cx="27.3" cy="449.5" rx="1.76" ry="1.68" fill="#a65aac"/>
<circle cx="26.5" cy="448.6" r="0.77" fill="#a65aac"/>
<circle cx="27.1" cy="450.7" r="0.85" fill="#a65aac"/>
<circle cx="27.2" cy="448.3" r="1.04" fill="#a65aac"/>
<ellipse cx="26.2" cy="449.8" rx="1.20" ry="1.28" fill="#a65aac"/>
<circle cx="26.7" cy="449.0" r="0.72" fill="#a65aac"/>
<circle cx="26.1" cy="448.9" r="0.72" fill="#a65aac"/>
<circle cx="29.2" cy="446.7" r="0.50" fill="#a65aac"/>
<circle cx="30.8" cy="448.1" r="0.58" fill="#a65aac"/>
<circle cx="31.0" cy="450.3" r="0.63" fill="#a65aac"/>
<circle cx="30.0" cy="452.1" r="0.61" fill="#a65aac"/>
<ellipse cx="28.5" cy="452.3" rx="1.76" ry="1.56" fill="#58c5da"/>
<circle cx="27.8" cy="453.2" r="0.76" fill="#58c5da"/>
<circle cx="29.7" cy="452.0" r="0.83" fill="#58c5da"/>
<circle cx="29.5" cy="452.9" r="0.74" fill="#58c5da"/>
<circle cx="30.2" cy="449.7" r="0.63" fill="#58c5da"/>
<circle cx="31.4" cy="451.3" r="0.65" fill="#58c5da"/>
<circle cx="31.4" cy="453.3" r="0.63" fill="#58c5da"/>
<circle cx="30.0" cy="455.2" r="0.59" fill="#58c5da"/>
<ellipse cx="57.7" cy="450.2" rx="2.20" ry="2.10" fill="#a65aac"/>
<circle cx="57.3" cy="448.8" r="0.97" fill="#a65aac"/>
<circle cx="57.9" cy="451.7" r="1.10" fill="#a65aac"/>
<circle cx="59.1" cy="450.9" r="1.07" fill="#a65aac"/>
<ellipse cx="54.7" cy="450.6" rx="3.00" ry="1.60" fill="#a65aac"/>
<circle cx="53.3" cy="450.0" r="0.90" fill="#a65aac"/>
<circle cx="55.2" cy="450.1" r="0.90" fill="#a65aac"/>
<circle cx="60.2" cy="447.0" r="0.67" fill="#a65aac"/>
<circle cx="62.4" cy="449.2" r="0.74" fill="#a65aac"/>
<circle cx="62.5" cy="451.2" r="0.65" fill="#a65aac"/>
<circle cx="60.8" cy="453.8" r="0.75" fill="#a65aac"/>
<ellipse cx="63.0" cy="451.0" rx="2.20" ry="1.95" fill="#58c5da"/>
<circle cx="61.6" cy="450.5" r="1.21" fill="#58c5da"/>
<circle cx="63.8" cy="449.9" r="1.26" fill="#58c5da"/>
<circle cx="63.2" cy="452.4" r="0.89" fill="#58c5da"/>
<circle cx="64.5" cy="447.7" r="0.66" fill="#58c5da"/>
<circle cx="67.0" cy="449.9" r="0.68" fill="#58c5da"/>
<circle cx="66.4" cy="452.4" r="0.80" fill="#58c5da"/>
<circle cx="64.8" cy="454.1" r="0.67" fill="#58c5da"/>
<ellipse cx="109.2" cy="450.2" rx="2.20" ry="2.10" fill="#a65aac"/>
<circle cx="107.8" cy="449.6" r="1.08" fill="#a65aac"/>
<circle cx="107.9" cy="449.5" r="1.42" fill="#a65aac"/>
<circle cx="108.0" cy="451.1" r="1.06" fill="#a65aac"/>
<ellipse cx="106.2" cy="450.6" rx="3.00" ry="1.60" fill="#a65aac"/>
<circle cx="108.0" cy="450.4" r="0.90" fill="#a65aac"/>
<circle cx="104.7" cy="449.5" r="0.90" fill="#a65aac"/>
<circle cx="111.5" cy="446.6" r="0.78" fill="#a65aac"/>
<circle cx="113.3" cy="448.8" r="0.70" fill="#a65aac"/>
<circle cx="113.5" cy="452.0" r="0.81" fill="#a65aac"/>
<circle cx="111.5" cy="453.3" r="0.76" fill="#a65aac"/>
<ellipse cx="119.6" cy="454.0" rx="2.20" ry="1.95" fill="#58c5da"/>
<circle cx="119.0" cy="452.8" r="1.14" fill="#58c5da"/>
<circle cx="119.4" cy="455.4" r="1.19" fill="#58c5da"/>
<circle cx="120.8" cy="454.9" r="1.09" fill="#58c5da"/>
<circle cx="121.5" cy="450.3" r="0.80" fill="#58c5da"/>
<circle cx="123.0" cy="452.3" r="0.66" fill="#58c5da"/>
<circle cx="123.3" cy="455.8" r="0.68" fill="#58c5da"/>
<circle cx="121.4" cy="457.4" r="0.65" fill="#58c5da"/>
<ellipse cx="169.7" cy="452.0" rx="2.20" ry="2.10" fill="#a65aac"/>
<circle cx="169.8" cy="450.5" r="1.23" fill="#a65aac"/>
<circle cx="170.0" cy="450.6" r="1.22" fill="#a65aac"/>
<circle cx="171.2" cy="452.0" r="1.12" fill="#a65aac"/>
<ellipse cx="166.7" cy="452.4" rx="3.00" ry="1.60" fill="#a65aac"/>
<circle cx="165.0" cy="453.1" r="0.90" fill="#a65aac"/>
<circle cx="168.1" cy="452.9" r="0.90" fill="#a65aac"/>
<circle cx="172.1" cy="448.9" r="0.80" fill="#a65aac"/>
<circle cx="174.0" cy="451.1" r="0.72" fill="#a65aac"/>
<circle cx="174.5" cy="452.9" r="0.77" fill="#a65aac"/>
<circle cx="172.8" cy="455.1" r="0.73" fill="#a65aac"/>
<ellipse cx="181.2" cy="453.3" rx="2.20" ry="1.95" fill="#58c5da"/>
<circle cx="181.1" cy="454.7" r="1.30" fill="#58c5da"/>
<circle cx="179.8" cy="453.9" r="0.98" fill="#58c5da"/>
<circle cx="179.7" cy="453.0" r="1.23" fill="#58c5da"/>
<circle cx="182.6" cy="449.9" r="0.82" fill="#58c5da"/>
<circle cx="184.7" cy="452.0" r="0.72" fill="#58c5da"/>
<circle cx="184.7" cy="454.2" r="0.69" fill="#58c5da"/>
<circle cx="182.9" cy="456.4" r="0.66" fill="#58c5da"/>
<ellipse cx="220.2" cy="451.3" rx="1.98" ry="1.89" fill="#a65aac"/>
<circle cx="221.5" cy="451.9" r="1.15" fill="#a65aac"/>
<circle cx="220.4" cy="452.6" r="1.28" fill="#a65aac"/>
<circle cx="221.1" cy="450.3" r="0.88" fill="#a65aac"/>
<ellipse cx="218.0" cy="451.7" rx="2.25" ry="1.44" fill="#a65aac"/>
<circle cx="217.3" cy="451.8" r="0.81" fill="#a65aac"/>
<circle cx="217.3" cy="450.8" r="0.81" fill="#a65aac"/>
<circle cx="223.0" cy="448.5" r="0.64" fill="#a65aac"/>
<circle cx="224.5" cy="450.2" r="0.59" fill="#a65aac"/>
<circle cx="224.3" cy="452.1" r="0.63" fill="#a65aac"/>
<circle cx="222.9" cy="454.4" r="0.68" fill="#a65aac"/>
<ellipse cx="225.4" cy="452.8" rx="1.98" ry="1.75" fill="#58c5da"/>
<circle cx="226.8" cy="452.7" r="0.83" fill="#58c5da"/>
<circle cx="224.3" cy="453.5" r="0.94" fill="#58c5da"/>
<circle cx="226.3" cy="451.9" r="0.90" fill="#58c5da"/>
<circle cx="226.7" cy="449.7" r="0.63" fill="#58c5da"/>
<circle cx="228.3" cy="451.4" r="0.72" fill="#58c5da"/>
<circle cx="228.9" cy="454.0" r="0.66" fill="#58c5da"/>
<circle cx="227.7" cy="455.8" r="0.71" fill="#58c5da"/>
<ellipse cx="37.2" cy="463.0" rx="2.20" ry="2.10" fill="#5cba48"/>
<circle cx="38.7" cy="462.7" r="1.43" fill="#5cba48"/>
<circle cx="38.1" cy="461.8" r="1.03" fill="#5cba48"/>
<circle cx="35.7" cy="463.1" r="1.06" fill="#5cba48"/>
<ellipse cx="34.8" cy="463.4" rx="2.50" ry="1.60" fill="#5cba48"/>
<circle cx="34.5" cy="462.3" r="0.90" fill="#5cba48"/>
<circle cx="34.4" cy="464.2" r="0.90" fill="#5cba48"/>
<circle cx="39.8" cy="459.3" r="0.71" fill="#5cba48"/>
<circle cx="41.9" cy="461.4" r="0.82" fill="#5cba48"/>
<circle cx="41.8" cy="464.4" r="0.65" fill="#5cba48"/>
<circle cx="40.4" cy="466.5" r="0.74" fill="#5cba48"/>
<ellipse cx="43.3" cy="463.5" rx="2.20" ry="1.95" fill="#eee536"/>
<circle cx="41.8" cy="463.1" r="1.24" fill="#eee536"/>
<circle cx="44.7" cy="464.0" r="1.16" fill="#eee536"/>
<circle cx="41.8" cy="463.5" r="1.29" fill="#eee536"/>
<circle cx="44.9" cy="459.6" r="0.64" fill="#eee536"/>
<circle cx="46.8" cy="461.7" r="0.76" fill="#eee536"/>
<circle cx="46.7" cy="464.4" r="0.80" fill="#eee536"/>
<circle cx="45.5" cy="466.7" r="0.74" fill="#eee536"/>
<ellipse cx="86.2" cy="462.4" rx="1.98" ry="1.89" fill="#5cba48"/>
<circle cx="85.0" cy="463.0" r="1.13" fill="#5cba48"/>
<circle cx="84.9" cy="462.2" r="1.29" fill="#5cba48"/>
<circle cx="86.6" cy="463.7" r="1.19" fill="#5cba48"/>
<ellipse cx="84.5" cy="462.8" rx="1.80" ry="1.44" fill="#5cba48"/>
<circle cx="84.0" cy="462.4" r="0.81" fill="#5cba48"/>
<circle cx="84.9" cy="462.2" r="0.81" fill="#5cba48"/>
<circle cx="88.6" cy="459.1" r="0.57" fill="#5cba48"/>
<circle cx="90.5" cy="460.9" r="0.74" fill="#5cba48"/>
<circle cx="90.2" cy="463.1" r="0.61" fill="#5cba48"/>
<circle cx="88.5" cy="465.8" r="0.72" fill="#5cba48"/>
<ellipse cx="89.2" cy="459.2" rx="2.20" ry="1.95" fill="#eee536"/>
<circle cx="88.1" cy="460.2" r="0.95" fill="#eee536"/>
<circle cx="90.0" cy="458.0" r="1.22" fill="#eee536"/>
<circle cx="88.0" cy="458.3" r="1.36" fill="#eee536"/>
<circle cx="90.9" cy="456.3" r="0.78" fill="#eee536"/>
<circle cx="92.8" cy="457.5" r="0.81" fill="#eee536"/>
<circle cx="92.6" cy="460.1" r="0.64" fill="#eee536"/>
<circle cx="91.0" cy="462.4" r="0.74" fill="#eee536"/>
<ellipse cx="142.2" cy="462.2" rx="1.98" ry="1.89" fill="#5cba48"/>
<circle cx="141.9" cy="460.9" r="0.95" fill="#5cba48"/>
<circle cx="141.3" cy="461.2" r="0.98" fill="#5cba48"/>
<circle cx="140.8" cy="462.3" r="1.28" fill="#5cba48"/>
<ellipse cx="140.5" cy="462.6" rx="1.80" ry="1.44" fill="#5cba48"/>
<circle cx="141.3" cy="461.6" r="0.81" fill="#5cba48"/>
<circle cx="140.4" cy="462.0" r="0.81" fill="#5cba48"/>
<circle cx="144.3" cy="458.8" r="0.67" fill="#5cba48"/>
<circle cx="146.3" cy="460.6" r="0.66" fill="#5cba48"/>
<circle cx="145.9" cy="463.2" r="0.57" fill="#5cba48"/>
<circle cx="144.5" cy="465.6" r="0.66" fill="#5cba48"/>
<ellipse cx="147.5" cy="460.5" rx="2.20" ry="1.95" fill="#eee536"/>
<circle cx="148.3" cy="459.3" r="1.16" fill="#eee536"/>
<circle cx="148.4" cy="461.6" r="0.94" fill="#eee536"/>
<circle cx="146.9" cy="461.8" r="1.32" fill="#eee536"/>
<circle cx="149.7" cy="457.1" r="0.80" fill="#eee536"/>
<circle cx="150.7" cy="458.9" r="0.64" fill="#eee536"/>
<circle cx="151.2" cy="462.2" r="0.70" fill="#eee536"/>
<circle cx="149.2" cy="463.6" r="0.81" fill="#eee536"/>
<ellipse cx="192.7" cy="462.9" rx="1.98" ry="1.89" fill="#5cba48"/>
<circle cx="193.6" cy="461.9" r="1.31" fill="#5cba48"/>
<circle cx="193.2" cy="461.7" r="1.27" fill="#5cba48"/>
<circle cx="194.1" cy="463.1" r="1.20" fill="#5cba48"/>
<ellipse cx="191.0" cy="463.3" rx="1.80" ry="1.44" fill="#5cba48"/>
<circle cx="190.7" cy="463.9" r="0.81" fill="#5cba48"/>
<circle cx="191.7" cy="463.7" r="0.81" fill="#5cba48"/>
<circle cx="195.3" cy="460.2" r="0.70" fill="#5cba48"/>
<circle cx="196.8" cy="461.2" r="0.71" fill="#5cba48"/>
<circle cx="197.1" cy="463.9" r="0.64" fill="#5cba48"/>
<circle cx="195.5" cy="465.9" r="0.60" fill="#5cba48"/>
<ellipse cx="199.7" cy="460.6" rx="2.20" ry="1.95" fill="#eee536"/>
<circle cx="201.2" cy="460.8" r="0.97" fill="#eee536"/>
<circle cx="199.0" cy="461.8" r="1.30" fill="#eee536"/>
<circle cx="201.2" cy="460.3" r="1.01" fill="#eee536"/>
<circle cx="201.6" cy="457.4" r="0.82" fill="#eee536"/>
<circle cx="203.6" cy="459.1" r="0.64" fill="#eee536"/>
<circle cx="202.8" cy="462.2" r="0.81" fill="#eee536"/>
<circle cx="201.6" cy="463.5" r="0.71" fill="#eee536"/>
<ellipse cx="30.6" cy="499.2" rx="2.64" ry="2.52" fill="#a65aac"/>
<circle cx="30.4" cy="497.5" r="1.33" fill="#a65aac"/>
<circle cx="29.2" cy="498.1" r="1.46" fill="#a65aac"/>
<circle cx="29.3" cy="500.4" r="1.50" fill="#a65aac"/>
<ellipse cx="25.7" cy="499.7" rx="4.80" ry="1.92" fill="#a65aac"/>
<circle cx="24.3" cy="499.9" r="1.08" fill="#a65aac"/>
<circle cx="22.8" cy="500.5" r="1.08" fill="#a65aac"/>
<circle cx="34.0" cy="495.0" r="0.92" fill="#a65aac"/>
<circle cx="35.9" cy="497.7" r="0.76" fill="#a65aac"/>
<circle cx="35.8" cy="500.9" r="0.82" fill="#a65aac"/>
<circle cx="33.7" cy="503.5" r="0.82" fill="#a65aac"/>
<ellipse cx="36.0" cy="498.5" rx="2.20" ry="1.95" fill="#58c5da"/>
<circle cx="35.4" cy="499.8" r="1.08" fill="#58c5da"/>
<circle cx="34.7" cy="499.3" r="1.02" fill="#58c5da"/>
<circle cx="37.1" cy="499.5" r="1.08" fill="#58c5da"/>
<circle cx="38.3" cy="495.3" r="0.80" fill="#58c5da"/>
<circle cx="39.4" cy="497.2" r="0.73" fill="#58c5da"/>
<circle cx="39.6" cy="499.3" r="0.71" fill="#58c5da"/>
<circle cx="37.9" cy="501.9" r="0.71" fill="#58c5da"/>
<ellipse cx="30.0" cy="508.5" rx="2.20" ry="1.95" fill="#eee536"/>
<circle cx="28.6" cy="509.0" r="0.98" fill="#eee536"/>
<circle cx="28.5" cy="508.7" r="1.32" fill="#eee536"/>
<circle cx="30.4" cy="507.2" r="0.96" fill="#eee536"/>
<circle cx="31.4" cy="504.9" r="0.75" fill="#eee536"/>
<circle cx="33.7" cy="506.8" r="0.77" fill="#eee536"/>
<circle cx="33.3" cy="509.9" r="0.66" fill="#eee536"/>
<circle cx="32.2" cy="511.3" r="0.72" fill="#eee536"/>
<ellipse cx="59.3" cy="500.1" rx="2.20" ry="1.95" fill="#58c5da"/>
<circle cx="60.2" cy="499.0" r="0.91" fill="#58c5da"/>
<circle cx="58.0" cy="500.8" r="1.18" fill="#58c5da"/>
<circle cx="59.8" cy="501.4" r="1.22" fill="#58c5da"/>
<circle cx="61.0" cy="496.9" r="0.75" fill="#58c5da"/>
<circle cx="62.8" cy="498.1" r="0.77" fill="#58c5da"/>
<circle cx="62.9" cy="501.0" r="0.66" fill="#58c5da"/>
<circle cx="60.8" cy="503.6" r="0.63" fill="#58c5da"/>
<ellipse cx="77.1" cy="500.5" rx="2.64" ry="2.52" fill="#a65aac"/>
<circle cx="77.1" cy="502.3" r="1.67" fill="#a65aac"/>
<circle cx="75.4" cy="501.0" r="1.64" fill="#a65aac"/>
<circle cx="76.2" cy="499.0" r="1.76" fill="#a65aac"/>
<ellipse cx="72.2" cy="501.0" rx="4.80" ry="1.92" fill="#a65aac"/>
<circle cx="72.8" cy="501.8" r="1.08" fill="#a65aac"/>
<circle cx="74.5" cy="501.0" r="1.08" fill="#a65aac"/>
<circle cx="80.6" cy="496.6" r="0.94" fill="#a65aac"/>
<circle cx="82.8" cy="498.7" r="0.92" fill="#a65aac"/>
<circle cx="82.3" cy="502.0" r="0.80" fill="#a65aac"/>
<circle cx="80.5" cy="504.8" r="0.87" fill="#a65aac"/>
<ellipse cx="48.6" cy="509.3" rx="2.20" ry="1.95" fill="#eee536"/>
<circle cx="47.5" cy="508.3" r="1.01" fill="#eee536"/>
<circle cx="50.0" cy="509.9" r="1.02" fill="#eee536"/>
<circle cx="48.4" cy="510.7" r="1.03" fill="#eee536"/>
<circle cx="50.3" cy="506.2" r="0.67" fill="#eee536"/>
<circle cx="52.4" cy="508.0" r="0.63" fill="#eee536"/>
<circle cx="52.2" cy="510.5" r="0.70" fill="#eee536"/>
<circle cx="50.7" cy="512.4" r="0.80" fill="#eee536"/>
<ellipse cx="45.6" cy="512.5" rx="2.64" ry="2.52" fill="#5cba48"/>
<circle cx="44.0" cy="511.6" r="1.57" fill="#5cba48"/>
<circle cx="46.8" cy="511.1" r="1.62" fill="#5cba48"/>
<circle cx="44.3" cy="513.7" r="1.14" fill="#5cba48"/>
<ellipse cx="41.4" cy="513.0" rx="4.20" ry="1.92" fill="#5cba48"/>
<circle cx="40.6" cy="513.3" r="1.08" fill="#5cba48"/>
<circle cx="43.2" cy="513.8" r="1.08" fill="#5cba48"/>
<circle cx="48.9" cy="508.2" r="0.88" fill="#5cba48"/>
<circle cx="50.7" cy="511.0" r="0.80" fill="#5cba48"/>
<circle cx="50.6" cy="513.8" r="0.82" fill="#5cba48"/>
<circle cx="48.8" cy="516.5" r="0.78" fill="#5cba48"/>
<ellipse cx="72.2" cy="511.4" rx="2.20" ry="1.95" fill="#eee536"/>
<circle cx="70.7" cy="511.7" r="0.94" fill="#eee536"/>
<circle cx="71.1" cy="510.5" r="0.89" fill="#eee536"/>
<circle cx="71.0" cy="512.2" r="1.15" fill="#eee536"/>
<circle cx="73.6" cy="507.7" r="0.65" fill="#eee536"/>
<circle cx="75.4" cy="510.1" r="0.70" fill="#eee536"/>
<circle cx="75.7" cy="512.4" r="0.77" fill="#eee536"/>
<circle cx="74.3" cy="514.8" r="0.79" fill="#eee536"/>
<rect x="64.80" y="511.80" width="2.20" height="1.20" fill="#eee536" />
<ellipse cx="86.6" cy="503.7" rx="2.20" ry="1.95" fill="#58c5da"/>
<circle cx="86.6" cy="505.1" r="0.92" fill="#58c5da"/>
<circle cx="88.1" cy="503.9" r="1.14" fill="#58c5da"/>
<circle cx="88.1" cy="503.7" r="1.05" fill="#58c5da"/>
<circle cx="88.6" cy="500.2" r="0.75" fill="#58c5da"/>
<circle cx="90.6" cy="502.4" r="0.66" fill="#58c5da"/>
<circle cx="90.0" cy="504.5" r="0.65" fill="#58c5da"/>
<circle cx="88.4" cy="507.1" r="0.66" fill="#58c5da"/>
<ellipse cx="98.1" cy="511.7" rx="2.64" ry="2.52" fill="#5cba48"/>
<circle cx="97.6" cy="510.0" r="1.62" fill="#5cba48"/>
<circle cx="99.1" cy="513.2" r="1.52" fill="#5cba48"/>
<circle cx="98.1" cy="509.9" r="1.21" fill="#5cba48"/>
<ellipse cx="93.9" cy="512.2" rx="4.20" ry="1.92" fill="#5cba48"/>
<circle cx="95.5" cy="513.1" r="1.08" fill="#5cba48"/>
<circle cx="91.9" cy="510.8" r="1.08" fill="#5cba48"/>
<circle cx="101.2" cy="507.4" r="0.97" fill="#5cba48"/>
<circle cx="103.6" cy="509.8" r="0.76" fill="#5cba48"/>
<circle cx="103.5" cy="513.5" r="0.77" fill="#5cba48"/>
<circle cx="101.3" cy="516.1" r="0.89" fill="#5cba48"/>
<ellipse cx="109.1" cy="510.1" rx="2.20" ry="1.95" fill="#eee536"/>
<circle cx="110.2" cy="511.0" r="1.36" fill="#eee536"/>
<circle cx="109.4" cy="508.8" r="1.05" fill="#eee536"/>
<circle cx="107.7" cy="510.7" r="1.06" fill="#eee536"/>
<circle cx="110.8" cy="506.9" r="0.79" fill="#eee536"/>
<circle cx="112.4" cy="509.1" r="0.81" fill="#eee536"/>
<circle cx="112.9" cy="511.6" r="0.76" fill="#eee536"/>
<circle cx="111.2" cy="513.5" r="0.81" fill="#eee536"/>
<ellipse cx="119.1" cy="498.8" rx="2.64" ry="2.52" fill="#a65aac"/>
<circle cx="118.9" cy="500.5" r="1.64" fill="#a65aac"/>
<circle cx="117.3" cy="498.4" r="1.44" fill="#a65aac"/>
<circle cx="117.4" cy="499.5" r="1.59" fill="#a65aac"/>
<ellipse cx="114.9" cy="499.3" rx="4.20" ry="1.92" fill="#a65aac"/>
<circle cx="113.7" cy="499.9" r="1.08" fill="#a65aac"/>
<circle cx="116.5" cy="498.0" r="1.08" fill="#a65aac"/>
<circle cx="122.6" cy="495.2" r="0.86" fill="#a65aac"/>
<circle cx="124.4" cy="497.3" r="0.75" fill="#a65aac"/>
<circle cx="124.1" cy="500.6" r="0.79" fill="#a65aac"/>
<circle cx="122.1" cy="502.8" r="0.96" fill="#a65aac"/>
<ellipse cx="125.2" cy="503.3" rx="2.20" ry="1.95" fill="#58c5da"/>
<circle cx="124.7" cy="502.0" r="1.01" fill="#58c5da"/>
<circle cx="126.7" cy="503.4" r="1.34" fill="#58c5da"/>
<circle cx="126.5" cy="504.0" r="1.23" fill="#58c5da"/>
<circle cx="127.1" cy="499.8" r="0.76" fill="#58c5da"/>
<circle cx="128.8" cy="502.0" r="0.78" fill="#58c5da"/>
<circle cx="128.7" cy="504.1" r="0.76" fill="#58c5da"/>
<circle cx="127.3" cy="506.5" r="0.71" fill="#58c5da"/>
<ellipse cx="139.6" cy="511.7" rx="2.86" ry="2.73" fill="#5cba48"/>
<circle cx="137.6" cy="511.3" r="1.52" fill="#5cba48"/>
<circle cx="139.6" cy="509.8" r="1.45" fill="#5cba48"/>
<circle cx="139.0" cy="509.9" r="1.41" fill="#5cba48"/>
<ellipse cx="132.1" cy="512.2" rx="7.15" ry="2.08" fill="#5cba48"/>
<circle cx="130.0" cy="511.0" r="1.17" fill="#5cba48"/>
<circle cx="129.5" cy="511.0" r="1.17" fill="#5cba48"/>
<circle cx="143.3" cy="507.1" r="0.85" fill="#5cba48"/>
<circle cx="145.2" cy="509.5" r="0.99" fill="#5cba48"/>
<circle cx="145.2" cy="514.0" r="0.88" fill="#5cba48"/>
<circle cx="143.5" cy="515.4" r="0.87" fill="#5cba48"/>
<ellipse cx="137.0" cy="510.1" rx="2.86" ry="2.54" fill="#eee536"/>
<circle cx="137.9" cy="511.7" r="1.15" fill="#eee536"/>
<circle cx="135.0" cy="509.7" r="1.31" fill="#eee536"/>
<circle cx="139.0" cy="509.8" r="1.49" fill="#eee536"/>
<circle cx="139.4" cy="506.2" r="1.03" fill="#eee536"/>
<circle cx="141.9" cy="508.1" r="0.96" fill="#eee536"/>
<circle cx="141.6" cy="511.7" r="0.85" fill="#eee536"/>
<circle cx="140.3" cy="514.4" r="0.93" fill="#eee536"/>
<ellipse cx="138.6" cy="500.5" rx="1.76" ry="1.56" fill="#58c5da"/>
<circle cx="139.1" cy="499.5" r="0.86" fill="#58c5da"/>
<circle cx="139.7" cy="501.0" r="0.95" fill="#58c5da"/>
<circle cx="139.8" cy="500.9" r="0.76" fill="#58c5da"/>
<circle cx="140.0" cy="498.0" r="0.66" fill="#58c5da"/>
<circle cx="141.4" cy="499.0" r="0.59" fill="#58c5da"/>
<circle cx="141.2" cy="501.7" r="0.58" fill="#58c5da"/>
<circle cx="140.1" cy="503.1" r="0.63" fill="#58c5da"/>
<ellipse cx="152.3" cy="502.1" rx="2.20" ry="1.95" fill="#58c5da"/>
<circle cx="153.8" cy="502.0" r="1.03" fill="#58c5da"/>
<circle cx="151.2" cy="501.2" r="1.17" fill="#58c5da"/>
<circle cx="152.2" cy="500.7" r="1.34" fill="#58c5da"/>
<circle cx="153.7" cy="498.8" r="0.75" fill="#58c5da"/>
<circle cx="155.4" cy="500.5" r="0.64" fill="#58c5da"/>
<circle cx="156.0" cy="502.9" r="0.74" fill="#58c5da"/>
<circle cx="154.3" cy="505.1" r="0.76" fill="#58c5da"/>
<ellipse cx="169.1" cy="501.3" rx="2.64" ry="2.52" fill="#a65aac"/>
<circle cx="168.6" cy="499.6" r="1.42" fill="#a65aac"/>
<circle cx="168.4" cy="499.7" r="1.72" fill="#a65aac"/>
<circle cx="169.6" cy="499.6" r="1.53" fill="#a65aac"/>
<ellipse cx="164.2" cy="501.8" rx="4.80" ry="1.92" fill="#a65aac"/>
<circle cx="165.1" cy="502.6" r="1.08" fill="#a65aac"/>
<circle cx="163.8" cy="501.6" r="1.08" fill="#a65aac"/>
<circle cx="172.7" cy="497.0" r="0.94" fill="#a65aac"/>
<circle cx="173.9" cy="499.3" r="0.82" fill="#a65aac"/>
<circle cx="174.4" cy="503.2" r="0.81" fill="#a65aac"/>
<circle cx="173.0" cy="505.1" r="0.91" fill="#a65aac"/>
<ellipse cx="169.2" cy="511.4" rx="2.20" ry="1.95" fill="#eee536"/>
<circle cx="170.6" cy="510.9" r="1.12" fill="#eee536"/>
<circle cx="167.7" cy="511.5" r="0.92" fill="#eee536"/>
<circle cx="170.7" cy="511.7" r="1.09" fill="#eee536"/>
<circle cx="170.7" cy="508.1" r="0.64" fill="#eee536"/>
<circle cx="173.1" cy="510.4" r="0.74" fill="#eee536"/>
<circle cx="172.9" cy="513.3" r="0.75" fill="#eee536"/>
<circle cx="171.1" cy="514.3" r="0.77" fill="#eee536"/>
<ellipse cx="184.4" cy="501.3" rx="2.20" ry="1.95" fill="#58c5da"/>
<circle cx="182.9" cy="501.6" r="1.20" fill="#58c5da"/>
<circle cx="185.7" cy="500.6" r="0.97" fill="#58c5da"/>
<circle cx="183.1" cy="500.6" r="1.19" fill="#58c5da"/>
<circle cx="186.0" cy="498.2" r="0.69" fill="#58c5da"/>
<circle cx="188.0" cy="499.7" r="0.79" fill="#58c5da"/>
<circle cx="188.2" cy="502.5" r="0.68" fill="#58c5da"/>
<circle cx="186.0" cy="505.0" r="0.73" fill="#58c5da"/>
<ellipse cx="191.6" cy="511.7" rx="2.64" ry="2.52" fill="#5cba48"/>
<circle cx="189.9" cy="512.2" r="1.33" fill="#5cba48"/>
<circle cx="190.8" cy="513.3" r="1.75" fill="#5cba48"/>
<circle cx="190.1" cy="512.7" r="1.46" fill="#5cba48"/>
<ellipse cx="187.4" cy="512.2" rx="4.20" ry="1.92" fill="#5cba48"/>
<circle cx="189.8" cy="512.3" r="1.08" fill="#5cba48"/>
<circle cx="187.6" cy="511.7" r="1.08" fill="#5cba48"/>
<circle cx="194.4" cy="507.6" r="0.93" fill="#5cba48"/>
<circle cx="197.2" cy="510.1" r="0.79" fill="#5cba48"/>
<circle cx="197.4" cy="513.5" r="0.85" fill="#5cba48"/>
<circle cx="194.6" cy="515.4" r="0.98" fill="#5cba48"/>
<ellipse cx="213.6" cy="500.5" rx="2.64" ry="2.52" fill="#a65aac"/>
<circle cx="212.2" cy="499.4" r="1.28" fill="#a65aac"/>
<circle cx="214.6" cy="502.0" r="1.48" fill="#a65aac"/>
<circle cx="211.9" cy="499.9" r="1.19" fill="#a65aac"/>
<ellipse cx="209.4" cy="501.0" rx="4.20" ry="1.92" fill="#a65aac"/>
<circle cx="211.9" cy="501.7" r="1.08" fill="#a65aac"/>
<circle cx="209.2" cy="499.8" r="1.08" fill="#a65aac"/>
<circle cx="217.2" cy="496.7" r="0.92" fill="#a65aac"/>
<circle cx="218.8" cy="498.9" r="0.94" fill="#a65aac"/>
<circle cx="218.5" cy="502.5" r="0.88" fill="#a65aac"/>
<circle cx="217.3" cy="504.7" r="0.87" fill="#a65aac"/>
<ellipse cx="216.5" cy="502.1" rx="2.20" ry="1.95" fill="#58c5da"/>
<circle cx="217.6" cy="501.2" r="1.30" fill="#58c5da"/>
<circle cx="216.2" cy="503.4" r="1.26" fill="#58c5da"/>
<circle cx="215.2" cy="502.8" r="1.33" fill="#58c5da"/>
<circle cx="218.4" cy="498.5" r="0.68" fill="#58c5da"/>
<circle cx="220.0" cy="500.5" r="0.82" fill="#58c5da"/>
<circle cx="219.8" cy="503.3" r="0.73" fill="#58c5da"/>
<circle cx="218.6" cy="505.3" r="0.73" fill="#58c5da"/>
<ellipse cx="203.7" cy="508.5" rx="2.20" ry="1.95" fill="#eee536"/>
<circle cx="202.2" cy="508.9" r="1.03" fill="#eee536"/>
<circle cx="204.3" cy="509.8" r="1.22" fill="#eee536"/>
<circle cx="202.3" cy="507.9" r="0.99" fill="#eee536"/>
<circle cx="205.5" cy="505.6" r="0.77" fill="#eee536"/>
<circle cx="207.5" cy="507.2" r="0.70" fill="#eee536"/>
<circle cx="207.4" cy="510.1" r="0.82" fill="#eee536"/>
<circle cx="205.4" cy="511.5" r="0.72" fill="#eee536"/>
<ellipse cx="229.7" cy="511.7" rx="2.20" ry="2.10" fill="#5cba48"/>
<circle cx="228.4" cy="510.9" r="1.40" fill="#5cba48"/>
<circle cx="230.8" cy="510.7" r="1.18" fill="#5cba48"/>
<circle cx="228.2" cy="511.5" r="1.18" fill="#5cba48"/>
<ellipse cx="227.8" cy="512.1" rx="2.00" ry="1.60" fill="#5cba48"/>
<circle cx="228.3" cy="511.7" r="0.90" fill="#5cba48"/>
<circle cx="228.2" cy="511.2" r="0.90" fill="#5cba48"/>
<circle cx="232.5" cy="508.0" r="0.69" fill="#5cba48"/>
<circle cx="234.3" cy="510.4" r="0.79" fill="#5cba48"/>
<circle cx="234.3" cy="513.5" r="0.70" fill="#5cba48"/>
<circle cx="232.8" cy="515.0" r="0.77" fill="#5cba48"/>
<ellipse cx="24.0" cy="550.7" rx="2.20" ry="1.95" fill="#58c5da"/>
<circle cx="25.1" cy="549.7" r="0.90" fill="#58c5da"/>
<circle cx="25.4" cy="551.3" r="1.19" fill="#58c5da"/>
<circle cx="25.4" cy="550.0" r="1.36" fill="#58c5da"/>
<circle cx="26.0" cy="547.5" r="0.64" fill="#58c5da"/>
<circle cx="27.9" cy="549.3" r="0.71" fill="#58c5da"/>
<circle cx="27.8" cy="552.3" r="0.63" fill="#58c5da"/>
<circle cx="25.6" cy="554.0" r="0.69" fill="#58c5da"/>
<ellipse cx="40.2" cy="547.5" rx="2.42" ry="2.31" fill="#a65aac"/>
<circle cx="41.2" cy="548.8" r="1.35" fill="#a65aac"/>
<circle cx="38.6" cy="546.8" r="1.50" fill="#a65aac"/>
<circle cx="41.0" cy="548.9" r="1.09" fill="#a65aac"/>
<ellipse cx="36.9" cy="547.9" rx="3.30" ry="1.76" fill="#a65aac"/>
<circle cx="38.3" cy="548.0" r="0.99" fill="#a65aac"/>
<circle cx="35.8" cy="548.6" r="0.99" fill="#a65aac"/>
<circle cx="42.7" cy="543.7" r="0.74" fill="#a65aac"/>
<circle cx="44.5" cy="545.9" r="0.86" fill="#a65aac"/>
<circle cx="45.0" cy="549.4" r="0.72" fill="#a65aac"/>
<circle cx="43.2" cy="551.0" r="0.81" fill="#a65aac"/>
<rect x="26.40" y="558.20" width="9.00" height="1.30" fill="#eee536" />
<ellipse cx="36.9" cy="557.1" rx="2.42" ry="2.15" fill="#eee536"/>
<circle cx="35.8" cy="555.9" r="1.19" fill="#eee536"/>
<circle cx="36.9" cy="558.6" r="1.42" fill="#eee536"/>
<circle cx="37.4" cy="558.5" r="1.17" fill="#eee536"/>
<circle cx="38.7" cy="553.6" r="0.81" fill="#eee536"/>
<circle cx="41.2" cy="555.5" r="0.75" fill="#eee536"/>
<circle cx="40.7" cy="559.1" r="0.74" fill="#eee536"/>
<circle cx="39.0" cy="560.9" r="0.85" fill="#eee536"/>
<ellipse cx="57.7" cy="550.3" rx="2.20" ry="1.95" fill="#58c5da"/>
<circle cx="59.2" cy="550.7" r="1.17" fill="#58c5da"/>
<circle cx="56.2" cy="550.3" r="1.32" fill="#58c5da"/>
<circle cx="57.4" cy="551.6" r="1.27" fill="#58c5da"/>
<circle cx="59.5" cy="547.1" r="0.75" fill="#58c5da"/>
<circle cx="61.4" cy="548.9" r="0.76" fill="#58c5da"/>
<circle cx="61.5" cy="551.9" r="0.75" fill="#58c5da"/>
<circle cx="59.3" cy="553.9" r="0.68" fill="#58c5da"/>
<ellipse cx="73.8" cy="556.8" rx="2.42" ry="2.15" fill="#eee536"/>
<circle cx="72.2" cy="557.3" r="1.28" fill="#eee536"/>
<circle cx="73.6" cy="555.3" r="1.01" fill="#eee536"/>
<circle cx="73.3" cy="558.2" r="1.37" fill="#eee536"/>
<circle cx="75.3" cy="553.2" r="0.80" fill="#eee536"/>
<circle cx="77.9" cy="555.7" r="0.88" fill="#eee536"/>
<circle cx="77.4" cy="558.5" r="0.86" fill="#eee536"/>
<circle cx="76.0" cy="560.6" r="0.85" fill="#eee536"/>
<ellipse cx="79.7" cy="558.7" rx="2.20" ry="2.10" fill="#5cba48"/>
<circle cx="78.9" cy="559.9" r="1.01" fill="#5cba48"/>
<circle cx="81.2" cy="558.4" r="1.02" fill="#5cba48"/>
<circle cx="81.2" cy="558.4" r="1.40" fill="#5cba48"/>
<ellipse cx="77.8" cy="559.1" rx="2.00" ry="1.60" fill="#5cba48"/>
<circle cx="78.3" cy="559.9" r="0.90" fill="#5cba48"/>
<circle cx="78.9" cy="559.5" r="0.90" fill="#5cba48"/>
<circle cx="82.4" cy="555.1" r="0.62" fill="#5cba48"/>
<circle cx="84.1" cy="557.3" r="0.75" fill="#5cba48"/>
<circle cx="84.2" cy="560.2" r="0.78" fill="#5cba48"/>
<circle cx="82.0" cy="561.9" r="0.67" fill="#5cba48"/>
<ellipse cx="93.9" cy="549.1" rx="2.20" ry="1.95" fill="#58c5da"/>
<circle cx="95.4" cy="549.3" r="1.31" fill="#58c5da"/>
<circle cx="92.5" cy="548.6" r="1.32" fill="#58c5da"/>
<circle cx="94.2" cy="550.4" r="0.91" fill="#58c5da"/>
<circle cx="96.2" cy="545.6" r="0.68" fill="#58c5da"/>
<circle cx="97.1" cy="547.7" r="0.81" fill="#58c5da"/>
<circle cx="97.5" cy="550.2" r="0.64" fill="#58c5da"/>
<circle cx="95.3" cy="552.3" r="0.71" fill="#58c5da"/>
<ellipse cx="106.7" cy="545.8" rx="2.42" ry="2.31" fill="#a65aac"/>
<circle cx="105.9" cy="544.4" r="1.47" fill="#a65aac"/>
<circle cx="108.3" cy="545.3" r="1.28" fill="#a65aac"/>
<circle cx="106.6" cy="544.2" r="1.13" fill="#a65aac"/>
<ellipse cx="103.4" cy="546.2" rx="3.30" ry="1.76" fill="#a65aac"/>
<circle cx="103.0" cy="545.1" r="0.99" fill="#a65aac"/>
<circle cx="103.3" cy="545.8" r="0.99" fill="#a65aac"/>
<circle cx="109.8" cy="542.7" r="0.76" fill="#a65aac"/>
<circle cx="111.9" cy="544.0" r="0.87" fill="#a65aac"/>
<circle cx="111.9" cy="546.8" r="0.80" fill="#a65aac"/>
<circle cx="109.2" cy="549.6" r="0.77" fill="#a65aac"/>
<ellipse cx="113.1" cy="553.6" rx="2.20" ry="1.95" fill="#eee536"/>
<circle cx="113.7" cy="554.9" r="0.94" fill="#eee536"/>
<circle cx="114.0" cy="552.5" r="1.10" fill="#eee536"/>
<circle cx="112.3" cy="552.4" r="1.19" fill="#eee536"/>
<circle cx="114.8" cy="550.6" r="0.78" fill="#eee536"/>
<circle cx="116.2" cy="552.1" r="0.73" fill="#eee536"/>
<circle cx="117.0" cy="554.5" r="0.66" fill="#eee536"/>
<circle cx="115.4" cy="557.0" r="0.69" fill="#eee536"/>
<ellipse cx="136.2" cy="549.1" rx="2.20" ry="1.95" fill="#58c5da"/>
<circle cx="137.1" cy="550.2" r="1.32" fill="#58c5da"/>
<circle cx="137.7" cy="549.1" r="1.30" fill="#58c5da"/>
<circle cx="137.1" cy="550.2" r="0.94" fill="#58c5da"/>
<circle cx="137.6" cy="545.9" r="0.75" fill="#58c5da"/>
<circle cx="139.2" cy="547.4" r="0.78" fill="#58c5da"/>
<circle cx="139.7" cy="550.1" r="0.65" fill="#58c5da"/>
<circle cx="138.6" cy="552.3" r="0.73" fill="#58c5da"/>
<ellipse cx="150.2" cy="560.3" rx="2.42" ry="2.31" fill="#5cba48"/>
<circle cx="150.1" cy="558.7" r="1.31" fill="#5cba48"/>
<circle cx="150.5" cy="558.7" r="1.34" fill="#5cba48"/>
<circle cx="151.5" cy="561.3" r="1.33" fill="#5cba48"/>
<ellipse cx="146.3" cy="560.7" rx="3.85" ry="1.76" fill="#5cba48"/>
<circle cx="148.3" cy="559.5" r="0.99" fill="#5cba48"/>
<circle cx="147.6" cy="561.3" r="0.99" fill="#5cba48"/>
<circle cx="153.1" cy="556.7" r="0.89" fill="#5cba48"/>
<circle cx="154.8" cy="558.3" r="0.77" fill="#5cba48"/>
<circle cx="155.0" cy="561.9" r="0.88" fill="#5cba48"/>
<circle cx="153.4" cy="563.4" r="0.82" fill="#5cba48"/>
<ellipse cx="159.5" cy="556.8" rx="2.20" ry="1.95" fill="#eee536"/>
<circle cx="160.9" cy="557.3" r="1.01" fill="#eee536"/>
<circle cx="158.5" cy="555.8" r="1.14" fill="#eee536"/>
<circle cx="158.8" cy="558.0" r="1.36" fill="#eee536"/>
<circle cx="161.3" cy="553.5" r="0.74" fill="#eee536"/>
<circle cx="163.0" cy="554.9" r="0.79" fill="#eee536"/>
<circle cx="163.2" cy="558.3" r="0.76" fill="#eee536"/>
<circle cx="161.6" cy="559.9" r="0.67" fill="#eee536"/>
<ellipse cx="177.2" cy="549.1" rx="2.42" ry="2.31" fill="#a65aac"/>
<circle cx="176.3" cy="550.5" r="1.30" fill="#a65aac"/>
<circle cx="175.7" cy="549.9" r="1.09" fill="#a65aac"/>
<circle cx="175.7" cy="549.8" r="1.42" fill="#a65aac"/>
<ellipse cx="173.3" cy="549.5" rx="3.85" ry="1.76" fill="#a65aac"/>
<circle cx="172.7" cy="548.6" r="0.99" fill="#a65aac"/>
<circle cx="175.2" cy="548.4" r="0.99" fill="#a65aac"/>
<circle cx="180.3" cy="545.9" r="0.70" fill="#a65aac"/>
<circle cx="182.4" cy="547.7" r="0.80" fill="#a65aac"/>
<circle cx="182.1" cy="550.6" r="0.75" fill="#a65aac"/>
<circle cx="180.5" cy="552.4" r="0.83" fill="#a65aac"/>
<ellipse cx="180.4" cy="550.7" rx="2.20" ry="1.95" fill="#58c5da"/>
<circle cx="180.4" cy="549.3" r="1.30" fill="#58c5da"/>
<circle cx="180.1" cy="549.4" r="1.35" fill="#58c5da"/>
<circle cx="179.2" cy="549.9" r="1.05" fill="#58c5da"/>
<circle cx="182.1" cy="547.6" r="0.75" fill="#58c5da"/>
<circle cx="183.5" cy="549.1" r="0.79" fill="#58c5da"/>
<circle cx="184.2" cy="551.9" r="0.73" fill="#58c5da"/>
<circle cx="182.1" cy="554.4" r="0.81" fill="#58c5da"/>
<ellipse cx="194.9" cy="557.1" rx="2.20" ry="1.95" fill="#eee536"/>
<circle cx="195.5" cy="555.9" r="1.18" fill="#eee536"/>
<circle cx="193.9" cy="556.0" r="0.89" fill="#eee536"/>
<circle cx="196.3" cy="556.5" r="1.28" fill="#eee536"/>
<circle cx="196.4" cy="553.9" r="0.76" fill="#eee536"/>
<circle cx="198.2" cy="555.5" r="0.62" fill="#eee536"/>
<circle cx="198.4" cy="558.8" r="0.70" fill="#eee536"/>
<circle cx="197.2" cy="560.3" r="0.63" fill="#eee536"/>
<ellipse cx="210.1" cy="548.7" rx="2.20" ry="1.95" fill="#58c5da"/>
<circle cx="210.1" cy="547.3" r="0.98" fill="#58c5da"/>
<circle cx="208.8" cy="549.4" r="1.04" fill="#58c5da"/>
<circle cx="209.0" cy="549.7" r="1.23" fill="#58c5da"/>
<circle cx="212.2" cy="545.4" r="0.64" fill="#58c5da"/>
<circle cx="213.2" cy="547.0" r="0.74" fill="#58c5da"/>
<circle cx="213.4" cy="550.1" r="0.75" fill="#58c5da"/>
<circle cx="212.0" cy="551.9" r="0.67" fill="#58c5da"/>
<ellipse cx="213.7" cy="560.6" rx="2.42" ry="2.31" fill="#5cba48"/>
<circle cx="213.7" cy="559.0" r="1.11" fill="#5cba48"/>
<circle cx="212.1" cy="561.3" r="1.20" fill="#5cba48"/>
<circle cx="212.9" cy="559.1" r="1.32" fill="#5cba48"/>
<ellipse cx="209.8" cy="561.0" rx="3.85" ry="1.76" fill="#5cba48"/>
<circle cx="210.5" cy="559.8" r="0.99" fill="#5cba48"/>
<circle cx="209.3" cy="561.0" r="0.99" fill="#5cba48"/>
<circle cx="216.0" cy="556.8" r="0.73" fill="#5cba48"/>
<circle cx="218.2" cy="558.8" r="0.75" fill="#5cba48"/>
<circle cx="219.0" cy="561.5" r="0.72" fill="#5cba48"/>
<circle cx="217.0" cy="564.3" r="0.79" fill="#5cba48"/>
<ellipse cx="225.9" cy="557.1" rx="2.20" ry="1.95" fill="#eee536"/>
<circle cx="226.7" cy="555.9" r="1.27" fill="#eee536"/>
<circle cx="227.3" cy="557.7" r="1.30" fill="#eee536"/>
<circle cx="227.4" cy="557.5" r="0.89" fill="#eee536"/>
<circle cx="228.2" cy="553.7" r="0.74" fill="#eee536"/>
<circle cx="229.6" cy="555.7" r="0.70" fill="#eee536"/>
<circle cx="229.2" cy="557.9" r="0.68" fill="#eee536"/>
<circle cx="227.6" cy="560.6" r="0.79" fill="#eee536"/>
</g>
<rect x="18.80" y="578.80" width="16.00" height="8.20" fill="#eee536" />
<text x="36.95" y="586.00" font-size="9.37" fill="#000" >Left Forelimb</text>
<rect x="18.80" y="591.00" width="16.00" height="8.80" fill="#5cba48" />
<text x="36.96" y="598.60" font-size="9.23" fill="#000" >Left Hindlimb</text>
<rect x="123.00" y="578.80" width="15.00" height="8.20" fill="#58c5da" />
<text x="141.26" y="586.00" font-size="9.29" fill="#000" >Right Forelimb</text>
<rect x="123.00" y="591.00" width="15.00" height="8.80" fill="#a65aac" />
<text x="141.26" y="598.60" font-size="9.25" fill="#000" >Left Hindlimb</text>
<text x="235.15" y="421.20" font-size="14.00" font-weight="bold" fill="#000" >G)</text>
<text x="299.85" y="421.80" font-size="11.59" font-weight="bold" fill="#000" >Forelimb Stride Length</text>
<line x1="281.20" y1="436.10" x2="281.20" y2="577.80" stroke="#111" stroke-width="1.2" />
<line x1="280.60" y1="577.20" x2="451.00" y2="577.20" stroke="#111" stroke-width="1.2" />
<line x1="278.70" y1="577.20" x2="281.20" y2="577.20" stroke="#111" stroke-width="1" />
<text x="277.40" y="579.60" font-size="6.9" text-anchor="end" fill="#000" >0.0</text>
<line x1="278.70" y1="549.08" x2="281.20" y2="549.08" stroke="#111" stroke-width="1" />
<text x="277.40" y="551.48" font-size="6.9" text-anchor="end" fill="#000" >0.5</text>
<line x1="278.70" y1="520.96" x2="281.20" y2="520.96" stroke="#111" stroke-width="1" />
<text x="277.40" y="523.36" font-size="6.9" text-anchor="end" fill="#000" >1.0</text>
<line x1="278.70" y1="492.84" x2="281.20" y2="492.84" stroke="#111" stroke-width="1" />
<text x="277.40" y="495.24" font-size="6.9" text-anchor="end" fill="#000" >1.5</text>
<line x1="278.70" y1="464.72" x2="281.20" y2="464.72" stroke="#111" stroke-width="1" />
<text x="277.40" y="467.12" font-size="6.9" text-anchor="end" fill="#000" >2.0</text>
<line x1="278.70" y1="436.60" x2="281.20" y2="436.60" stroke="#111" stroke-width="1" />
<text x="277.40" y="439.00" font-size="6.9" text-anchor="end" fill="#000" >2.5</text>
<text transform="translate(257.20,542.32) rotate(-90)" font-size="9.24" fill="#000">Stride Length (cm)</text>
<rect x="289.70" y="464.72" width="13.00" height="112.48" fill="#787674" stroke="#1e1e1e" stroke-width="1"/>
<line x1="296.20" y1="450.10" x2="296.20" y2="479.34" stroke="#333" stroke-width="1" />
<line x1="292.20" y1="450.10" x2="300.20" y2="450.10" stroke="#333" stroke-width="1" />
<line x1="292.20" y1="479.34" x2="300.20" y2="479.34" stroke="#333" stroke-width="1" />
<rect x="295.20" y="445.16" width="2.00" height="2.00" fill="#444" />
<rect x="295.20" y="452.47" width="2.00" height="2.00" fill="#444" />
<rect x="295.20" y="491.84" width="2.00" height="2.00" fill="#444" />
<line x1="296.20" y1="577.20" x2="296.20" y2="579.20" stroke="#111" stroke-width="1" />
<text x="290.13" y="585.90" font-size="7.00" fill="#000" >Left</text>
<rect x="311.70" y="474.28" width="12.90" height="102.92" fill="#787674" stroke="#1e1e1e" stroke-width="1"/>
<line x1="318.15" y1="459.66" x2="318.15" y2="488.90" stroke="#333" stroke-width="1" />
<line x1="314.15" y1="459.66" x2="322.15" y2="459.66" stroke="#333" stroke-width="1" />
<line x1="314.15" y1="488.90" x2="322.15" y2="488.90" stroke="#333" stroke-width="1" />
<rect x="317.15" y="455.28" width="2.00" height="2.00" fill="#444" />
<rect x="317.15" y="462.03" width="2.00" height="2.00" fill="#444" />
<rect x="317.15" y="501.40" width="2.00" height="2.00" fill="#444" />
<line x1="318.15" y1="577.20" x2="318.15" y2="579.20" stroke="#111" stroke-width="1" />
<text x="309.75" y="585.90" font-size="7.00" fill="#000" >Right</text>
<rect x="348.60" y="526.02" width="12.90" height="51.18" fill="#a6c4a8" stroke="#3a9a62" stroke-width="1"/>
<line x1="355.05" y1="519.84" x2="355.05" y2="532.21" stroke="#2e9a5c" stroke-width="1" />
<line x1="351.05" y1="519.84" x2="359.05" y2="519.84" stroke="#2e9a5c" stroke-width="1" />
<line x1="351.05" y1="532.21" x2="359.05" y2="532.21" stroke="#2e9a5c" stroke-width="1" />
<rect x="350.05" y="490.72" width="2.00" height="2.00" fill="#72b888" />
<rect x="350.05" y="507.02" width="2.00" height="2.00" fill="#72b888" />
<rect x="350.05" y="522.77" width="2.00" height="2.00" fill="#72b888" />
<rect x="358.05" y="522.77" width="2.00" height="2.00" fill="#72b888" />
<rect x="350.05" y="541.33" width="2.00" height="2.00" fill="#72b888" />
<rect x="358.05" y="541.33" width="2.00" height="2.00" fill="#72b888" />
<rect x="354.05" y="535.71" width="2.00" height="2.00" fill="#72b888" />
<rect x="352.05" y="528.40" width="2.00" height="2.00" fill="#72b888" />
<rect x="357.05" y="529.52" width="2.00" height="2.00" fill="#72b888" />
<line x1="355.05" y1="577.20" x2="355.05" y2="579.20" stroke="#111" stroke-width="1" />
<text x="348.98" y="585.90" font-size="7.00" fill="#000" >Left</text>
<rect x="370.70" y="526.58" width="12.80" height="50.62" fill="#a6c4a8" stroke="#3a9a62" stroke-width="1"/>
<line x1="377.10" y1="519.84" x2="377.10" y2="533.33" stroke="#2e9a5c" stroke-width="1" />
<line x1="373.10" y1="519.84" x2="381.10" y2="519.84" stroke="#2e9a5c" stroke-width="1" />
<line x1="373.10" y1="533.33" x2="381.10" y2="533.33" stroke="#2e9a5c" stroke-width="1" />
<rect x="376.10" y="491.84" width="2.00" height="2.00" fill="#72b888" />
<rect x="376.10" y="505.90" width="2.00" height="2.00" fill="#72b888" />
<rect x="372.10" y="522.77" width="2.00" height="2.00" fill="#72b888" />
<rect x="380.10" y="522.77" width="2.00" height="2.00" fill="#72b888" />
<rect x="373.10" y="545.27" width="2.00" height="2.00" fill="#72b888" />
<rect x="380.10" y="542.46" width="2.00" height="2.00" fill="#72b888" />
<rect x="376.10" y="535.71" width="2.00" height="2.00" fill="#72b888" />
<rect x="376.10" y="530.08" width="2.00" height="2.00" fill="#72b888" />
<line x1="377.10" y1="577.20" x2="377.10" y2="579.20" stroke="#111" stroke-width="1" />
<text x="368.70" y="585.90" font-size="7.00" fill="#000" >Right</text>
<rect x="406.80" y="510.27" width="12.80" height="66.93" fill="#f8ab8f" stroke="#ee6652" stroke-width="1"/>
<line x1="413.20" y1="506.34" x2="413.20" y2="514.21" stroke="#e8503c" stroke-width="1" />
<line x1="409.20" y1="506.34" x2="417.20" y2="506.34" stroke="#e8503c" stroke-width="1" />
<line x1="409.20" y1="514.21" x2="417.20" y2="514.21" stroke="#e8503c" stroke-width="1" />
<rect x="412.20" y="489.03" width="2.00" height="2.00" fill="#f0805e" />
<rect x="408.20" y="498.59" width="2.00" height="2.00" fill="#f0805e" />
<rect x="416.20" y="498.59" width="2.00" height="2.00" fill="#f0805e" />
<rect x="409.20" y="508.71" width="2.00" height="2.00" fill="#f0805e" />
<rect x="415.20" y="511.52" width="2.00" height="2.00" fill="#f0805e" />
<rect x="412.20" y="521.08" width="2.00" height="2.00" fill="#f0805e" />
<rect x="412.20" y="528.40" width="2.00" height="2.00" fill="#f0805e" />
<rect x="408.20" y="504.78" width="2.00" height="2.00" fill="#f0805e" />
<line x1="413.20" y1="577.20" x2="413.20" y2="579.20" stroke="#111" stroke-width="1" />
<text x="407.13" y="585.90" font-size="7.00" fill="#000" >Left</text>
<rect x="429.20" y="510.84" width="12.80" height="66.36" fill="#f8ab8f" stroke="#ee6652" stroke-width="1"/>
<line x1="435.60" y1="507.46" x2="435.60" y2="514.21" stroke="#e8503c" stroke-width="1" />
<line x1="431.60" y1="507.46" x2="439.60" y2="507.46" stroke="#e8503c" stroke-width="1" />
<line x1="431.60" y1="514.21" x2="439.60" y2="514.21" stroke="#e8503c" stroke-width="1" />
<rect x="434.60" y="494.65" width="2.00" height="2.00" fill="#f0805e" />
<rect x="430.60" y="503.09" width="2.00" height="2.00" fill="#f0805e" />
<rect x="438.60" y="503.09" width="2.00" height="2.00" fill="#f0805e" />
<rect x="431.60" y="508.71" width="2.00" height="2.00" fill="#f0805e" />
<rect x="438.60" y="513.21" width="2.00" height="2.00" fill="#f0805e" />
<rect x="434.60" y="517.15" width="2.00" height="2.00" fill="#f0805e" />
<rect x="434.60" y="524.46" width="2.00" height="2.00" fill="#f0805e" />
<rect x="430.60" y="505.90" width="2.00" height="2.00" fill="#f0805e" />
<line x1="435.60" y1="577.20" x2="435.60" y2="579.20" stroke="#111" stroke-width="1" />
<text x="427.20" y="585.90" font-size="7.00" fill="#000" >Right</text>
<line x1="289.60" y1="589.50" x2="324.20" y2="589.50" stroke="#333" stroke-width="1.0" />
<text x="297.85" y="597.95" font-size="7.00" fill="#000" >Sham</text>
<line x1="349.20" y1="589.50" x2="384.20" y2="589.50" stroke="#333" stroke-width="1.0" />
<text x="349.79" y="597.95" font-size="7.00" fill="#000" >AAV9-Syn-</text>
<text x="357.09" y="605.80" font-size="7.00" fill="#000" >EGFP</text>
<line x1="406.20" y1="589.50" x2="442.80" y2="589.50" stroke="#333" stroke-width="1.0" />
<text x="407.60" y="597.95" font-size="7.00" fill="#000" >AAV9-Syn-</text>
<text x="415.08" y="605.80" font-size="7.00" fill="#000" >KCC2</text>
<path d="M348.4,482.2 V480.7 H382.6 V482.2 M365.2,480.7 V446.5 H423.5 V463.6 M405.8,465.1 V463.6 H439.9 V465.1" fill="none" stroke="#555" stroke-width="0.9"/>
<path d="M392.50,442.60L396.70,442.60M393.55,440.78L395.65,444.42M395.65,440.78L393.55,444.42" stroke="#444" stroke-width="0.9" fill="none"/>
<text x="466.75" y="420.80" font-size="14.00" font-weight="bold" fill="#000" >H)</text>
<text x="529.05" y="421.80" font-size="11.60" font-weight="bold" fill="#000" >Hindlimb Stride Length</text>
<line x1="504.80" y1="440.80" x2="504.80" y2="576.80" stroke="#111" stroke-width="1.2" />
<line x1="504.20" y1="576.20" x2="671.50" y2="576.20" stroke="#111" stroke-width="1.2" />
<line x1="502.30" y1="576.20" x2="504.80" y2="576.20" stroke="#111" stroke-width="1" />
<text x="501.00" y="578.60" font-size="6.9" text-anchor="end" fill="#000" >0</text>
<line x1="502.30" y1="542.48" x2="504.80" y2="542.48" stroke="#111" stroke-width="1" />
<text x="501.00" y="544.88" font-size="6.9" text-anchor="end" fill="#000" >1</text>
<line x1="502.30" y1="508.75" x2="504.80" y2="508.75" stroke="#111" stroke-width="1" />
<text x="501.00" y="511.15" font-size="6.9" text-anchor="end" fill="#000" >2</text>
<line x1="502.30" y1="475.03" x2="504.80" y2="475.03" stroke="#111" stroke-width="1" />
<text x="501.00" y="477.43" font-size="6.9" text-anchor="end" fill="#000" >3</text>
<line x1="502.30" y1="441.30" x2="504.80" y2="441.30" stroke="#111" stroke-width="1" />
<text x="501.00" y="443.70" font-size="6.9" text-anchor="end" fill="#000" >4</text>
<text transform="translate(488.60,542.32) rotate(-90)" font-size="9.24" fill="#000">Stride Length (cm)</text>
<rect x="513.80" y="510.77" width="12.20" height="65.43" fill="#787674" stroke="#1e1e1e" stroke-width="1"/>
<line x1="519.90" y1="503.35" x2="519.90" y2="518.19" stroke="#333" stroke-width="1" />
<line x1="515.90" y1="503.35" x2="523.90" y2="503.35" stroke="#333" stroke-width="1" />
<line x1="515.90" y1="518.19" x2="523.90" y2="518.19" stroke="#333" stroke-width="1" />
<rect x="516.90" y="502.02" width="2.00" height="2.00" fill="#444" />
<rect x="518.90" y="526.30" width="2.00" height="2.00" fill="#444" />
<line x1="519.90" y1="576.20" x2="519.90" y2="578.20" stroke="#111" stroke-width="1" />
<text x="513.83" y="584.90" font-size="7.00" fill="#000" >Left</text>
<rect x="534.70" y="509.42" width="12.80" height="66.78" fill="#787674" stroke="#1e1e1e" stroke-width="1"/>
<line x1="541.10" y1="504.03" x2="541.10" y2="514.82" stroke="#333" stroke-width="1" />
<line x1="537.10" y1="504.03" x2="545.10" y2="504.03" stroke="#333" stroke-width="1" />
<line x1="537.10" y1="514.82" x2="545.10" y2="514.82" stroke="#333" stroke-width="1" />
<rect x="540.10" y="501.00" width="2.00" height="2.00" fill="#444" />
<rect x="540.10" y="510.45" width="2.00" height="2.00" fill="#444" />
<line x1="541.10" y1="576.20" x2="541.10" y2="578.20" stroke="#111" stroke-width="1" />
<text x="532.70" y="584.90" font-size="7.00" fill="#000" >Right</text>
<rect x="571.50" y="523.25" width="12.70" height="52.95" fill="#a6c4a8" stroke="#3a9a62" stroke-width="1"/>
<line x1="577.85" y1="516.17" x2="577.85" y2="530.33" stroke="#2e9a5c" stroke-width="1" />
<line x1="573.85" y1="516.17" x2="581.85" y2="516.17" stroke="#2e9a5c" stroke-width="1" />
<line x1="573.85" y1="530.33" x2="581.85" y2="530.33" stroke="#2e9a5c" stroke-width="1" />
<rect x="572.85" y="503.70" width="2.00" height="2.00" fill="#72b888" />
<rect x="580.85" y="503.70" width="2.00" height="2.00" fill="#72b888" />
<rect x="572.85" y="514.50" width="2.00" height="2.00" fill="#72b888" />
<rect x="580.85" y="514.50" width="2.00" height="2.00" fill="#72b888" />
<rect x="576.85" y="546.53" width="2.00" height="2.00" fill="#72b888" />
<rect x="576.85" y="556.65" width="2.00" height="2.00" fill="#72b888" />
<rect x="572.85" y="521.24" width="2.00" height="2.00" fill="#72b888" />
<rect x="579.85" y="527.99" width="2.00" height="2.00" fill="#72b888" />
<line x1="577.85" y1="576.20" x2="577.85" y2="578.20" stroke="#111" stroke-width="1" />
<text x="571.78" y="584.90" font-size="7.00" fill="#000" >Left</text>
<rect x="592.90" y="525.61" width="12.80" height="50.59" fill="#a6c4a8" stroke="#3a9a62" stroke-width="1"/>
<line x1="599.30" y1="517.18" x2="599.30" y2="534.04" stroke="#2e9a5c" stroke-width="1" />
<line x1="595.30" y1="517.18" x2="603.30" y2="517.18" stroke="#2e9a5c" stroke-width="1" />
<line x1="595.30" y1="534.04" x2="603.30" y2="534.04" stroke="#2e9a5c" stroke-width="1" />
<rect x="598.30" y="495.95" width="2.00" height="2.00" fill="#72b888" />
<rect x="594.30" y="514.50" width="2.00" height="2.00" fill="#72b888" />
<rect x="602.30" y="514.50" width="2.00" height="2.00" fill="#72b888" />
<rect x="598.30" y="526.30" width="2.00" height="2.00" fill="#72b888" />
<rect x="594.30" y="534.73" width="2.00" height="2.00" fill="#72b888" />
<rect x="598.30" y="559.01" width="2.00" height="2.00" fill="#72b888" />
<rect x="598.30" y="565.76" width="2.00" height="2.00" fill="#72b888" />
<rect x="602.30" y="520.57" width="2.00" height="2.00" fill="#72b888" />
<line x1="599.30" y1="576.20" x2="599.30" y2="578.20" stroke="#111" stroke-width="1" />
<text x="590.90" y="584.90" font-size="7.00" fill="#000" >Right</text>
<rect x="629.70" y="502.00" width="12.80" height="74.20" fill="#f8ab8f" stroke="#ee6652" stroke-width="1"/>
<line x1="636.10" y1="496.61" x2="636.10" y2="507.40" stroke="#e8503c" stroke-width="1" />
<line x1="632.10" y1="496.61" x2="640.10" y2="496.61" stroke="#e8503c" stroke-width="1" />
<line x1="632.10" y1="507.40" x2="640.10" y2="507.40" stroke="#e8503c" stroke-width="1" />
<rect x="635.10" y="475.71" width="2.00" height="2.00" fill="#f0805e" />
<rect x="631.10" y="487.51" width="2.00" height="2.00" fill="#f0805e" />
<rect x="639.10" y="487.51" width="2.00" height="2.00" fill="#f0805e" />
<rect x="631.10" y="499.32" width="2.00" height="2.00" fill="#f0805e" />
<rect x="639.10" y="501.00" width="2.00" height="2.00" fill="#f0805e" />
<rect x="635.10" y="514.50" width="2.00" height="2.00" fill="#f0805e" />
<rect x="635.10" y="524.61" width="2.00" height="2.00" fill="#f0805e" />
<rect x="632.10" y="507.75" width="2.00" height="2.00" fill="#f0805e" />
<line x1="636.10" y1="576.20" x2="636.10" y2="578.20" stroke="#111" stroke-width="1" />
<text x="630.03" y="584.90" font-size="7.00" fill="#000" >Left</text>
<rect x="651.20" y="502.00" width="12.80" height="74.20" fill="#f8ab8f" stroke="#ee6652" stroke-width="1"/>
<line x1="657.60" y1="497.96" x2="657.60" y2="506.05" stroke="#e8503c" stroke-width="1" />
<line x1="653.60" y1="497.96" x2="661.60" y2="497.96" stroke="#e8503c" stroke-width="1" />
<line x1="653.60" y1="506.05" x2="661.60" y2="506.05" stroke="#e8503c" stroke-width="1" />
<rect x="652.60" y="485.83" width="2.00" height="2.00" fill="#f0805e" />
<rect x="660.60" y="487.51" width="2.00" height="2.00" fill="#f0805e" />
<rect x="652.60" y="492.57" width="2.00" height="2.00" fill="#f0805e" />
<rect x="656.60" y="497.63" width="2.00" height="2.00" fill="#f0805e" />
<rect x="660.60" y="502.69" width="2.00" height="2.00" fill="#f0805e" />
<rect x="656.60" y="506.06" width="2.00" height="2.00" fill="#f0805e" />
<rect x="656.60" y="512.81" width="2.00" height="2.00" fill="#f0805e" />
<rect x="653.60" y="507.75" width="2.00" height="2.00" fill="#f0805e" />
<line x1="657.60" y1="576.20" x2="657.60" y2="578.20" stroke="#111" stroke-width="1" />
<text x="649.20" y="584.90" font-size="7.00" fill="#000" >Right</text>
<line x1="513.00" y1="589.30" x2="548.50" y2="589.30" stroke="#333" stroke-width="1.0" />
<text x="521.70" y="597.75" font-size="7.00" fill="#000" >Sham</text>
<line x1="571.00" y1="589.30" x2="606.50" y2="589.30" stroke="#333" stroke-width="1.0" />
<text x="571.85" y="597.75" font-size="7.00" fill="#000" >AAV9-Syn-</text>
<text x="579.14" y="605.60" font-size="7.00" fill="#000" >EGFP</text>
<line x1="629.00" y1="589.30" x2="665.00" y2="589.30" stroke="#333" stroke-width="1.0" />
<text x="630.10" y="597.75" font-size="7.00" fill="#000" >AAV9-Syn-</text>
<text x="637.59" y="605.60" font-size="7.00" fill="#000" >KCC2</text>
<path d="M571,489.1 V487.6 H605.3 V489.1 M587.8,487.6 V449.3 H643.6 V453.9 M627.7,455.4 V453.9 H662 V455.4" fill="none" stroke="#555" stroke-width="0.9"/>
<path d="M614.20,445.00L619.00,445.00M615.40,442.92L617.80,447.08M617.80,442.92L615.40,447.08" stroke="#444" stroke-width="0.9" fill="none"/>
</svg>
</body></html>
